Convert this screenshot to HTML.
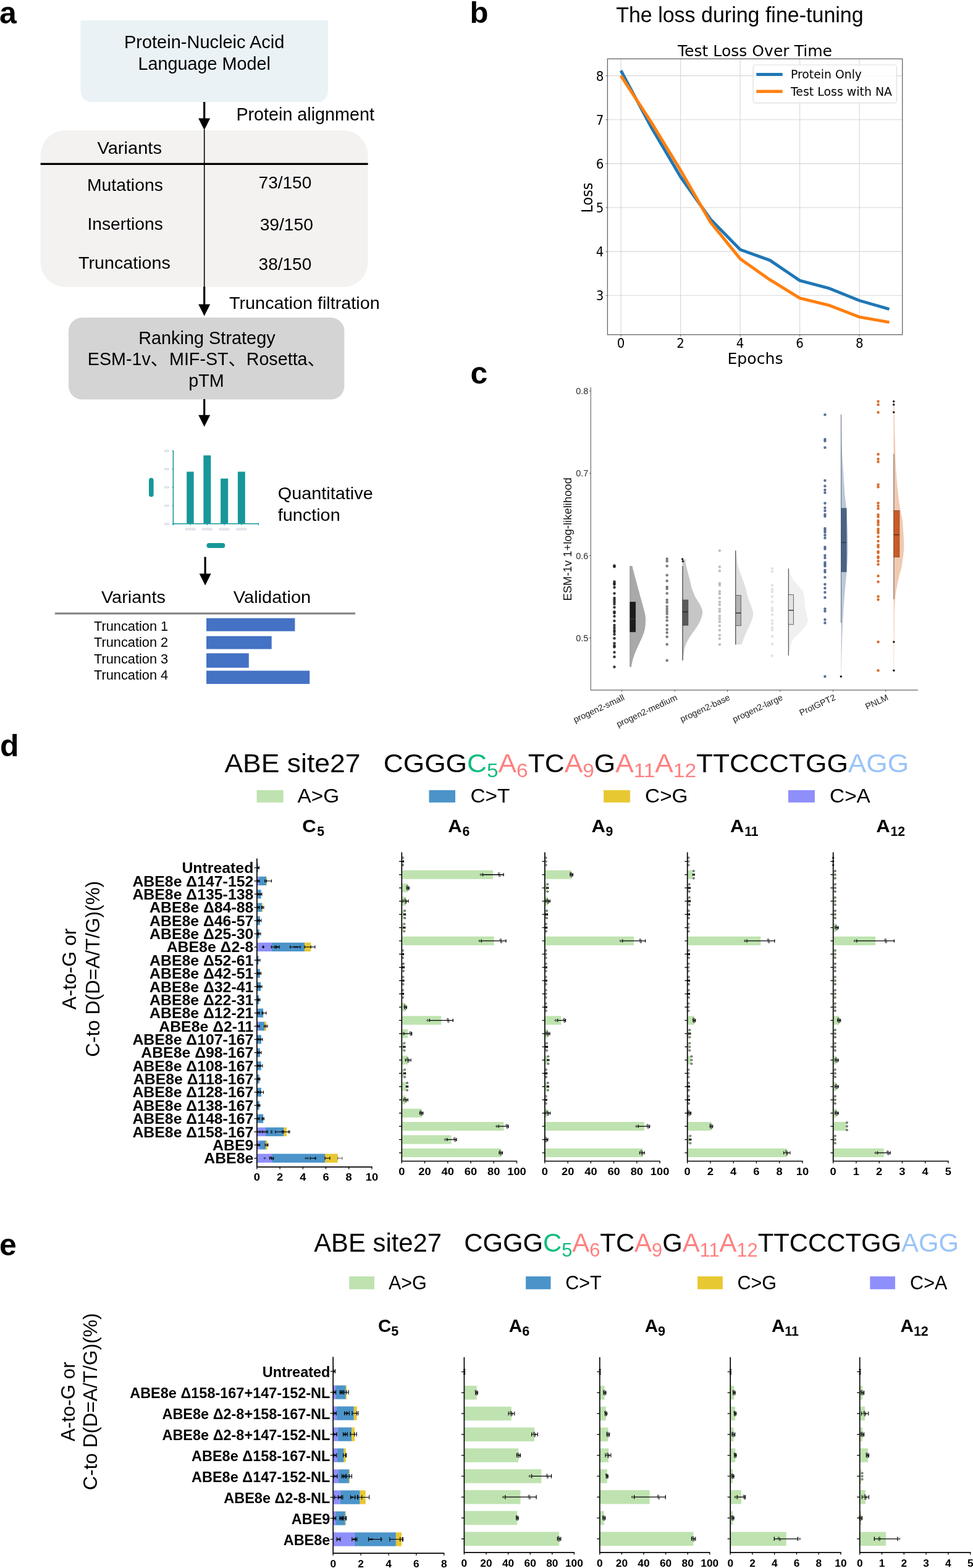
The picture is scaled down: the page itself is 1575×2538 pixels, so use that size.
<!DOCTYPE html>
<html lang="en">
<head>
<meta charset="utf-8">
<title>Figure</title>
<style>
html,body{margin:0;padding:0;background:#fff;}
body{width:1575px;height:2538px;overflow:hidden;}
svg{display:block;font-family:"Liberation Sans","Noto Sans CJK SC",sans-serif;fill:#000;}
</style>
</head>
<body>
<svg width="1575" height="2538" viewBox="0 0 1575 2538">
<!-- panel a -->
<text x="-1" y="37.5" font-size="50" font-weight="bold">a</text>
<path d="M130.5 33 H531 V145 Q531 165.3 511 165.3 H150.5 Q130.5 165.3 130.5 145 Z" fill="#eaf2f6"/>
<text x="330.7" y="78" font-size="29" text-anchor="middle" textLength="259.5" lengthAdjust="spacingAndGlyphs">Protein-Nucleic Acid</text>
<text x="330.7" y="113.3" font-size="29" text-anchor="middle" textLength="214.5" lengthAdjust="spacingAndGlyphs">Language Model</text>
<line x1="330.7" y1="165" x2="330.7" y2="192.5" stroke="#000" stroke-width="3.2"/>
<path d="M321.2 191.5 L340.2 191.5 L330.7 210.5Z" fill="#000"/>
<text x="382.4" y="195" font-size="29" textLength="223.5" lengthAdjust="spacingAndGlyphs">Protein alignment</text>
<rect x="65.6" y="211" width="530" height="253.5" fill="#f3f2f1" rx="40"/>
<line x1="330.7" y1="210" x2="330.7" y2="465" stroke="#000" stroke-width="1.6"/>
<line x1="65.6" y1="265.4" x2="595.6" y2="265.4" stroke="#000" stroke-width="3.4"/>
<text x="209.7" y="249.3" font-size="28.5" text-anchor="middle" textLength="104.6" lengthAdjust="spacingAndGlyphs">Variants</text>
<text x="202.4" y="308.5" font-size="28.5" text-anchor="middle" textLength="122.8" lengthAdjust="spacingAndGlyphs">Mutations</text>
<text x="202.6" y="372" font-size="28.5" text-anchor="middle" textLength="122.3" lengthAdjust="spacingAndGlyphs">Insertions</text>
<text x="201.4" y="435.4" font-size="28.5" text-anchor="middle" textLength="148.7" lengthAdjust="spacingAndGlyphs">Truncations</text>
<text x="461.4" y="305" font-size="28.5" text-anchor="middle" textLength="85.7" lengthAdjust="spacingAndGlyphs">73/150</text>
<text x="463.8" y="373.3" font-size="28.5" text-anchor="middle" textLength="86.3" lengthAdjust="spacingAndGlyphs">39/150</text>
<text x="461.4" y="436.8" font-size="28.5" text-anchor="middle" textLength="85.7" lengthAdjust="spacingAndGlyphs">38/150</text>
<line x1="330.7" y1="464" x2="330.7" y2="493.4" stroke="#000" stroke-width="3.2"/>
<path d="M321.2 492.4 L340.2 492.4 L330.7 511.4Z" fill="#000"/>
<text x="371" y="499.7" font-size="28.5" textLength="243.8" lengthAdjust="spacingAndGlyphs">Truncation filtration</text>
<rect x="111" y="514" width="446.4" height="132.6" fill="#d4d4d4" rx="22"/>
<text x="334.9" y="556.5" font-size="28.7" text-anchor="middle" textLength="221.5" lengthAdjust="spacingAndGlyphs">Ranking Strategy</text>
<text x="141.8" y="590.7" font-size="28.7">ESM-1v、</text>
<text x="274" y="590.7" font-size="28.7">MIF-ST、</text>
<text x="398.7" y="590.7" font-size="28.7">Rosetta、</text>
<text x="334" y="626" font-size="28.7" text-anchor="middle" textLength="57.5" lengthAdjust="spacingAndGlyphs">pTM</text>
<line x1="330.7" y1="646" x2="330.7" y2="672.7" stroke="#000" stroke-width="3.2"/>
<path d="M321.2 671.7 L340.2 671.7 L330.7 690.7Z" fill="#000"/>
<rect x="265.5" y="727.8" width="9" height="4" fill="#e2e6ec" rx="2"/>
<line x1="278.5" y1="729.8" x2="281" y2="729.8" stroke="#17979a" stroke-width="1.2"/>
<rect x="265.5" y="757.3" width="9" height="4" fill="#e2e6ec" rx="2"/>
<line x1="278.5" y1="759.3" x2="281" y2="759.3" stroke="#17979a" stroke-width="1.2"/>
<rect x="265.5" y="786.7" width="9" height="4" fill="#e2e6ec" rx="2"/>
<line x1="278.5" y1="788.7" x2="281" y2="788.7" stroke="#17979a" stroke-width="1.2"/>
<rect x="265.5" y="816.5" width="9" height="4" fill="#e2e6ec" rx="2"/>
<line x1="278.5" y1="818.5" x2="281" y2="818.5" stroke="#17979a" stroke-width="1.2"/>
<rect x="265.5" y="846.2" width="9" height="4" fill="#e2e6ec" rx="2"/>
<line x1="278.5" y1="848.2" x2="281" y2="848.2" stroke="#17979a" stroke-width="1.2"/>
<rect x="299.1" y="854.3" width="18" height="4.4" fill="#e2e6ec" rx="2.2"/>
<line x1="308.1" y1="847.8" x2="308.1" y2="850.3" stroke="#17979a" stroke-width="1.2"/>
<rect x="326.3" y="854.3" width="18" height="4.4" fill="#e2e6ec" rx="2.2"/>
<line x1="335.3" y1="847.8" x2="335.3" y2="850.3" stroke="#17979a" stroke-width="1.2"/>
<rect x="354.1" y="854.3" width="18" height="4.4" fill="#e2e6ec" rx="2.2"/>
<line x1="363.1" y1="847.8" x2="363.1" y2="850.3" stroke="#17979a" stroke-width="1.2"/>
<rect x="381.9" y="854.3" width="18" height="4.4" fill="#e2e6ec" rx="2.2"/>
<line x1="390.9" y1="847.8" x2="390.9" y2="850.3" stroke="#17979a" stroke-width="1.2"/>
<line x1="418.3" y1="846.5" x2="418.3" y2="850.3" stroke="#17979a" stroke-width="1.2"/>
<line x1="280.4" y1="850.3" x2="280.4" y2="846.5" stroke="#17979a" stroke-width="1.2"/>
<path d="M280.4 729.4 V847.8 H418.3" fill="none" stroke="#17979a" stroke-width="1.6"/>
<rect x="302.2" y="763.5" width="11.5" height="84.3" fill="#17979a"/>
<rect x="329.4" y="737.1" width="11.9" height="110.7" fill="#17979a"/>
<rect x="357.1" y="774.6" width="12.1" height="73.2" fill="#17979a"/>
<rect x="384.9" y="763.5" width="11.9" height="84.3" fill="#17979a"/>
<rect x="241" y="773.4" width="7.6" height="30.8" fill="#17979a" rx="3.8"/>
<rect x="334.5" y="879" width="29.8" height="7.9" fill="#17979a" rx="3.9"/>
<line x1="332.1" y1="901.4" x2="332.1" y2="929.5" stroke="#000" stroke-width="3.2"/>
<path d="M322.6 928.5 L341.6 928.5 L332.1 947.5Z" fill="#000"/>
<text x="215.9" y="976" font-size="28.5" text-anchor="middle" textLength="104" lengthAdjust="spacingAndGlyphs">Variants</text>
<text x="440.5" y="976" font-size="28.5" text-anchor="middle" textLength="125.4" lengthAdjust="spacingAndGlyphs">Validation</text>
<line x1="88.9" y1="993.1" x2="575" y2="993.1" stroke="#7f7f7f" stroke-width="3"/>
<text x="152" y="1021.1" font-size="22.5" textLength="120.2" lengthAdjust="spacingAndGlyphs">Truncation 1</text>
<rect x="334.1" y="1000.6" width="143.3" height="21.1" fill="#4472c4"/>
<text x="152" y="1046.8" font-size="22.5" textLength="120.2" lengthAdjust="spacingAndGlyphs">Truncation 2</text>
<rect x="334.1" y="1029.6" width="105.6" height="21" fill="#4472c4"/>
<text x="152" y="1074.2" font-size="22.5" textLength="120.2" lengthAdjust="spacingAndGlyphs">Truncation 3</text>
<rect x="334.1" y="1057.4" width="68.7" height="23.4" fill="#4472c4"/>
<text x="152" y="1100.3" font-size="22.5" textLength="120.2" lengthAdjust="spacingAndGlyphs">Truncation 4</text>
<rect x="334.1" y="1085.6" width="167.1" height="21.4" fill="#4472c4"/>
<text x="449.7" y="807.5" font-size="28.5" textLength="154" lengthAdjust="spacingAndGlyphs">Quantitative</text>
<text x="449.7" y="843" font-size="28.5" textLength="101" lengthAdjust="spacingAndGlyphs">function</text>
<!-- panel b -->
<text x="760.5" y="36.6" font-size="49" font-weight="bold">b</text>
<text x="1197.4" y="36.3" font-size="34.5" text-anchor="middle" textLength="400.5" lengthAdjust="spacingAndGlyphs">The loss during fine-tuning</text>
<rect x="983.4" y="95.3" width="477.3" height="446.4" fill="#fff"/>
<g font-family='"DejaVu Sans", "Liberation Sans", sans-serif' font-size="20.5">
<line x1="1005.1" y1="95.3" x2="1005.1" y2="541.7" stroke="#d6d6d6" stroke-width="1.1"/>
<line x1="1005.1" y1="541.7" x2="1005.1" y2="544.7" stroke="#666" stroke-width="1"/>
<text x="1005.1" y="563" text-anchor="middle" textLength="12.6" lengthAdjust="spacingAndGlyphs">0</text>
<line x1="1101.62" y1="95.3" x2="1101.62" y2="541.7" stroke="#d6d6d6" stroke-width="1.1"/>
<line x1="1101.62" y1="541.7" x2="1101.62" y2="544.7" stroke="#666" stroke-width="1"/>
<text x="1101.62" y="563" text-anchor="middle" textLength="12.6" lengthAdjust="spacingAndGlyphs">2</text>
<line x1="1198.14" y1="95.3" x2="1198.14" y2="541.7" stroke="#d6d6d6" stroke-width="1.1"/>
<line x1="1198.14" y1="541.7" x2="1198.14" y2="544.7" stroke="#666" stroke-width="1"/>
<text x="1198.14" y="563" text-anchor="middle" textLength="12.6" lengthAdjust="spacingAndGlyphs">4</text>
<line x1="1294.66" y1="95.3" x2="1294.66" y2="541.7" stroke="#d6d6d6" stroke-width="1.1"/>
<line x1="1294.66" y1="541.7" x2="1294.66" y2="544.7" stroke="#666" stroke-width="1"/>
<text x="1294.66" y="563" text-anchor="middle" textLength="12.6" lengthAdjust="spacingAndGlyphs">6</text>
<line x1="1391.18" y1="95.3" x2="1391.18" y2="541.7" stroke="#d6d6d6" stroke-width="1.1"/>
<line x1="1391.18" y1="541.7" x2="1391.18" y2="544.7" stroke="#666" stroke-width="1"/>
<text x="1391.18" y="563" text-anchor="middle" textLength="12.6" lengthAdjust="spacingAndGlyphs">8</text>
<line x1="983.4" y1="478.3" x2="1460.7" y2="478.3" stroke="#d6d6d6" stroke-width="1.1"/>
<line x1="980.4" y1="478.3" x2="983.4" y2="478.3" stroke="#666" stroke-width="1"/>
<text x="977.4" y="486.3" text-anchor="end" textLength="12.6" lengthAdjust="spacingAndGlyphs">3</text>
<line x1="983.4" y1="407.17" x2="1460.7" y2="407.17" stroke="#d6d6d6" stroke-width="1.1"/>
<line x1="980.4" y1="407.17" x2="983.4" y2="407.17" stroke="#666" stroke-width="1"/>
<text x="977.4" y="415.17" text-anchor="end" textLength="12.6" lengthAdjust="spacingAndGlyphs">4</text>
<line x1="983.4" y1="336.04" x2="1460.7" y2="336.04" stroke="#d6d6d6" stroke-width="1.1"/>
<line x1="980.4" y1="336.04" x2="983.4" y2="336.04" stroke="#666" stroke-width="1"/>
<text x="977.4" y="344.04" text-anchor="end" textLength="12.6" lengthAdjust="spacingAndGlyphs">5</text>
<line x1="983.4" y1="264.91" x2="1460.7" y2="264.91" stroke="#d6d6d6" stroke-width="1.1"/>
<line x1="980.4" y1="264.91" x2="983.4" y2="264.91" stroke="#666" stroke-width="1"/>
<text x="977.4" y="272.91" text-anchor="end" textLength="12.6" lengthAdjust="spacingAndGlyphs">6</text>
<line x1="983.4" y1="193.78" x2="1460.7" y2="193.78" stroke="#d6d6d6" stroke-width="1.1"/>
<line x1="980.4" y1="193.78" x2="983.4" y2="193.78" stroke="#666" stroke-width="1"/>
<text x="977.4" y="201.78" text-anchor="end" textLength="12.6" lengthAdjust="spacingAndGlyphs">7</text>
<line x1="983.4" y1="122.65" x2="1460.7" y2="122.65" stroke="#d6d6d6" stroke-width="1.1"/>
<line x1="980.4" y1="122.65" x2="983.4" y2="122.65" stroke="#666" stroke-width="1"/>
<text x="977.4" y="130.65" text-anchor="end" textLength="12.6" lengthAdjust="spacingAndGlyphs">8</text>
</g>
<polyline points="1005.1,114.26 1053.36,204.45 1101.62,286.25 1149.88,354.75 1198.14,403.97 1246.4,421.4 1294.66,454.12 1342.92,466.92 1391.18,486.48 1439.44,500.35" fill="none" stroke="#1f77b4" stroke-width="4.9" stroke-linejoin="round"/>
<polyline points="1005.1,122.65 1053.36,196.63 1101.62,275.58 1149.88,359.51 1198.14,418.91 1246.4,452.91 1294.66,482.57 1342.92,494.45 1391.18,513.15 1439.44,521.69" fill="none" stroke="#ff7f0e" stroke-width="4.9" stroke-linejoin="round"/>
<rect x="983.4" y="95.3" width="477.3" height="446.4" fill="none" stroke="#666" stroke-width="1.3"/>
<rect x="1219" y="105" width="232.3" height="61.7" rx="4" fill="#fff" fill-opacity="0.8" stroke="#dedede" stroke-width="1.2"/>
<line x1="1224.3" y1="120.4" x2="1266.7" y2="120.4" stroke="#1f77b4" stroke-width="5"/>
<line x1="1224.3" y1="148.1" x2="1266.7" y2="148.1" stroke="#ff7f0e" stroke-width="5"/>
<text x="1280" y="127.3" font-size="19.5" font-family='"DejaVu Sans", "Liberation Sans", sans-serif' textLength="115" lengthAdjust="spacingAndGlyphs">Protein Only</text>
<text x="1280" y="155" font-size="19.5" font-family='"DejaVu Sans", "Liberation Sans", sans-serif' textLength="164" lengthAdjust="spacingAndGlyphs">Test Loss with NA</text>
<text x="1222" y="90.5" font-size="25.5" text-anchor="middle" font-family='"DejaVu Sans", "Liberation Sans", sans-serif' textLength="250" lengthAdjust="spacingAndGlyphs">Test Loss Over Time</text>
<text x="1222.5" y="589.4" font-size="25.5" text-anchor="middle" font-family='"DejaVu Sans", "Liberation Sans", sans-serif' textLength="90" lengthAdjust="spacingAndGlyphs">Epochs</text>
<text x="958.5" y="320" font-size="25.5" text-anchor="middle" font-family='"DejaVu Sans", "Liberation Sans", sans-serif' textLength="49" lengthAdjust="spacingAndGlyphs" transform="rotate(-90 958.5 320)">Loss</text>
<!-- panel c -->
<text x="761.5" y="621" font-size="50" font-weight="bold">c</text>
<path d="M1019.9 916.08 L1023.34 916.08 C1024.35 919.96 1027.22 931.08 1029.42 939.37 C1031.63 947.65 1034.19 957 1036.57 965.82 C1038.95 974.64 1042.3 985.88 1043.71 992.28 C1045.12 998.67 1045.03 999.77 1045.03 1004.18 C1045.03 1008.59 1044.68 1014.1 1043.71 1018.73 C1042.74 1023.36 1040.98 1027.55 1039.21 1031.96 C1037.45 1036.37 1035.11 1040.78 1033.13 1045.19 C1031.14 1049.59 1028.94 1054 1027.31 1058.41 C1025.68 1062.82 1024.22 1068.11 1023.34 1071.64 C1022.46 1075.17 1022.24 1078.25 1022.02 1079.58 L1019.9 1079.58Z" fill="#a9a9a9"/>
<path d="M1104.6 905.5 L1109.36 905.5 C1109.49 906.74 1109.49 909.47 1110.16 912.91 C1110.82 916.35 1112.23 921.73 1113.33 926.14 C1114.43 930.55 1115.67 934.96 1116.77 939.37 C1117.87 943.77 1118.53 948.18 1119.94 952.59 C1121.35 957 1123.03 961.41 1125.23 965.82 C1127.44 970.23 1131.19 974.86 1133.17 979.05 C1135.16 983.24 1137.14 986.54 1137.14 990.95 C1137.14 995.36 1135.16 1000.87 1133.17 1005.5 C1131.19 1010.13 1128.1 1014.32 1125.23 1018.73 C1122.37 1023.14 1118.62 1027.55 1115.98 1031.96 C1113.33 1036.37 1110.91 1040.78 1109.36 1045.19 C1107.82 1049.59 1107.38 1054.44 1106.72 1058.41 C1106.06 1062.38 1105.61 1067.23 1105.39 1068.99 L1104.6 1068.99Z" fill="#c6c6c6"/>
<path d="M1190.5 891.22 L1191.03 891.22 C1191.51 894.83 1192.79 907.09 1193.94 912.91 C1195.09 918.73 1196.45 921.73 1197.91 926.14 C1199.36 930.55 1201.13 934.96 1202.67 939.37 C1204.21 943.77 1205.89 948.18 1207.17 952.59 C1208.45 957 1209.02 961.41 1210.34 965.82 C1211.66 970.23 1213.65 974.64 1215.1 979.05 C1216.56 983.46 1218.85 987.87 1219.07 992.28 C1219.29 996.68 1217.88 1001.09 1216.43 1005.5 C1214.97 1009.91 1212.33 1014.32 1210.34 1018.73 C1208.36 1023.14 1206.15 1027.86 1204.52 1031.96 C1202.89 1036.06 1201.21 1041.44 1200.55 1043.33 L1190.5 1043.33Z" fill="#e0e0e0"/>
<path d="M1276 920.32 L1277.06 920.32 C1277.76 922.61 1279.26 930.02 1281.29 934.07 C1283.32 938.13 1286.36 941.13 1289.23 944.66 C1292.09 948.18 1296.37 951.71 1298.49 955.24 C1300.6 958.77 1301.18 961.85 1301.93 965.82 C1302.68 969.79 1302.46 974.64 1302.98 979.05 C1303.51 983.46 1304.31 988.09 1305.1 992.28 C1305.89 996.46 1307.97 1000.65 1307.75 1004.18 C1307.53 1007.71 1305.98 1010.13 1303.78 1013.44 C1301.57 1016.75 1297.83 1020.49 1294.52 1024.02 C1291.21 1027.55 1286.36 1031.08 1283.94 1034.6 C1281.51 1038.13 1281.2 1040.78 1279.97 1045.19 C1278.73 1049.59 1277.1 1058.41 1276.53 1061.06 L1276 1061.06Z" fill="#f0f0f0"/>
<path d="M1361.5 671 L1361.7 671 C1361.88 679.83 1362.16 708.2 1362.75 724 C1363.34 739.8 1364.46 753.13 1365.25 765.8 C1366.04 778.47 1366.71 790.55 1367.5 800 C1368.29 809.45 1369.33 814.17 1370 822.5 C1370.67 830.83 1371.08 838.82 1371.5 850 C1371.92 861.18 1372.67 877.03 1372.5 889.6 C1372.33 902.17 1371.47 912.55 1370.5 925.4 C1369.53 938.25 1367.75 952.93 1366.7 966.7 C1365.65 980.47 1364.82 995.78 1364.2 1008 C1363.58 1020.22 1363.4 1025.5 1363 1040 C1362.6 1054.5 1362 1085.83 1361.8 1095 L1361.5 1095Z" fill="#bcc7d6"/>
<path d="M1446.5 649 L1447.5 649 C1447.67 658.05 1447.97 683.83 1448.5 703.3 C1449.03 722.77 1449.65 748.43 1450.7 765.8 C1451.75 783.17 1453.58 797.08 1454.8 807.5 C1456.02 817.92 1457.02 822.6 1458 828.3 C1458.98 834 1459.95 835.58 1460.7 841.7 C1461.45 847.82 1462.08 857.37 1462.5 865 C1462.92 872.63 1463.62 879.23 1463.2 887.5 C1462.78 895.77 1461.4 906.62 1460 914.6 C1458.6 922.58 1456.35 928.5 1454.8 935.4 C1453.25 942.3 1451.75 949.07 1450.7 956 C1449.65 962.93 1448.98 969.67 1448.5 977 C1448.02 984.33 1448.05 982 1447.8 1000 C1447.55 1018 1447.13 1070.83 1447 1085 L1446.5 1085Z" fill="#f1c9b1"/>
<line x1="1019.9" y1="916" x2="1019.9" y2="1079.6" stroke="#8a8a8a" stroke-width="1"/>
<rect x="1019.9" y="974.6" width="8.7" height="48.1" fill="#1c1c1c" stroke="#1c1c1c" stroke-width="0.9"/>
<line x1="1019.9" y1="1002" x2="1028.6" y2="1002" stroke="#3a3a3a" stroke-width="1.3"/>
<line x1="1105" y1="916.3" x2="1105" y2="1069" stroke="#555" stroke-width="1.4"/>
<rect x="1105" y="971.1" width="8.8" height="41" fill="#5a5a5a" stroke="#4a4a4a" stroke-width="0.9"/>
<line x1="1105" y1="990.4" x2="1113.8" y2="990.4" stroke="#222" stroke-width="1.3"/>
<line x1="1190.8" y1="891.2" x2="1190.8" y2="1043.3" stroke="#222" stroke-width="1"/>
<rect x="1190.8" y="963.7" width="8.5" height="48.9" fill="#b3b3b3" stroke="#555" stroke-width="0.9"/>
<line x1="1190.8" y1="992.3" x2="1199.3" y2="992.3" stroke="#222" stroke-width="1.3"/>
<line x1="1276.3" y1="920.3" x2="1276.3" y2="1061" stroke="#333" stroke-width="1"/>
<rect x="1276.3" y="962.6" width="8.1" height="48.2" fill="#e3e3e3" stroke="#555" stroke-width="0.9"/>
<line x1="1276.3" y1="987.8" x2="1284.4" y2="987.8" stroke="#222" stroke-width="1.3"/>
<line x1="1361.5" y1="671" x2="1361.5" y2="1008.3" stroke="#5a6b85" stroke-width="1"/>
<rect x="1361.5" y="822.9" width="8.5" height="102.5" fill="#4a6285" stroke="#41597b" stroke-width="0.9"/>
<line x1="1361.5" y1="878.1" x2="1370" y2="878.1" stroke="#2b3a55" stroke-width="1.3"/>
<line x1="1446.9" y1="734.6" x2="1446.9" y2="969.8" stroke="#6a5a55" stroke-width="1"/>
<rect x="1446.9" y="826.5" width="8.9" height="75.2" fill="#cb5b25" stroke="#8a4a2a" stroke-width="0.9"/>
<line x1="1446.9" y1="865.6" x2="1455.8" y2="865.6" stroke="#5a2a12" stroke-width="1.3"/>
<circle cx="1104.6" cy="905" r="1.7" fill="#111"/>
<circle cx="1105.4" cy="908.6" r="1.7" fill="#111"/>
<circle cx="1361.3" cy="1095" r="1.7" fill="#111"/>
<circle cx="1446.7" cy="649.8" r="1.7" fill="#111"/>
<circle cx="1446.7" cy="655" r="1.7" fill="#111"/>
<circle cx="1446.7" cy="667.3" r="1.7" fill="#111"/>
<circle cx="1446.9" cy="1039" r="1.7" fill="#111"/>
<circle cx="1446.9" cy="1085.2" r="1.7" fill="#111"/>
<g fill="#161616" fill-opacity="0.85">
<circle cx="994.5" cy="915.56" r="2.25"/>
<circle cx="994.5" cy="917.14" r="2.25"/>
<circle cx="994.5" cy="941.48" r="2.25"/>
<circle cx="994.5" cy="944.13" r="2.25"/>
<circle cx="994.5" cy="945.98" r="2.25"/>
<circle cx="994.5" cy="950.74" r="2.25"/>
<circle cx="994.5" cy="960.53" r="2.25"/>
<circle cx="994.5" cy="967.94" r="2.25"/>
<circle cx="994.5" cy="971.11" r="2.25"/>
<circle cx="994.5" cy="974.29" r="2.25"/>
<circle cx="994.5" cy="977.72" r="2.25"/>
<circle cx="994.5" cy="983.02" r="2.25"/>
<circle cx="994.5" cy="990.16" r="2.25"/>
<circle cx="994.5" cy="992.28" r="2.25"/>
<circle cx="994.5" cy="997.57" r="2.25"/>
<circle cx="994.5" cy="1004.97" r="2.25"/>
<circle cx="994.5" cy="1012.12" r="2.25"/>
<circle cx="994.5" cy="1016.08" r="2.25"/>
<circle cx="994.5" cy="1020.05" r="2.25"/>
<circle cx="994.5" cy="1022.7" r="2.25"/>
<circle cx="994.5" cy="1026.67" r="2.25"/>
<circle cx="994.5" cy="1033.28" r="2.25"/>
<circle cx="994.5" cy="1041.22" r="2.25"/>
<circle cx="994.5" cy="1045.19" r="2.25"/>
<circle cx="994.5" cy="1047.3" r="2.25"/>
<circle cx="994.5" cy="1055.77" r="2.25"/>
<circle cx="994.5" cy="1063.17" r="2.25"/>
<circle cx="994.5" cy="1079.58" r="2.25"/>
</g>
<g fill="#5c5c5c" fill-opacity="0.8">
<circle cx="1079.7" cy="904.44" r="2.25"/>
<circle cx="1079.7" cy="908.15" r="2.25"/>
<circle cx="1079.7" cy="916.35" r="2.25"/>
<circle cx="1079.7" cy="930.9" r="2.25"/>
<circle cx="1079.7" cy="940.16" r="2.25"/>
<circle cx="1079.7" cy="949.95" r="2.25"/>
<circle cx="1079.7" cy="953.12" r="2.25"/>
<circle cx="1079.7" cy="960.53" r="2.25"/>
<circle cx="1079.7" cy="971.11" r="2.25"/>
<circle cx="1079.7" cy="975.08" r="2.25"/>
<circle cx="1079.7" cy="981.69" r="2.25"/>
<circle cx="1079.7" cy="985.66" r="2.25"/>
<circle cx="1079.7" cy="989.63" r="2.25"/>
<circle cx="1079.7" cy="993.6" r="2.25"/>
<circle cx="1079.7" cy="998.89" r="2.25"/>
<circle cx="1079.7" cy="1004.18" r="2.25"/>
<circle cx="1079.7" cy="1012.12" r="2.25"/>
<circle cx="1079.7" cy="1018.73" r="2.25"/>
<circle cx="1079.7" cy="1024.02" r="2.25"/>
<circle cx="1079.7" cy="1030.63" r="2.25"/>
<circle cx="1079.7" cy="1043.07" r="2.25"/>
<circle cx="1079.7" cy="1068.99" r="2.25"/>
</g>
<g fill="#b0b0b0" fill-opacity="0.8">
<circle cx="1164.9" cy="891.22" r="2.25"/>
<circle cx="1164.9" cy="917.41" r="2.25"/>
<circle cx="1164.9" cy="924.02" r="2.25"/>
<circle cx="1164.9" cy="944.13" r="2.25"/>
<circle cx="1164.9" cy="947.3" r="2.25"/>
<circle cx="1164.9" cy="957.35" r="2.25"/>
<circle cx="1164.9" cy="961.32" r="2.25"/>
<circle cx="1164.9" cy="967.94" r="2.25"/>
<circle cx="1164.9" cy="974.55" r="2.25"/>
<circle cx="1164.9" cy="979.05" r="2.25"/>
<circle cx="1164.9" cy="985.66" r="2.25"/>
<circle cx="1164.9" cy="989.63" r="2.25"/>
<circle cx="1164.9" cy="997.04" r="2.25"/>
<circle cx="1164.9" cy="1001.53" r="2.25"/>
<circle cx="1164.9" cy="1006.3" r="2.25"/>
<circle cx="1164.9" cy="1012.91" r="2.25"/>
<circle cx="1164.9" cy="1020.05" r="2.25"/>
<circle cx="1164.9" cy="1027.99" r="2.25"/>
<circle cx="1164.9" cy="1033.81" r="2.25"/>
<circle cx="1164.9" cy="1043.33" r="2.25"/>
</g>
<g fill="#dcdcdc" fill-opacity="0.8">
<circle cx="1250" cy="920.32" r="2.25"/>
<circle cx="1250" cy="925.34" r="2.25"/>
<circle cx="1250" cy="947.3" r="2.25"/>
<circle cx="1250" cy="953.92" r="2.25"/>
<circle cx="1250" cy="957.88" r="2.25"/>
<circle cx="1250" cy="965.82" r="2.25"/>
<circle cx="1250" cy="974.29" r="2.25"/>
<circle cx="1250" cy="984.34" r="2.25"/>
<circle cx="1250" cy="988.31" r="2.25"/>
<circle cx="1250" cy="994.92" r="2.25"/>
<circle cx="1250" cy="1004.18" r="2.25"/>
<circle cx="1250" cy="1009.47" r="2.25"/>
<circle cx="1250" cy="1016.08" r="2.25"/>
<circle cx="1250" cy="1020.05" r="2.25"/>
<circle cx="1250" cy="1030.11" r="2.25"/>
<circle cx="1250" cy="1042.54" r="2.25"/>
<circle cx="1250" cy="1061.59" r="2.25"/>
</g>
<g fill="#3f5b86" fill-opacity="0.85">
<circle cx="1335.4" cy="671.25" r="2.25"/>
<circle cx="1335.4" cy="711.04" r="2.25"/>
<circle cx="1335.4" cy="713.75" r="2.25"/>
<circle cx="1335.4" cy="724.58" r="2.25"/>
<circle cx="1335.4" cy="777.71" r="2.25"/>
<circle cx="1335.4" cy="786.67" r="2.25"/>
<circle cx="1335.4" cy="792.92" r="2.25"/>
<circle cx="1335.4" cy="797.5" r="2.25"/>
<circle cx="1335.4" cy="814.58" r="2.25"/>
<circle cx="1335.4" cy="821.88" r="2.25"/>
<circle cx="1335.4" cy="826.67" r="2.25"/>
<circle cx="1335.4" cy="832.71" r="2.25"/>
<circle cx="1335.4" cy="835.83" r="2.25"/>
<circle cx="1335.4" cy="855.21" r="2.25"/>
<circle cx="1335.4" cy="858.33" r="2.25"/>
<circle cx="1335.4" cy="861.46" r="2.25"/>
<circle cx="1335.4" cy="866.25" r="2.25"/>
<circle cx="1335.4" cy="870.83" r="2.25"/>
<circle cx="1335.4" cy="885.42" r="2.25"/>
<circle cx="1335.4" cy="888.54" r="2.25"/>
<circle cx="1335.4" cy="898.96" r="2.25"/>
<circle cx="1335.4" cy="903.12" r="2.25"/>
<circle cx="1335.4" cy="910.42" r="2.25"/>
<circle cx="1335.4" cy="913.54" r="2.25"/>
<circle cx="1335.4" cy="916.25" r="2.25"/>
<circle cx="1335.4" cy="922.92" r="2.25"/>
<circle cx="1335.4" cy="926.04" r="2.25"/>
<circle cx="1335.4" cy="934.38" r="2.25"/>
<circle cx="1335.4" cy="945.83" r="2.25"/>
<circle cx="1335.4" cy="952.08" r="2.25"/>
<circle cx="1335.4" cy="958.75" r="2.25"/>
<circle cx="1335.4" cy="967.29" r="2.25"/>
<circle cx="1335.4" cy="985.42" r="2.25"/>
<circle cx="1335.4" cy="989.17" r="2.25"/>
<circle cx="1335.4" cy="1003.12" r="2.25"/>
<circle cx="1335.4" cy="1008.33" r="2.25"/>
<circle cx="1335.4" cy="1095" r="2.25"/>
</g>
<g fill="#d35f1a" fill-opacity="0.9">
<circle cx="1421.5" cy="649.79" r="2.25"/>
<circle cx="1421.5" cy="655" r="2.25"/>
<circle cx="1421.5" cy="667.5" r="2.25"/>
<circle cx="1421.5" cy="735.21" r="2.25"/>
<circle cx="1421.5" cy="742.92" r="2.25"/>
<circle cx="1421.5" cy="747.5" r="2.25"/>
<circle cx="1421.5" cy="784.58" r="2.25"/>
<circle cx="1421.5" cy="788.33" r="2.25"/>
<circle cx="1421.5" cy="814.17" r="2.25"/>
<circle cx="1421.5" cy="818.75" r="2.25"/>
<circle cx="1421.5" cy="823.33" r="2.25"/>
<circle cx="1421.5" cy="833.33" r="2.25"/>
<circle cx="1421.5" cy="836.46" r="2.25"/>
<circle cx="1421.5" cy="842.71" r="2.25"/>
<circle cx="1421.5" cy="845.83" r="2.25"/>
<circle cx="1421.5" cy="849.58" r="2.25"/>
<circle cx="1421.5" cy="856.25" r="2.25"/>
<circle cx="1421.5" cy="859.38" r="2.25"/>
<circle cx="1421.5" cy="862.5" r="2.25"/>
<circle cx="1421.5" cy="868.75" r="2.25"/>
<circle cx="1421.5" cy="876.04" r="2.25"/>
<circle cx="1421.5" cy="882.29" r="2.25"/>
<circle cx="1421.5" cy="885.42" r="2.25"/>
<circle cx="1421.5" cy="892.71" r="2.25"/>
<circle cx="1421.5" cy="894.79" r="2.25"/>
<circle cx="1421.5" cy="901.04" r="2.25"/>
<circle cx="1421.5" cy="903.12" r="2.25"/>
<circle cx="1421.5" cy="908.33" r="2.25"/>
<circle cx="1421.5" cy="913.54" r="2.25"/>
<circle cx="1421.5" cy="932.29" r="2.25"/>
<circle cx="1421.5" cy="941.67" r="2.25"/>
<circle cx="1421.5" cy="965.62" r="2.25"/>
<circle cx="1421.5" cy="970.42" r="2.25"/>
<circle cx="1421.5" cy="1039" r="2.25"/>
<circle cx="1421.5" cy="1085.2" r="2.25"/>
</g>
<path d="M956.3 627 V1117 H1485.8" fill="none" stroke="#7f7f7f" stroke-width="1.4"/>
<line x1="953.8" y1="1032.5" x2="956.3" y2="1032.5" stroke="#555" stroke-width="1"/>
<text x="952.3" y="1037.8" font-size="14.4" text-anchor="end" fill="#2a2a2a">0.5</text>
<line x1="953.8" y1="899.3" x2="956.3" y2="899.3" stroke="#555" stroke-width="1"/>
<text x="952.3" y="904.6" font-size="14.4" text-anchor="end" fill="#2a2a2a">0.6</text>
<line x1="953.8" y1="766.1" x2="956.3" y2="766.1" stroke="#555" stroke-width="1"/>
<text x="952.3" y="771.4" font-size="14.4" text-anchor="end" fill="#2a2a2a">0.7</text>
<line x1="953.8" y1="632.9" x2="956.3" y2="632.9" stroke="#555" stroke-width="1"/>
<text x="952.3" y="638.2" font-size="14.4" text-anchor="end" fill="#2a2a2a">0.8</text>
<line x1="1006.7" y1="1117" x2="1006.7" y2="1119.7" stroke="#555" stroke-width="1"/>
<text x="1011.9" y="1132.3" font-size="14.1" text-anchor="end" fill="#1a1a1a" transform="rotate(-25 1011.9 1132.3)">progen2-small</text>
<line x1="1092.1" y1="1117" x2="1092.1" y2="1119.7" stroke="#555" stroke-width="1"/>
<text x="1097.3" y="1132.3" font-size="14.1" text-anchor="end" fill="#1a1a1a" transform="rotate(-25 1097.3 1132.3)">progen2-medium</text>
<line x1="1177.5" y1="1117" x2="1177.5" y2="1119.7" stroke="#555" stroke-width="1"/>
<text x="1182.7" y="1132.3" font-size="14.1" text-anchor="end" fill="#1a1a1a" transform="rotate(-25 1182.7 1132.3)">progen2-base</text>
<line x1="1262.9" y1="1117" x2="1262.9" y2="1119.7" stroke="#555" stroke-width="1"/>
<text x="1268.1" y="1132.3" font-size="14.1" text-anchor="end" fill="#1a1a1a" transform="rotate(-25 1268.1 1132.3)">progen2-large</text>
<line x1="1348.3" y1="1117" x2="1348.3" y2="1119.7" stroke="#555" stroke-width="1"/>
<text x="1353.5" y="1132.3" font-size="14.1" text-anchor="end" fill="#1a1a1a" transform="rotate(-25 1353.5 1132.3)">ProtGPT2</text>
<line x1="1433.7" y1="1117" x2="1433.7" y2="1119.7" stroke="#555" stroke-width="1"/>
<text x="1438.9" y="1132.3" font-size="14.1" text-anchor="end" fill="#1a1a1a" transform="rotate(-25 1438.9 1132.3)">PNLM</text>
<text x="925.4" y="872.8" font-size="18.4" text-anchor="middle" fill="#111" textLength="199.5" lengthAdjust="spacingAndGlyphs" transform="rotate(-90 925.4 872.8)">ESM-1v 1+log-likelihood</text>
<!-- panel d -->
<text x="0" y="1224.4" font-size="50" font-weight="bold">d</text>
<text font-size="42.5" transform="translate(363.4 1250) scale(1.0470 1)">ABE site27</text>
<text font-size="42.5" transform="translate(620.8 1250) scale(1.0413 1)"><tspan fill="#000" dy="0">CGGG</tspan><tspan fill="#10bc7c" dy="0">C</tspan><tspan fill="#10bc7c" font-size="32.1" dy="8">5</tspan><tspan fill="#ff8080" dy="-8">A</tspan><tspan fill="#ff8080" font-size="32.1" dy="8">6</tspan><tspan fill="#000" dy="-8">TC</tspan><tspan fill="#ff8080" dy="0">A</tspan><tspan fill="#ff8080" font-size="32.1" dy="8">9</tspan><tspan fill="#000" dy="-8">G</tspan><tspan fill="#ff8080" dy="0">A</tspan><tspan fill="#ff8080" font-size="32.1" dy="8">11</tspan><tspan fill="#ff8080" dy="-8">A</tspan><tspan fill="#ff8080" font-size="32.1" dy="8">12</tspan><tspan fill="#000" dy="-8">TTCCCTGG</tspan><tspan fill="#99c4f8" dy="0">AGG</tspan></text>
<rect x="415.6" y="1279" width="43.1" height="19.9" fill="#bfe3b0"/>
<text font-size="32" transform="translate(481.6 1298.6) scale(1.0420 1)">A&gt;G</text>
<rect x="694.5" y="1279" width="42.5" height="19.9" fill="#4b94c9"/>
<text font-size="32" transform="translate(761.4 1298.6) scale(1.0420 1)">C&gt;T</text>
<rect x="977.1" y="1279" width="42.9" height="19.9" fill="#e8c832"/>
<text font-size="32" transform="translate(1044.1 1298.6) scale(1.0420 1)">C&gt;G</text>
<rect x="1276" y="1279" width="42.9" height="19.9" fill="#8f8ffc"/>
<text font-size="32" transform="translate(1343.1 1298.6) scale(1.0420 1)">C&gt;A</text>
<text font-size="29.3" transform="translate(511.7 1347.2) scale(1.0600 1)" text-anchor="end" font-weight="bold">C</text>
<text font-size="21.2" transform="translate(513.3 1352.9) scale(1.0000 1)" font-weight="bold">5</text>
<text font-size="29.3" transform="translate(747.8 1347.2) scale(1.0600 1)" text-anchor="end" font-weight="bold">A</text>
<text font-size="21.2" transform="translate(748.5 1352.9) scale(1.0000 1)" font-weight="bold">6</text>
<text font-size="29.3" transform="translate(979.9 1347.2) scale(1.0600 1)" text-anchor="end" font-weight="bold">A</text>
<text font-size="21.2" transform="translate(980.6 1352.9) scale(1.0000 1)" font-weight="bold">9</text>
<text font-size="29.3" transform="translate(1204.5 1347.2) scale(1.0600 1)" text-anchor="end" font-weight="bold">A</text>
<text font-size="21.2" transform="translate(1205.2 1352.9) scale(1.0000 1)" font-weight="bold">11</text>
<text font-size="29.3" transform="translate(1440.7 1347.2) scale(1.0600 1)" text-anchor="end" font-weight="bold">A</text>
<text font-size="21.2" transform="translate(1441.4 1352.9) scale(1.0000 1)" font-weight="bold">12</text>
<text x="123.3" y="1568.4" font-size="31.5" text-anchor="middle" textLength="131.6" lengthAdjust="spacingAndGlyphs" transform="rotate(-90 123.3 1568.4)">A-to-G or</text>
<text x="161" y="1568.3" font-size="31.5" text-anchor="middle" textLength="284.8" lengthAdjust="spacingAndGlyphs" transform="rotate(-90 161 1568.3)">C-to D(D=A/T/G)(%)</text>
<rect x="415.7" y="1397.45" width="1.9" height="14.3" fill="#4b94c9"/>
<rect x="430.7" y="1418.82" width="1.2" height="14.3" fill="#e8c832"/>
<rect x="419.7" y="1418.82" width="11.2" height="14.3" fill="#4b94c9"/>
<rect x="415.9" y="1418.82" width="4" height="14.3" fill="#8f8ffc"/>
<rect x="416.2" y="1440.19" width="6.4" height="14.3" fill="#4b94c9"/>
<rect x="415.9" y="1440.19" width="0.5" height="14.3" fill="#8f8ffc"/>
<rect x="423.5" y="1461.56" width="1.8" height="14.3" fill="#e8c832"/>
<rect x="416.2" y="1461.56" width="7.5" height="14.3" fill="#4b94c9"/>
<rect x="415.9" y="1461.56" width="0.5" height="14.3" fill="#8f8ffc"/>
<rect x="415.7" y="1482.93" width="5.2" height="14.3" fill="#4b94c9"/>
<rect x="415.7" y="1504.3" width="4" height="14.3" fill="#4b94c9"/>
<rect x="492.7" y="1525.67" width="10.5" height="14.3" fill="#e8c832"/>
<rect x="439.7" y="1525.67" width="53.2" height="14.3" fill="#4b94c9"/>
<rect x="415.9" y="1525.67" width="24" height="14.3" fill="#8f8ffc"/>
<rect x="415.7" y="1547.04" width="2.9" height="14.3" fill="#4b94c9"/>
<rect x="415.7" y="1568.41" width="5.1" height="14.3" fill="#4b94c9"/>
<rect x="416.2" y="1589.78" width="5.9" height="14.3" fill="#4b94c9"/>
<rect x="415.9" y="1589.78" width="0.5" height="14.3" fill="#8f8ffc"/>
<rect x="415.7" y="1611.15" width="3.7" height="14.3" fill="#4b94c9"/>
<rect x="416.7" y="1632.52" width="9.4" height="14.3" fill="#4b94c9"/>
<rect x="415.9" y="1632.52" width="1" height="14.3" fill="#8f8ffc"/>
<rect x="427.9" y="1653.89" width="3" height="14.3" fill="#e8c832"/>
<rect x="418.7" y="1653.89" width="9.4" height="14.3" fill="#4b94c9"/>
<rect x="415.9" y="1653.89" width="3" height="14.3" fill="#8f8ffc"/>
<rect x="415.7" y="1675.26" width="7.2" height="14.3" fill="#4b94c9"/>
<rect x="415.7" y="1696.63" width="5.2" height="14.3" fill="#4b94c9"/>
<rect x="415.7" y="1718" width="6.9" height="14.3" fill="#4b94c9"/>
<rect x="415.7" y="1739.37" width="4" height="14.3" fill="#4b94c9"/>
<rect x="415.7" y="1760.74" width="7.2" height="14.3" fill="#4b94c9"/>
<rect x="415.7" y="1782.11" width="4" height="14.3" fill="#4b94c9"/>
<rect x="416.7" y="1803.48" width="9.4" height="14.3" fill="#4b94c9"/>
<rect x="415.9" y="1803.48" width="1" height="14.3" fill="#8f8ffc"/>
<rect x="458.9" y="1824.85" width="5.3" height="14.3" fill="#e8c832"/>
<rect x="429.8" y="1824.85" width="29.3" height="14.3" fill="#4b94c9"/>
<rect x="415.9" y="1824.85" width="14.1" height="14.3" fill="#8f8ffc"/>
<rect x="429.8" y="1846.22" width="2.9" height="14.3" fill="#e8c832"/>
<rect x="420.7" y="1846.22" width="9.3" height="14.3" fill="#4b94c9"/>
<rect x="415.9" y="1846.22" width="5" height="14.3" fill="#8f8ffc"/>
<rect x="525.9" y="1867.59" width="20.8" height="14.3" fill="#e8c832"/>
<rect x="439.8" y="1867.59" width="86.3" height="14.3" fill="#4b94c9"/>
<rect x="415.9" y="1867.59" width="24.1" height="14.3" fill="#8f8ffc"/>
<line x1="411.6" y1="1404.6" x2="415.9" y2="1404.6" stroke="#000" stroke-width="1.3"/>
<line x1="411.6" y1="1425.97" x2="415.9" y2="1425.97" stroke="#000" stroke-width="1.3"/>
<line x1="411.6" y1="1447.34" x2="415.9" y2="1447.34" stroke="#000" stroke-width="1.3"/>
<line x1="411.6" y1="1468.71" x2="415.9" y2="1468.71" stroke="#000" stroke-width="1.3"/>
<line x1="411.6" y1="1490.08" x2="415.9" y2="1490.08" stroke="#000" stroke-width="1.3"/>
<line x1="411.6" y1="1511.45" x2="415.9" y2="1511.45" stroke="#000" stroke-width="1.3"/>
<line x1="411.6" y1="1532.82" x2="415.9" y2="1532.82" stroke="#000" stroke-width="1.3"/>
<line x1="411.6" y1="1554.19" x2="415.9" y2="1554.19" stroke="#000" stroke-width="1.3"/>
<line x1="411.6" y1="1575.56" x2="415.9" y2="1575.56" stroke="#000" stroke-width="1.3"/>
<line x1="411.6" y1="1596.93" x2="415.9" y2="1596.93" stroke="#000" stroke-width="1.3"/>
<line x1="411.6" y1="1618.3" x2="415.9" y2="1618.3" stroke="#000" stroke-width="1.3"/>
<line x1="411.6" y1="1639.67" x2="415.9" y2="1639.67" stroke="#000" stroke-width="1.3"/>
<line x1="411.6" y1="1661.04" x2="415.9" y2="1661.04" stroke="#000" stroke-width="1.3"/>
<line x1="411.6" y1="1682.41" x2="415.9" y2="1682.41" stroke="#000" stroke-width="1.3"/>
<line x1="411.6" y1="1703.78" x2="415.9" y2="1703.78" stroke="#000" stroke-width="1.3"/>
<line x1="411.6" y1="1725.15" x2="415.9" y2="1725.15" stroke="#000" stroke-width="1.3"/>
<line x1="411.6" y1="1746.52" x2="415.9" y2="1746.52" stroke="#000" stroke-width="1.3"/>
<line x1="411.6" y1="1767.89" x2="415.9" y2="1767.89" stroke="#000" stroke-width="1.3"/>
<line x1="411.6" y1="1789.26" x2="415.9" y2="1789.26" stroke="#000" stroke-width="1.3"/>
<line x1="411.6" y1="1810.63" x2="415.9" y2="1810.63" stroke="#000" stroke-width="1.3"/>
<line x1="411.6" y1="1832" x2="415.9" y2="1832" stroke="#000" stroke-width="1.3"/>
<line x1="411.6" y1="1853.37" x2="415.9" y2="1853.37" stroke="#000" stroke-width="1.3"/>
<line x1="411.6" y1="1874.74" x2="415.9" y2="1874.74" stroke="#000" stroke-width="1.3"/>
<line x1="415.9" y1="1888.8" x2="415.9" y2="1892.4" stroke="#000" stroke-width="1.3"/>
<line x1="453.1" y1="1888.8" x2="453.1" y2="1892.4" stroke="#000" stroke-width="1.3"/>
<line x1="490.3" y1="1888.8" x2="490.3" y2="1892.4" stroke="#000" stroke-width="1.3"/>
<line x1="527.5" y1="1888.8" x2="527.5" y2="1892.4" stroke="#000" stroke-width="1.3"/>
<line x1="564.7" y1="1888.8" x2="564.7" y2="1892.4" stroke="#000" stroke-width="1.3"/>
<line x1="601.9" y1="1888.8" x2="601.9" y2="1892.4" stroke="#000" stroke-width="1.3"/>
<path d="M415.9 1389.5 V1888.8 H602.5" fill="none" stroke="#000" stroke-width="1.7"/>
<text font-size="16.5" transform="translate(415.9 1911) scale(1.1100 1)" text-anchor="middle" font-weight="bold">0</text>
<text font-size="16.5" transform="translate(453.1 1911) scale(1.1100 1)" text-anchor="middle" font-weight="bold">2</text>
<text font-size="16.5" transform="translate(490.3 1911) scale(1.1100 1)" text-anchor="middle" font-weight="bold">4</text>
<text font-size="16.5" transform="translate(527.5 1911) scale(1.1100 1)" text-anchor="middle" font-weight="bold">6</text>
<text font-size="16.5" transform="translate(564.7 1911) scale(1.1100 1)" text-anchor="middle" font-weight="bold">8</text>
<text font-size="16.5" transform="translate(601.9 1911) scale(1.1100 1)" text-anchor="middle" font-weight="bold">10</text>
<line x1="416.5" y1="1404.6" x2="419.4" y2="1404.6" stroke="#000" stroke-width="1.1"/>
<line x1="416.5" y1="1402.1" x2="416.5" y2="1407.1" stroke="#000" stroke-width="1.1"/>
<line x1="419.4" y1="1402.1" x2="419.4" y2="1407.1" stroke="#000" stroke-width="1.1"/>
<circle cx="417.4" cy="1404.6" r="1.4" fill="#000" stroke="#111" stroke-width="0.8"/>
<line x1="416.7" y1="1425.97" x2="419.9" y2="1425.97" stroke="#000" stroke-width="1.1"/>
<line x1="416.7" y1="1423.47" x2="416.7" y2="1428.47" stroke="#000" stroke-width="1.1"/>
<line x1="419.9" y1="1423.47" x2="419.9" y2="1428.47" stroke="#000" stroke-width="1.1"/>
<circle cx="417.15" cy="1425.97" r="1.1" fill="#000" stroke="#111" stroke-width="0.8"/>
<circle cx="418.4" cy="1425.97" r="1.1" fill="none" stroke="#111" stroke-width="0.95"/>
<line x1="428.7" y1="1425.97" x2="439.5" y2="1425.97" stroke="#000" stroke-width="1.1"/>
<line x1="428.7" y1="1423.47" x2="428.7" y2="1428.47" stroke="#000" stroke-width="1.1"/>
<line x1="439.5" y1="1423.47" x2="439.5" y2="1428.47" stroke="#000" stroke-width="1.1"/>
<line x1="431.4" y1="1423.47" x2="431.4" y2="1428.47" stroke="#000" stroke-width="1.1"/>
<line x1="416.5" y1="1447.34" x2="423.9" y2="1447.34" stroke="#000" stroke-width="1.1"/>
<line x1="416.5" y1="1444.84" x2="416.5" y2="1449.84" stroke="#000" stroke-width="1.1"/>
<line x1="423.9" y1="1444.84" x2="423.9" y2="1449.84" stroke="#000" stroke-width="1.1"/>
<circle cx="418.25" cy="1447.34" r="1.4" fill="#000" stroke="#111" stroke-width="0.8"/>
<line x1="420.92" y1="1444.84" x2="420.92" y2="1449.84" stroke="#000" stroke-width="1"/>
<circle cx="421.93" cy="1447.34" r="1.1" fill="none" stroke="#111" stroke-width="0.95"/>
<line x1="416.7" y1="1468.71" x2="419.9" y2="1468.71" stroke="#000" stroke-width="1.1"/>
<line x1="416.7" y1="1466.21" x2="416.7" y2="1471.21" stroke="#000" stroke-width="1.1"/>
<line x1="419.9" y1="1466.21" x2="419.9" y2="1471.21" stroke="#000" stroke-width="1.1"/>
<circle cx="417.15" cy="1468.71" r="1.1" fill="#000" stroke="#111" stroke-width="0.8"/>
<circle cx="418.4" cy="1468.71" r="1.1" fill="none" stroke="#111" stroke-width="0.95"/>
<line x1="423.42" y1="1468.71" x2="426.9" y2="1468.71" stroke="#000" stroke-width="1.1"/>
<line x1="423.42" y1="1466.21" x2="423.42" y2="1471.21" stroke="#000" stroke-width="1.1"/>
<line x1="426.9" y1="1466.21" x2="426.9" y2="1471.21" stroke="#000" stroke-width="1.1"/>
<line x1="424.8" y1="1466.21" x2="424.8" y2="1471.21" stroke="#000" stroke-width="1.1"/>
<line x1="416.5" y1="1490.08" x2="422.9" y2="1490.08" stroke="#000" stroke-width="1.1"/>
<line x1="416.5" y1="1487.58" x2="416.5" y2="1492.58" stroke="#000" stroke-width="1.1"/>
<line x1="422.9" y1="1487.58" x2="422.9" y2="1492.58" stroke="#000" stroke-width="1.1"/>
<circle cx="417.65" cy="1490.08" r="1.4" fill="#000" stroke="#111" stroke-width="0.8"/>
<line x1="419.65" y1="1487.58" x2="419.65" y2="1492.58" stroke="#000" stroke-width="1"/>
<circle cx="420.4" cy="1490.08" r="1.1" fill="none" stroke="#111" stroke-width="0.95"/>
<line x1="416.5" y1="1511.45" x2="421.9" y2="1511.45" stroke="#000" stroke-width="1.1"/>
<line x1="416.5" y1="1508.95" x2="416.5" y2="1513.95" stroke="#000" stroke-width="1.1"/>
<line x1="421.9" y1="1508.95" x2="421.9" y2="1513.95" stroke="#000" stroke-width="1.1"/>
<circle cx="417.4" cy="1511.45" r="1.4" fill="#000" stroke="#111" stroke-width="0.8"/>
<line x1="418.75" y1="1508.95" x2="418.75" y2="1513.95" stroke="#000" stroke-width="1"/>
<circle cx="419.32" cy="1511.45" r="1.1" fill="none" stroke="#111" stroke-width="0.95"/>
<circle cx="425.5" cy="1532.82" r="1.1" fill="none" stroke="#111" stroke-width="0.95"/>
<circle cx="426.7" cy="1532.82" r="1.1" fill="none" stroke="#111" stroke-width="0.95"/>
<line x1="426.1" y1="1530.32" x2="426.1" y2="1535.32" stroke="#000" stroke-width="1.1"/>
<line x1="439.2" y1="1532.82" x2="452.2" y2="1532.82" stroke="#000" stroke-width="1.1"/>
<line x1="439.2" y1="1530.32" x2="439.2" y2="1535.32" stroke="#000" stroke-width="1.1"/>
<line x1="452.2" y1="1530.32" x2="452.2" y2="1535.32" stroke="#000" stroke-width="1.1"/>
<circle cx="445.4" cy="1531.52" r="1.1" fill="none" stroke="#111" stroke-width="0.95"/>
<circle cx="445.4" cy="1534.12" r="1.1" fill="none" stroke="#111" stroke-width="0.95"/>
<circle cx="449.4" cy="1532.82" r="1.1" fill="none" stroke="#111" stroke-width="0.95"/>
<line x1="447.4" y1="1530.32" x2="447.4" y2="1535.32" stroke="#000" stroke-width="1.1"/>
<line x1="469.7" y1="1532.82" x2="486.1" y2="1532.82" stroke="#000" stroke-width="1.1"/>
<line x1="469.7" y1="1530.32" x2="469.7" y2="1535.32" stroke="#000" stroke-width="1.1"/>
<line x1="486.1" y1="1530.32" x2="486.1" y2="1535.32" stroke="#000" stroke-width="1.1"/>
<circle cx="476.4" cy="1532.82" r="1.1" fill="none" stroke="#111" stroke-width="0.95"/>
<circle cx="478.9" cy="1532.82" r="1.1" fill="none" stroke="#111" stroke-width="0.95"/>
<circle cx="481.4" cy="1532.82" r="1.1" fill="none" stroke="#111" stroke-width="0.95"/>
<line x1="493" y1="1532.82" x2="509.9" y2="1532.82" stroke="#000" stroke-width="1.1"/>
<line x1="493" y1="1530.32" x2="493" y2="1535.32" stroke="#000" stroke-width="1.1"/>
<line x1="509.9" y1="1530.32" x2="509.9" y2="1535.32" stroke="#000" stroke-width="1.1"/>
<line x1="503.2" y1="1530.32" x2="503.2" y2="1535.32" stroke="#000" stroke-width="1.1"/>
<line x1="416.5" y1="1554.19" x2="420.9" y2="1554.19" stroke="#000" stroke-width="1.1"/>
<line x1="416.5" y1="1551.69" x2="416.5" y2="1556.69" stroke="#000" stroke-width="1.1"/>
<line x1="420.9" y1="1551.69" x2="420.9" y2="1556.69" stroke="#000" stroke-width="1.1"/>
<circle cx="417.4" cy="1554.19" r="1.4" fill="#000" stroke="#111" stroke-width="0.8"/>
<line x1="416.5" y1="1575.56" x2="422.4" y2="1575.56" stroke="#000" stroke-width="1.1"/>
<line x1="416.5" y1="1573.06" x2="416.5" y2="1578.06" stroke="#000" stroke-width="1.1"/>
<line x1="422.4" y1="1573.06" x2="422.4" y2="1578.06" stroke="#000" stroke-width="1.1"/>
<circle cx="417.61" cy="1575.56" r="1.4" fill="#000" stroke="#111" stroke-width="0.8"/>
<line x1="419.57" y1="1573.06" x2="419.57" y2="1578.06" stroke="#000" stroke-width="1"/>
<circle cx="420.31" cy="1575.56" r="1.1" fill="none" stroke="#111" stroke-width="0.95"/>
<line x1="416.5" y1="1596.93" x2="423.9" y2="1596.93" stroke="#000" stroke-width="1.1"/>
<line x1="416.5" y1="1594.43" x2="416.5" y2="1599.43" stroke="#000" stroke-width="1.1"/>
<line x1="423.9" y1="1594.43" x2="423.9" y2="1599.43" stroke="#000" stroke-width="1.1"/>
<circle cx="418.07" cy="1596.93" r="1.4" fill="#000" stroke="#111" stroke-width="0.8"/>
<line x1="420.55" y1="1594.43" x2="420.55" y2="1599.43" stroke="#000" stroke-width="1"/>
<circle cx="421.48" cy="1596.93" r="1.1" fill="none" stroke="#111" stroke-width="0.95"/>
<line x1="416.5" y1="1618.3" x2="420.9" y2="1618.3" stroke="#000" stroke-width="1.1"/>
<line x1="416.5" y1="1615.8" x2="416.5" y2="1620.8" stroke="#000" stroke-width="1.1"/>
<line x1="420.9" y1="1615.8" x2="420.9" y2="1620.8" stroke="#000" stroke-width="1.1"/>
<circle cx="417.4" cy="1618.3" r="1.4" fill="#000" stroke="#111" stroke-width="0.8"/>
<line x1="418.52" y1="1615.8" x2="418.52" y2="1620.8" stroke="#000" stroke-width="1"/>
<circle cx="419.05" cy="1618.3" r="1.1" fill="none" stroke="#111" stroke-width="0.95"/>
<line x1="416.7" y1="1639.67" x2="419.9" y2="1639.67" stroke="#000" stroke-width="1.1"/>
<line x1="416.7" y1="1637.17" x2="416.7" y2="1642.17" stroke="#000" stroke-width="1.1"/>
<line x1="419.9" y1="1637.17" x2="419.9" y2="1642.17" stroke="#000" stroke-width="1.1"/>
<circle cx="417.15" cy="1639.67" r="1.1" fill="#000" stroke="#111" stroke-width="0.8"/>
<circle cx="418.4" cy="1639.67" r="1.1" fill="none" stroke="#111" stroke-width="0.95"/>
<line x1="424.06" y1="1639.67" x2="430.9" y2="1639.67" stroke="#000" stroke-width="1.1"/>
<line x1="424.06" y1="1637.17" x2="424.06" y2="1642.17" stroke="#000" stroke-width="1.1"/>
<line x1="430.9" y1="1637.17" x2="430.9" y2="1642.17" stroke="#000" stroke-width="1.1"/>
<line x1="425.6" y1="1637.17" x2="425.6" y2="1642.17" stroke="#000" stroke-width="1.1"/>
<line x1="416.7" y1="1661.04" x2="419.9" y2="1661.04" stroke="#000" stroke-width="1.1"/>
<line x1="416.7" y1="1658.54" x2="416.7" y2="1663.54" stroke="#000" stroke-width="1.1"/>
<line x1="419.9" y1="1658.54" x2="419.9" y2="1663.54" stroke="#000" stroke-width="1.1"/>
<circle cx="417.15" cy="1661.04" r="1.1" fill="#000" stroke="#111" stroke-width="0.8"/>
<circle cx="418.4" cy="1661.04" r="1.1" fill="none" stroke="#111" stroke-width="0.95"/>
<line x1="427.9" y1="1661.04" x2="432.9" y2="1661.04" stroke="#000" stroke-width="1.1"/>
<line x1="427.9" y1="1658.54" x2="427.9" y2="1663.54" stroke="#000" stroke-width="1.1"/>
<line x1="432.9" y1="1658.54" x2="432.9" y2="1663.54" stroke="#000" stroke-width="1.1"/>
<line x1="430.4" y1="1658.54" x2="430.4" y2="1663.54" stroke="#000" stroke-width="1.1"/>
<line x1="416.5" y1="1682.41" x2="424.9" y2="1682.41" stroke="#000" stroke-width="1.1"/>
<line x1="416.5" y1="1679.91" x2="416.5" y2="1684.91" stroke="#000" stroke-width="1.1"/>
<line x1="424.9" y1="1679.91" x2="424.9" y2="1684.91" stroke="#000" stroke-width="1.1"/>
<circle cx="418.35" cy="1682.41" r="1.4" fill="#000" stroke="#111" stroke-width="0.8"/>
<line x1="421.15" y1="1679.91" x2="421.15" y2="1684.91" stroke="#000" stroke-width="1"/>
<circle cx="422.2" cy="1682.41" r="1.1" fill="none" stroke="#111" stroke-width="0.95"/>
<line x1="416.5" y1="1703.78" x2="422.9" y2="1703.78" stroke="#000" stroke-width="1.1"/>
<line x1="416.5" y1="1701.28" x2="416.5" y2="1706.28" stroke="#000" stroke-width="1.1"/>
<line x1="422.9" y1="1701.28" x2="422.9" y2="1706.28" stroke="#000" stroke-width="1.1"/>
<circle cx="417.65" cy="1703.78" r="1.4" fill="#000" stroke="#111" stroke-width="0.8"/>
<line x1="419.65" y1="1701.28" x2="419.65" y2="1706.28" stroke="#000" stroke-width="1"/>
<circle cx="420.4" cy="1703.78" r="1.1" fill="none" stroke="#111" stroke-width="0.95"/>
<line x1="416.5" y1="1725.15" x2="424.9" y2="1725.15" stroke="#000" stroke-width="1.1"/>
<line x1="416.5" y1="1722.65" x2="416.5" y2="1727.65" stroke="#000" stroke-width="1.1"/>
<line x1="424.9" y1="1722.65" x2="424.9" y2="1727.65" stroke="#000" stroke-width="1.1"/>
<circle cx="418.25" cy="1725.15" r="1.4" fill="#000" stroke="#111" stroke-width="0.8"/>
<line x1="420.92" y1="1722.65" x2="420.92" y2="1727.65" stroke="#000" stroke-width="1"/>
<circle cx="421.93" cy="1725.15" r="1.1" fill="none" stroke="#111" stroke-width="0.95"/>
<line x1="416.5" y1="1746.52" x2="420.9" y2="1746.52" stroke="#000" stroke-width="1.1"/>
<line x1="416.5" y1="1744.02" x2="416.5" y2="1749.02" stroke="#000" stroke-width="1.1"/>
<line x1="420.9" y1="1744.02" x2="420.9" y2="1749.02" stroke="#000" stroke-width="1.1"/>
<circle cx="417.4" cy="1746.52" r="1.4" fill="#000" stroke="#111" stroke-width="0.8"/>
<line x1="418.75" y1="1744.02" x2="418.75" y2="1749.02" stroke="#000" stroke-width="1"/>
<circle cx="419.32" cy="1746.52" r="1.1" fill="none" stroke="#111" stroke-width="0.95"/>
<line x1="416.5" y1="1767.89" x2="426.4" y2="1767.89" stroke="#000" stroke-width="1.1"/>
<line x1="416.5" y1="1765.39" x2="416.5" y2="1770.39" stroke="#000" stroke-width="1.1"/>
<line x1="426.4" y1="1765.39" x2="426.4" y2="1770.39" stroke="#000" stroke-width="1.1"/>
<circle cx="418.35" cy="1767.89" r="1.4" fill="#000" stroke="#111" stroke-width="0.8"/>
<line x1="421.15" y1="1765.39" x2="421.15" y2="1770.39" stroke="#000" stroke-width="1"/>
<circle cx="422.2" cy="1767.89" r="1.1" fill="none" stroke="#111" stroke-width="0.95"/>
<line x1="416.5" y1="1789.26" x2="420.9" y2="1789.26" stroke="#000" stroke-width="1.1"/>
<line x1="416.5" y1="1786.76" x2="416.5" y2="1791.76" stroke="#000" stroke-width="1.1"/>
<line x1="420.9" y1="1786.76" x2="420.9" y2="1791.76" stroke="#000" stroke-width="1.1"/>
<circle cx="417.4" cy="1789.26" r="1.4" fill="#000" stroke="#111" stroke-width="0.8"/>
<line x1="418.75" y1="1786.76" x2="418.75" y2="1791.76" stroke="#000" stroke-width="1"/>
<circle cx="419.32" cy="1789.26" r="1.1" fill="none" stroke="#111" stroke-width="0.95"/>
<line x1="416.7" y1="1810.63" x2="419.9" y2="1810.63" stroke="#000" stroke-width="1.1"/>
<line x1="416.7" y1="1808.13" x2="416.7" y2="1813.13" stroke="#000" stroke-width="1.1"/>
<line x1="419.9" y1="1808.13" x2="419.9" y2="1813.13" stroke="#000" stroke-width="1.1"/>
<circle cx="417.15" cy="1810.63" r="1.1" fill="#000" stroke="#111" stroke-width="0.8"/>
<circle cx="418.4" cy="1810.63" r="1.1" fill="none" stroke="#111" stroke-width="0.95"/>
<line x1="424.06" y1="1810.63" x2="427.4" y2="1810.63" stroke="#000" stroke-width="1.1"/>
<line x1="424.06" y1="1808.13" x2="424.06" y2="1813.13" stroke="#000" stroke-width="1.1"/>
<line x1="427.4" y1="1808.13" x2="427.4" y2="1813.13" stroke="#000" stroke-width="1.1"/>
<line x1="425.6" y1="1808.13" x2="425.6" y2="1813.13" stroke="#000" stroke-width="1.1"/>
<circle cx="417.3" cy="1832" r="1.1" fill="none" stroke="#111" stroke-width="0.95"/>
<circle cx="418.9" cy="1832" r="1.1" fill="none" stroke="#111" stroke-width="0.95"/>
<line x1="420.9" y1="1832" x2="424.5" y2="1832" stroke="#000" stroke-width="1.1"/>
<line x1="420.9" y1="1829.5" x2="420.9" y2="1834.5" stroke="#000" stroke-width="1.1"/>
<line x1="424.5" y1="1829.5" x2="424.5" y2="1834.5" stroke="#000" stroke-width="1.1"/>
<circle cx="426.2" cy="1832" r="1.1" fill="none" stroke="#111" stroke-width="0.95"/>
<circle cx="428.2" cy="1832" r="1.1" fill="none" stroke="#111" stroke-width="0.95"/>
<line x1="430.9" y1="1832" x2="433.2" y2="1832" stroke="#000" stroke-width="1.1"/>
<line x1="430.9" y1="1829.5" x2="430.9" y2="1834.5" stroke="#000" stroke-width="1.1"/>
<line x1="433.2" y1="1829.5" x2="433.2" y2="1834.5" stroke="#000" stroke-width="1.1"/>
<circle cx="439.5" cy="1830.7" r="1.1" fill="none" stroke="#111" stroke-width="0.95"/>
<circle cx="439.5" cy="1833.3" r="1.1" fill="none" stroke="#111" stroke-width="0.95"/>
<line x1="445.9" y1="1832" x2="457.8" y2="1832" stroke="#000" stroke-width="1.1"/>
<line x1="445.9" y1="1829.5" x2="445.9" y2="1834.5" stroke="#000" stroke-width="1.1"/>
<line x1="457.8" y1="1829.5" x2="457.8" y2="1834.5" stroke="#000" stroke-width="1.1"/>
<circle cx="456.2" cy="1832" r="1.1" fill="none" stroke="#111" stroke-width="0.95"/>
<line x1="459.1" y1="1832" x2="468.9" y2="1832" stroke="#000" stroke-width="1.1"/>
<line x1="459.1" y1="1829.5" x2="459.1" y2="1834.5" stroke="#000" stroke-width="1.1"/>
<line x1="468.9" y1="1829.5" x2="468.9" y2="1834.5" stroke="#000" stroke-width="1.1"/>
<line x1="466.9" y1="1829.5" x2="466.9" y2="1834.5" stroke="#000" stroke-width="1.1"/>
<line x1="416.7" y1="1853.37" x2="420.4" y2="1853.37" stroke="#000" stroke-width="1.1"/>
<line x1="416.7" y1="1850.87" x2="416.7" y2="1855.87" stroke="#000" stroke-width="1.1"/>
<line x1="420.4" y1="1850.87" x2="420.4" y2="1855.87" stroke="#000" stroke-width="1.1"/>
<circle cx="417.4" cy="1853.37" r="1.1" fill="#000" stroke="#111" stroke-width="0.8"/>
<circle cx="418.9" cy="1853.37" r="1.1" fill="none" stroke="#111" stroke-width="0.95"/>
<line x1="429.34" y1="1853.37" x2="433.9" y2="1853.37" stroke="#000" stroke-width="1.1"/>
<line x1="429.34" y1="1850.87" x2="429.34" y2="1855.87" stroke="#000" stroke-width="1.1"/>
<line x1="433.9" y1="1850.87" x2="433.9" y2="1855.87" stroke="#000" stroke-width="1.1"/>
<line x1="432.2" y1="1850.87" x2="432.2" y2="1855.87" stroke="#000" stroke-width="1.1"/>
<circle cx="428.4" cy="1874.74" r="1.1" fill="none" stroke="#111" stroke-width="0.95"/>
<line x1="436.4" y1="1874.74" x2="442.7" y2="1874.74" stroke="#000" stroke-width="1.1"/>
<line x1="436.4" y1="1872.24" x2="436.4" y2="1877.24" stroke="#000" stroke-width="1.1"/>
<line x1="442.7" y1="1872.24" x2="442.7" y2="1877.24" stroke="#000" stroke-width="1.1"/>
<circle cx="438.4" cy="1873.54" r="1.1" fill="none" stroke="#111" stroke-width="0.95"/>
<circle cx="440.4" cy="1875.94" r="1.1" fill="none" stroke="#111" stroke-width="0.95"/>
<line x1="439.4" y1="1872.24" x2="439.4" y2="1877.24" stroke="#000" stroke-width="1.1"/>
<circle cx="495.1" cy="1874.74" r="1.1" fill="none" stroke="#111" stroke-width="0.95"/>
<circle cx="498.3" cy="1874.74" r="1.1" fill="none" stroke="#111" stroke-width="0.95"/>
<line x1="502.2" y1="1874.74" x2="511" y2="1874.74" stroke="#000" stroke-width="1.1"/>
<line x1="502.2" y1="1872.24" x2="502.2" y2="1877.24" stroke="#000" stroke-width="1.1"/>
<line x1="511" y1="1872.24" x2="511" y2="1877.24" stroke="#000" stroke-width="1.1"/>
<circle cx="509.9" cy="1874.74" r="1.1" fill="none" stroke="#111" stroke-width="0.95"/>
<line x1="526.1" y1="1874.74" x2="534" y2="1874.74" stroke="#000" stroke-width="1.1"/>
<line x1="526.1" y1="1872.24" x2="526.1" y2="1877.24" stroke="#000" stroke-width="1.1"/>
<line x1="534" y1="1872.24" x2="534" y2="1877.24" stroke="#000" stroke-width="1.1"/>
<line x1="546.7" y1="1874.74" x2="553.9" y2="1874.74" stroke="#666" stroke-width="1.1"/>
<line x1="546.7" y1="1872.24" x2="546.7" y2="1877.24" stroke="#666" stroke-width="1.1"/>
<line x1="553.9" y1="1872.24" x2="553.9" y2="1877.24" stroke="#666" stroke-width="1.1"/>
<text font-size="23" transform="translate(410.3 1413.2) scale(1.0800 1)" text-anchor="end" font-weight="bold">Untreated</text>
<text font-size="23" transform="translate(410.3 1434.57) scale(1.0800 1)" text-anchor="end" font-weight="bold">ABE8e Δ147-152</text>
<text font-size="23" transform="translate(410.3 1455.94) scale(1.0800 1)" text-anchor="end" font-weight="bold">ABE8e Δ135-138</text>
<text font-size="23" transform="translate(410.3 1477.31) scale(1.0800 1)" text-anchor="end" font-weight="bold">ABE8e Δ84-88</text>
<text font-size="23" transform="translate(410.3 1498.68) scale(1.0800 1)" text-anchor="end" font-weight="bold">ABE8e Δ46-57</text>
<text font-size="23" transform="translate(410.3 1520.05) scale(1.0800 1)" text-anchor="end" font-weight="bold">ABE8e Δ25-30</text>
<text font-size="23" transform="translate(410.3 1541.42) scale(1.0800 1)" text-anchor="end" font-weight="bold">ABE8e Δ2-8</text>
<text font-size="23" transform="translate(410.3 1562.79) scale(1.0800 1)" text-anchor="end" font-weight="bold">ABE8e Δ52-61</text>
<text font-size="23" transform="translate(410.3 1584.16) scale(1.0800 1)" text-anchor="end" font-weight="bold">ABE8e Δ42-51</text>
<text font-size="23" transform="translate(410.3 1605.53) scale(1.0800 1)" text-anchor="end" font-weight="bold">ABE8e Δ32-41</text>
<text font-size="23" transform="translate(410.3 1626.9) scale(1.0800 1)" text-anchor="end" font-weight="bold">ABE8e Δ22-31</text>
<text font-size="23" transform="translate(410.3 1648.27) scale(1.0800 1)" text-anchor="end" font-weight="bold">ABE8e Δ12-21</text>
<text font-size="23" transform="translate(410.3 1669.64) scale(1.0800 1)" text-anchor="end" font-weight="bold">ABE8e Δ2-11</text>
<text font-size="23" transform="translate(410.3 1691.01) scale(1.0800 1)" text-anchor="end" font-weight="bold">ABE8e Δ107-167</text>
<text font-size="23" transform="translate(410.3 1712.38) scale(1.0800 1)" text-anchor="end" font-weight="bold">ABE8e Δ98-167</text>
<text font-size="23" transform="translate(410.3 1733.75) scale(1.0800 1)" text-anchor="end" font-weight="bold">ABE8e Δ108-167</text>
<text font-size="23" transform="translate(410.3 1755.12) scale(1.0800 1)" text-anchor="end" font-weight="bold">ABE8e Δ118-167</text>
<text font-size="23" transform="translate(410.3 1776.49) scale(1.0800 1)" text-anchor="end" font-weight="bold">ABE8e Δ128-167</text>
<text font-size="23" transform="translate(410.3 1797.86) scale(1.0800 1)" text-anchor="end" font-weight="bold">ABE8e Δ138-167</text>
<text font-size="23" transform="translate(410.3 1819.23) scale(1.0800 1)" text-anchor="end" font-weight="bold">ABE8e Δ148-167</text>
<text font-size="23" transform="translate(410.3 1840.6) scale(1.0800 1)" text-anchor="end" font-weight="bold">ABE8e Δ158-167</text>
<text font-size="23" transform="translate(410.3 1861.97) scale(1.0800 1)" text-anchor="end" font-weight="bold">ABE9</text>
<text font-size="23" transform="translate(410.3 1883.34) scale(1.0800 1)" text-anchor="end" font-weight="bold">ABE8e</text>
<rect x="650.3" y="1387.2" width="0.5" height="14.2" fill="#bfe3b0"/>
<rect x="650.3" y="1408.64" width="147.8" height="14.2" fill="#bfe3b0"/>
<rect x="650.3" y="1430.08" width="10" height="14.2" fill="#bfe3b0"/>
<rect x="650.3" y="1451.52" width="6.8" height="14.2" fill="#bfe3b0"/>
<rect x="650.3" y="1472.96" width="3.7" height="14.2" fill="#bfe3b0"/>
<rect x="650.3" y="1494.4" width="2.9" height="14.2" fill="#bfe3b0"/>
<rect x="650.3" y="1515.84" width="149.4" height="14.2" fill="#bfe3b0"/>
<rect x="650.3" y="1537.28" width="0.5" height="14.2" fill="#bfe3b0"/>
<rect x="650.3" y="1558.72" width="1.5" height="14.2" fill="#bfe3b0"/>
<rect x="650.3" y="1580.16" width="1" height="14.2" fill="#bfe3b0"/>
<rect x="650.3" y="1601.6" width="0.5" height="14.2" fill="#bfe3b0"/>
<rect x="650.3" y="1623.04" width="5.5" height="14.2" fill="#bfe3b0"/>
<rect x="650.3" y="1644.48" width="64" height="14.2" fill="#bfe3b0"/>
<rect x="650.3" y="1665.92" width="9.7" height="14.2" fill="#bfe3b0"/>
<rect x="650.3" y="1687.36" width="3" height="14.2" fill="#bfe3b0"/>
<rect x="650.3" y="1708.8" width="9.7" height="14.2" fill="#bfe3b0"/>
<rect x="650.3" y="1730.24" width="3.7" height="14.2" fill="#bfe3b0"/>
<rect x="650.3" y="1751.68" width="7.6" height="14.2" fill="#bfe3b0"/>
<rect x="650.3" y="1773.12" width="5.5" height="14.2" fill="#bfe3b0"/>
<rect x="650.3" y="1794.56" width="32.2" height="14.2" fill="#bfe3b0"/>
<rect x="650.3" y="1816" width="165.2" height="14.2" fill="#bfe3b0"/>
<rect x="650.3" y="1837.44" width="80.3" height="14.2" fill="#bfe3b0"/>
<rect x="650.3" y="1858.88" width="160.8" height="14.2" fill="#bfe3b0"/>
<line x1="646" y1="1394.3" x2="650.3" y2="1394.3" stroke="#000" stroke-width="1.3"/>
<line x1="646" y1="1415.74" x2="650.3" y2="1415.74" stroke="#000" stroke-width="1.3"/>
<line x1="646" y1="1437.18" x2="650.3" y2="1437.18" stroke="#000" stroke-width="1.3"/>
<line x1="646" y1="1458.62" x2="650.3" y2="1458.62" stroke="#000" stroke-width="1.3"/>
<line x1="646" y1="1480.06" x2="650.3" y2="1480.06" stroke="#000" stroke-width="1.3"/>
<line x1="646" y1="1501.5" x2="650.3" y2="1501.5" stroke="#000" stroke-width="1.3"/>
<line x1="646" y1="1522.94" x2="650.3" y2="1522.94" stroke="#000" stroke-width="1.3"/>
<line x1="646" y1="1544.38" x2="650.3" y2="1544.38" stroke="#000" stroke-width="1.3"/>
<line x1="646" y1="1565.82" x2="650.3" y2="1565.82" stroke="#000" stroke-width="1.3"/>
<line x1="646" y1="1587.26" x2="650.3" y2="1587.26" stroke="#000" stroke-width="1.3"/>
<line x1="646" y1="1608.7" x2="650.3" y2="1608.7" stroke="#000" stroke-width="1.3"/>
<line x1="646" y1="1630.14" x2="650.3" y2="1630.14" stroke="#000" stroke-width="1.3"/>
<line x1="646" y1="1651.58" x2="650.3" y2="1651.58" stroke="#000" stroke-width="1.3"/>
<line x1="646" y1="1673.02" x2="650.3" y2="1673.02" stroke="#000" stroke-width="1.3"/>
<line x1="646" y1="1694.46" x2="650.3" y2="1694.46" stroke="#000" stroke-width="1.3"/>
<line x1="646" y1="1715.9" x2="650.3" y2="1715.9" stroke="#000" stroke-width="1.3"/>
<line x1="646" y1="1737.34" x2="650.3" y2="1737.34" stroke="#000" stroke-width="1.3"/>
<line x1="646" y1="1758.78" x2="650.3" y2="1758.78" stroke="#000" stroke-width="1.3"/>
<line x1="646" y1="1780.22" x2="650.3" y2="1780.22" stroke="#000" stroke-width="1.3"/>
<line x1="646" y1="1801.66" x2="650.3" y2="1801.66" stroke="#000" stroke-width="1.3"/>
<line x1="646" y1="1823.1" x2="650.3" y2="1823.1" stroke="#000" stroke-width="1.3"/>
<line x1="646" y1="1844.54" x2="650.3" y2="1844.54" stroke="#000" stroke-width="1.3"/>
<line x1="646" y1="1865.98" x2="650.3" y2="1865.98" stroke="#000" stroke-width="1.3"/>
<line x1="650.3" y1="1879.5" x2="650.3" y2="1883.1" stroke="#000" stroke-width="1.3"/>
<line x1="687.54" y1="1879.5" x2="687.54" y2="1883.1" stroke="#000" stroke-width="1.3"/>
<line x1="724.78" y1="1879.5" x2="724.78" y2="1883.1" stroke="#000" stroke-width="1.3"/>
<line x1="762.02" y1="1879.5" x2="762.02" y2="1883.1" stroke="#000" stroke-width="1.3"/>
<line x1="799.26" y1="1879.5" x2="799.26" y2="1883.1" stroke="#000" stroke-width="1.3"/>
<line x1="836.5" y1="1879.5" x2="836.5" y2="1883.1" stroke="#000" stroke-width="1.3"/>
<path d="M650.3 1379.5 V1879.5 H837.1" fill="none" stroke="#000" stroke-width="1.7"/>
<text font-size="16.5" transform="translate(650.3 1901.8) scale(1.1100 1)" text-anchor="middle" font-weight="bold">0</text>
<text font-size="16.5" transform="translate(687.54 1901.8) scale(1.1100 1)" text-anchor="middle" font-weight="bold">20</text>
<text font-size="16.5" transform="translate(724.78 1901.8) scale(1.1100 1)" text-anchor="middle" font-weight="bold">40</text>
<text font-size="16.5" transform="translate(762.02 1901.8) scale(1.1100 1)" text-anchor="middle" font-weight="bold">60</text>
<text font-size="16.5" transform="translate(799.26 1901.8) scale(1.1100 1)" text-anchor="middle" font-weight="bold">80</text>
<text font-size="16.5" transform="translate(836.5 1901.8) scale(1.1100 1)" text-anchor="middle" font-weight="bold">100</text>
<circle cx="652.1" cy="1388.4" r="1.3" fill="none" stroke="#111" stroke-width="0.95"/>
<circle cx="652.1" cy="1394.3" r="1.3" fill="none" stroke="#111" stroke-width="0.95"/>
<circle cx="652.1" cy="1400.2" r="1.3" fill="none" stroke="#111" stroke-width="0.95"/>
<line x1="650.5" y1="1394.3" x2="653.5" y2="1394.3" stroke="#000" stroke-width="1.1"/>
<line x1="650.5" y1="1392.5" x2="650.5" y2="1396.1" stroke="#000" stroke-width="1.1"/>
<line x1="653.5" y1="1392.5" x2="653.5" y2="1396.1" stroke="#000" stroke-width="1.1"/>
<line x1="781.4" y1="1415.74" x2="815.1" y2="1415.74" stroke="#000" stroke-width="1.3"/>
<line x1="781.4" y1="1413.24" x2="781.4" y2="1418.24" stroke="#000" stroke-width="1.3"/>
<line x1="815.1" y1="1413.24" x2="815.1" y2="1418.24" stroke="#000" stroke-width="1.3"/>
<circle cx="778.4" cy="1415.74" r="1.3" fill="none" stroke="#111" stroke-width="0.95"/>
<circle cx="807.6" cy="1413.74" r="1.3" fill="none" stroke="#111" stroke-width="0.95"/>
<circle cx="808.6" cy="1417.74" r="1.3" fill="none" stroke="#111" stroke-width="0.95"/>
<line x1="658.3" y1="1437.18" x2="662.3" y2="1437.18" stroke="#000" stroke-width="1.1"/>
<line x1="658.3" y1="1434.68" x2="658.3" y2="1439.68" stroke="#000" stroke-width="1.1"/>
<line x1="662.3" y1="1434.68" x2="662.3" y2="1439.68" stroke="#000" stroke-width="1.1"/>
<circle cx="659.3" cy="1434.58" r="1.3" fill="none" stroke="#111" stroke-width="0.95"/>
<circle cx="661.3" cy="1437.18" r="1.3" fill="none" stroke="#111" stroke-width="0.95"/>
<circle cx="660.3" cy="1439.78" r="1.3" fill="none" stroke="#111" stroke-width="0.95"/>
<line x1="652.3" y1="1458.62" x2="661.1" y2="1458.62" stroke="#000" stroke-width="1.1"/>
<line x1="652.3" y1="1456.12" x2="652.3" y2="1461.12" stroke="#000" stroke-width="1.1"/>
<line x1="661.1" y1="1456.12" x2="661.1" y2="1461.12" stroke="#000" stroke-width="1.1"/>
<circle cx="655.7" cy="1456.02" r="1.3" fill="none" stroke="#111" stroke-width="0.95"/>
<circle cx="657.7" cy="1458.62" r="1.3" fill="none" stroke="#111" stroke-width="0.95"/>
<circle cx="656.7" cy="1461.22" r="1.3" fill="none" stroke="#111" stroke-width="0.95"/>
<circle cx="655.2" cy="1474.16" r="1.3" fill="none" stroke="#111" stroke-width="0.95"/>
<circle cx="655.2" cy="1480.06" r="1.3" fill="none" stroke="#111" stroke-width="0.95"/>
<circle cx="655.2" cy="1485.96" r="1.3" fill="none" stroke="#111" stroke-width="0.95"/>
<line x1="653.6" y1="1480.06" x2="656.6" y2="1480.06" stroke="#000" stroke-width="1.1"/>
<line x1="653.6" y1="1478.26" x2="653.6" y2="1481.86" stroke="#000" stroke-width="1.1"/>
<line x1="656.6" y1="1478.26" x2="656.6" y2="1481.86" stroke="#000" stroke-width="1.1"/>
<circle cx="654.4" cy="1495.6" r="1.3" fill="none" stroke="#111" stroke-width="0.95"/>
<circle cx="654.4" cy="1501.5" r="1.3" fill="none" stroke="#111" stroke-width="0.95"/>
<circle cx="654.4" cy="1507.4" r="1.3" fill="none" stroke="#111" stroke-width="0.95"/>
<line x1="652.8" y1="1501.5" x2="655.8" y2="1501.5" stroke="#000" stroke-width="1.1"/>
<line x1="652.8" y1="1499.7" x2="652.8" y2="1503.3" stroke="#000" stroke-width="1.1"/>
<line x1="655.8" y1="1499.7" x2="655.8" y2="1503.3" stroke="#000" stroke-width="1.1"/>
<line x1="779.3" y1="1522.94" x2="819" y2="1522.94" stroke="#000" stroke-width="1.3"/>
<line x1="779.3" y1="1520.44" x2="779.3" y2="1525.44" stroke="#000" stroke-width="1.3"/>
<line x1="819" y1="1520.44" x2="819" y2="1525.44" stroke="#000" stroke-width="1.3"/>
<circle cx="776.3" cy="1522.94" r="1.3" fill="none" stroke="#111" stroke-width="0.95"/>
<circle cx="810.35" cy="1520.94" r="1.3" fill="none" stroke="#111" stroke-width="0.95"/>
<circle cx="811.35" cy="1524.94" r="1.3" fill="none" stroke="#111" stroke-width="0.95"/>
<circle cx="652.1" cy="1538.48" r="1.3" fill="none" stroke="#111" stroke-width="0.95"/>
<circle cx="652.1" cy="1544.38" r="1.3" fill="none" stroke="#111" stroke-width="0.95"/>
<circle cx="652.1" cy="1550.28" r="1.3" fill="none" stroke="#111" stroke-width="0.95"/>
<line x1="650.5" y1="1544.38" x2="653.5" y2="1544.38" stroke="#000" stroke-width="1.1"/>
<line x1="650.5" y1="1542.58" x2="650.5" y2="1546.18" stroke="#000" stroke-width="1.1"/>
<line x1="653.5" y1="1542.58" x2="653.5" y2="1546.18" stroke="#000" stroke-width="1.1"/>
<circle cx="653" cy="1559.92" r="1.3" fill="none" stroke="#111" stroke-width="0.95"/>
<circle cx="653" cy="1565.82" r="1.3" fill="none" stroke="#111" stroke-width="0.95"/>
<circle cx="653" cy="1571.72" r="1.3" fill="none" stroke="#111" stroke-width="0.95"/>
<line x1="651.4" y1="1565.82" x2="654.4" y2="1565.82" stroke="#000" stroke-width="1.1"/>
<line x1="651.4" y1="1564.02" x2="651.4" y2="1567.62" stroke="#000" stroke-width="1.1"/>
<line x1="654.4" y1="1564.02" x2="654.4" y2="1567.62" stroke="#000" stroke-width="1.1"/>
<circle cx="652.5" cy="1581.36" r="1.3" fill="none" stroke="#111" stroke-width="0.95"/>
<circle cx="652.5" cy="1587.26" r="1.3" fill="none" stroke="#111" stroke-width="0.95"/>
<circle cx="652.5" cy="1593.16" r="1.3" fill="none" stroke="#111" stroke-width="0.95"/>
<line x1="650.9" y1="1587.26" x2="653.9" y2="1587.26" stroke="#000" stroke-width="1.1"/>
<line x1="650.9" y1="1585.46" x2="650.9" y2="1589.06" stroke="#000" stroke-width="1.1"/>
<line x1="653.9" y1="1585.46" x2="653.9" y2="1589.06" stroke="#000" stroke-width="1.1"/>
<circle cx="652.1" cy="1602.8" r="1.3" fill="none" stroke="#111" stroke-width="0.95"/>
<circle cx="652.1" cy="1608.7" r="1.3" fill="none" stroke="#111" stroke-width="0.95"/>
<circle cx="652.1" cy="1614.6" r="1.3" fill="none" stroke="#111" stroke-width="0.95"/>
<line x1="650.5" y1="1608.7" x2="653.5" y2="1608.7" stroke="#000" stroke-width="1.1"/>
<line x1="650.5" y1="1606.9" x2="650.5" y2="1610.5" stroke="#000" stroke-width="1.1"/>
<line x1="653.5" y1="1606.9" x2="653.5" y2="1610.5" stroke="#000" stroke-width="1.1"/>
<line x1="654.3" y1="1630.14" x2="658.3" y2="1630.14" stroke="#000" stroke-width="1.1"/>
<line x1="654.3" y1="1627.64" x2="654.3" y2="1632.64" stroke="#000" stroke-width="1.1"/>
<line x1="658.3" y1="1627.64" x2="658.3" y2="1632.64" stroke="#000" stroke-width="1.1"/>
<circle cx="655.3" cy="1627.54" r="1.3" fill="none" stroke="#111" stroke-width="0.95"/>
<circle cx="657.3" cy="1630.14" r="1.3" fill="none" stroke="#111" stroke-width="0.95"/>
<circle cx="656.3" cy="1632.74" r="1.3" fill="none" stroke="#111" stroke-width="0.95"/>
<line x1="695.3" y1="1651.58" x2="733.3" y2="1651.58" stroke="#000" stroke-width="1.3"/>
<line x1="695.3" y1="1649.08" x2="695.3" y2="1654.08" stroke="#000" stroke-width="1.3"/>
<line x1="733.3" y1="1649.08" x2="733.3" y2="1654.08" stroke="#000" stroke-width="1.3"/>
<circle cx="692.3" cy="1651.58" r="1.3" fill="none" stroke="#111" stroke-width="0.95"/>
<circle cx="724.8" cy="1649.58" r="1.3" fill="none" stroke="#111" stroke-width="0.95"/>
<circle cx="725.8" cy="1653.58" r="1.3" fill="none" stroke="#111" stroke-width="0.95"/>
<line x1="653.6" y1="1673.02" x2="666.6" y2="1673.02" stroke="#000" stroke-width="1.3"/>
<line x1="653.6" y1="1670.52" x2="653.6" y2="1675.52" stroke="#000" stroke-width="1.3"/>
<line x1="666.6" y1="1670.52" x2="666.6" y2="1675.52" stroke="#000" stroke-width="1.3"/>
<circle cx="650.6" cy="1673.02" r="1.3" fill="none" stroke="#111" stroke-width="0.95"/>
<circle cx="664.3" cy="1671.02" r="1.3" fill="none" stroke="#111" stroke-width="0.95"/>
<circle cx="665.3" cy="1675.02" r="1.3" fill="none" stroke="#111" stroke-width="0.95"/>
<circle cx="654.5" cy="1688.56" r="1.3" fill="none" stroke="#111" stroke-width="0.95"/>
<circle cx="654.5" cy="1694.46" r="1.3" fill="none" stroke="#111" stroke-width="0.95"/>
<circle cx="654.5" cy="1700.36" r="1.3" fill="none" stroke="#111" stroke-width="0.95"/>
<line x1="652.9" y1="1694.46" x2="655.9" y2="1694.46" stroke="#000" stroke-width="1.1"/>
<line x1="652.9" y1="1692.66" x2="652.9" y2="1696.26" stroke="#000" stroke-width="1.1"/>
<line x1="655.9" y1="1692.66" x2="655.9" y2="1696.26" stroke="#000" stroke-width="1.1"/>
<line x1="656.3" y1="1715.9" x2="665.1" y2="1715.9" stroke="#000" stroke-width="1.1"/>
<line x1="656.3" y1="1713.4" x2="656.3" y2="1718.4" stroke="#000" stroke-width="1.1"/>
<line x1="665.1" y1="1713.4" x2="665.1" y2="1718.4" stroke="#000" stroke-width="1.1"/>
<circle cx="659.7" cy="1713.3" r="1.3" fill="none" stroke="#111" stroke-width="0.95"/>
<circle cx="661.7" cy="1715.9" r="1.3" fill="none" stroke="#111" stroke-width="0.95"/>
<circle cx="660.7" cy="1718.5" r="1.3" fill="none" stroke="#111" stroke-width="0.95"/>
<circle cx="655.2" cy="1731.44" r="1.3" fill="none" stroke="#111" stroke-width="0.95"/>
<circle cx="655.2" cy="1737.34" r="1.3" fill="none" stroke="#111" stroke-width="0.95"/>
<circle cx="655.2" cy="1743.24" r="1.3" fill="none" stroke="#111" stroke-width="0.95"/>
<line x1="653.6" y1="1737.34" x2="656.6" y2="1737.34" stroke="#000" stroke-width="1.1"/>
<line x1="653.6" y1="1735.54" x2="653.6" y2="1739.14" stroke="#000" stroke-width="1.1"/>
<line x1="656.6" y1="1735.54" x2="656.6" y2="1739.14" stroke="#000" stroke-width="1.1"/>
<circle cx="659.1" cy="1752.88" r="1.3" fill="none" stroke="#111" stroke-width="0.95"/>
<circle cx="659.1" cy="1758.78" r="1.3" fill="none" stroke="#111" stroke-width="0.95"/>
<circle cx="659.1" cy="1764.68" r="1.3" fill="none" stroke="#111" stroke-width="0.95"/>
<line x1="657.5" y1="1758.78" x2="660.5" y2="1758.78" stroke="#000" stroke-width="1.1"/>
<line x1="657.5" y1="1756.98" x2="657.5" y2="1760.58" stroke="#000" stroke-width="1.1"/>
<line x1="660.5" y1="1756.98" x2="660.5" y2="1760.58" stroke="#000" stroke-width="1.1"/>
<line x1="653.3" y1="1780.22" x2="660.3" y2="1780.22" stroke="#000" stroke-width="1.1"/>
<line x1="653.3" y1="1777.72" x2="653.3" y2="1782.72" stroke="#000" stroke-width="1.1"/>
<line x1="660.3" y1="1777.72" x2="660.3" y2="1782.72" stroke="#000" stroke-width="1.1"/>
<circle cx="655.8" cy="1777.62" r="1.3" fill="none" stroke="#111" stroke-width="0.95"/>
<circle cx="657.8" cy="1780.22" r="1.3" fill="none" stroke="#111" stroke-width="0.95"/>
<circle cx="656.8" cy="1782.82" r="1.3" fill="none" stroke="#111" stroke-width="0.95"/>
<line x1="679.3" y1="1801.66" x2="684.9" y2="1801.66" stroke="#000" stroke-width="1.1"/>
<line x1="679.3" y1="1799.16" x2="679.3" y2="1804.16" stroke="#000" stroke-width="1.1"/>
<line x1="684.9" y1="1799.16" x2="684.9" y2="1804.16" stroke="#000" stroke-width="1.1"/>
<circle cx="681.1" cy="1799.06" r="1.3" fill="none" stroke="#111" stroke-width="0.95"/>
<circle cx="683.1" cy="1801.66" r="1.3" fill="none" stroke="#111" stroke-width="0.95"/>
<circle cx="682.1" cy="1804.26" r="1.3" fill="none" stroke="#111" stroke-width="0.95"/>
<line x1="807.1" y1="1823.1" x2="823" y2="1823.1" stroke="#000" stroke-width="1.3"/>
<line x1="807.1" y1="1820.6" x2="807.1" y2="1825.6" stroke="#000" stroke-width="1.3"/>
<line x1="823" y1="1820.6" x2="823" y2="1825.6" stroke="#000" stroke-width="1.3"/>
<circle cx="804.1" cy="1823.1" r="1.3" fill="none" stroke="#111" stroke-width="0.95"/>
<circle cx="820.25" cy="1821.1" r="1.3" fill="none" stroke="#111" stroke-width="0.95"/>
<circle cx="821.25" cy="1825.1" r="1.3" fill="none" stroke="#111" stroke-width="0.95"/>
<line x1="723.8" y1="1844.54" x2="738.9" y2="1844.54" stroke="#000" stroke-width="1.3"/>
<line x1="723.8" y1="1842.04" x2="723.8" y2="1847.04" stroke="#000" stroke-width="1.3"/>
<line x1="738.9" y1="1842.04" x2="738.9" y2="1847.04" stroke="#000" stroke-width="1.3"/>
<circle cx="720.8" cy="1844.54" r="1.3" fill="none" stroke="#111" stroke-width="0.95"/>
<circle cx="735.75" cy="1842.54" r="1.3" fill="none" stroke="#111" stroke-width="0.95"/>
<circle cx="736.75" cy="1846.54" r="1.3" fill="none" stroke="#111" stroke-width="0.95"/>
<line x1="807.9" y1="1865.98" x2="813.5" y2="1865.98" stroke="#000" stroke-width="1.1"/>
<line x1="807.9" y1="1863.48" x2="807.9" y2="1868.48" stroke="#000" stroke-width="1.1"/>
<line x1="813.5" y1="1863.48" x2="813.5" y2="1868.48" stroke="#000" stroke-width="1.1"/>
<circle cx="809.7" cy="1863.38" r="1.3" fill="none" stroke="#111" stroke-width="0.95"/>
<circle cx="811.7" cy="1865.98" r="1.3" fill="none" stroke="#111" stroke-width="0.95"/>
<circle cx="810.7" cy="1868.58" r="1.3" fill="none" stroke="#111" stroke-width="0.95"/>
<rect x="881.9" y="1408.64" width="42.9" height="14.2" fill="#bfe3b0"/>
<rect x="881.9" y="1430.08" width="3.2" height="14.2" fill="#bfe3b0"/>
<rect x="881.9" y="1451.52" width="5" height="14.2" fill="#bfe3b0"/>
<rect x="881.9" y="1472.96" width="2" height="14.2" fill="#bfe3b0"/>
<rect x="881.9" y="1494.4" width="1" height="14.2" fill="#bfe3b0"/>
<rect x="881.9" y="1515.84" width="144.1" height="14.2" fill="#bfe3b0"/>
<rect x="881.9" y="1558.72" width="0.5" height="14.2" fill="#bfe3b0"/>
<rect x="881.9" y="1580.16" width="0.5" height="14.2" fill="#bfe3b0"/>
<rect x="881.9" y="1623.04" width="0.5" height="14.2" fill="#bfe3b0"/>
<rect x="881.9" y="1644.48" width="26.5" height="14.2" fill="#bfe3b0"/>
<rect x="881.9" y="1665.92" width="4.8" height="14.2" fill="#bfe3b0"/>
<rect x="881.9" y="1687.36" width="2" height="14.2" fill="#bfe3b0"/>
<rect x="881.9" y="1708.8" width="4.3" height="14.2" fill="#bfe3b0"/>
<rect x="881.9" y="1730.24" width="1" height="14.2" fill="#bfe3b0"/>
<rect x="881.9" y="1751.68" width="3.8" height="14.2" fill="#bfe3b0"/>
<rect x="881.9" y="1773.12" width="0.5" height="14.2" fill="#bfe3b0"/>
<rect x="881.9" y="1794.56" width="3.8" height="14.2" fill="#bfe3b0"/>
<rect x="881.9" y="1816" width="161" height="14.2" fill="#bfe3b0"/>
<rect x="881.9" y="1837.44" width="1" height="14.2" fill="#bfe3b0"/>
<rect x="881.9" y="1858.88" width="158.6" height="14.2" fill="#bfe3b0"/>
<line x1="877.6" y1="1394.3" x2="881.9" y2="1394.3" stroke="#000" stroke-width="1.3"/>
<line x1="877.6" y1="1415.74" x2="881.9" y2="1415.74" stroke="#000" stroke-width="1.3"/>
<line x1="877.6" y1="1437.18" x2="881.9" y2="1437.18" stroke="#000" stroke-width="1.3"/>
<line x1="877.6" y1="1458.62" x2="881.9" y2="1458.62" stroke="#000" stroke-width="1.3"/>
<line x1="877.6" y1="1480.06" x2="881.9" y2="1480.06" stroke="#000" stroke-width="1.3"/>
<line x1="877.6" y1="1501.5" x2="881.9" y2="1501.5" stroke="#000" stroke-width="1.3"/>
<line x1="877.6" y1="1522.94" x2="881.9" y2="1522.94" stroke="#000" stroke-width="1.3"/>
<line x1="877.6" y1="1544.38" x2="881.9" y2="1544.38" stroke="#000" stroke-width="1.3"/>
<line x1="877.6" y1="1565.82" x2="881.9" y2="1565.82" stroke="#000" stroke-width="1.3"/>
<line x1="877.6" y1="1587.26" x2="881.9" y2="1587.26" stroke="#000" stroke-width="1.3"/>
<line x1="877.6" y1="1608.7" x2="881.9" y2="1608.7" stroke="#000" stroke-width="1.3"/>
<line x1="877.6" y1="1630.14" x2="881.9" y2="1630.14" stroke="#000" stroke-width="1.3"/>
<line x1="877.6" y1="1651.58" x2="881.9" y2="1651.58" stroke="#000" stroke-width="1.3"/>
<line x1="877.6" y1="1673.02" x2="881.9" y2="1673.02" stroke="#000" stroke-width="1.3"/>
<line x1="877.6" y1="1694.46" x2="881.9" y2="1694.46" stroke="#000" stroke-width="1.3"/>
<line x1="877.6" y1="1715.9" x2="881.9" y2="1715.9" stroke="#000" stroke-width="1.3"/>
<line x1="877.6" y1="1737.34" x2="881.9" y2="1737.34" stroke="#000" stroke-width="1.3"/>
<line x1="877.6" y1="1758.78" x2="881.9" y2="1758.78" stroke="#000" stroke-width="1.3"/>
<line x1="877.6" y1="1780.22" x2="881.9" y2="1780.22" stroke="#000" stroke-width="1.3"/>
<line x1="877.6" y1="1801.66" x2="881.9" y2="1801.66" stroke="#000" stroke-width="1.3"/>
<line x1="877.6" y1="1823.1" x2="881.9" y2="1823.1" stroke="#000" stroke-width="1.3"/>
<line x1="877.6" y1="1844.54" x2="881.9" y2="1844.54" stroke="#000" stroke-width="1.3"/>
<line x1="877.6" y1="1865.98" x2="881.9" y2="1865.98" stroke="#000" stroke-width="1.3"/>
<line x1="881.9" y1="1879.5" x2="881.9" y2="1883.1" stroke="#000" stroke-width="1.3"/>
<line x1="919.14" y1="1879.5" x2="919.14" y2="1883.1" stroke="#000" stroke-width="1.3"/>
<line x1="956.38" y1="1879.5" x2="956.38" y2="1883.1" stroke="#000" stroke-width="1.3"/>
<line x1="993.62" y1="1879.5" x2="993.62" y2="1883.1" stroke="#000" stroke-width="1.3"/>
<line x1="1030.86" y1="1879.5" x2="1030.86" y2="1883.1" stroke="#000" stroke-width="1.3"/>
<line x1="1068.1" y1="1879.5" x2="1068.1" y2="1883.1" stroke="#000" stroke-width="1.3"/>
<path d="M881.9 1379.5 V1879.5 H1068.7" fill="none" stroke="#000" stroke-width="1.7"/>
<text font-size="16.5" transform="translate(881.9 1901.8) scale(1.1100 1)" text-anchor="middle" font-weight="bold">0</text>
<text font-size="16.5" transform="translate(919.14 1901.8) scale(1.1100 1)" text-anchor="middle" font-weight="bold">20</text>
<text font-size="16.5" transform="translate(956.38 1901.8) scale(1.1100 1)" text-anchor="middle" font-weight="bold">40</text>
<text font-size="16.5" transform="translate(993.62 1901.8) scale(1.1100 1)" text-anchor="middle" font-weight="bold">60</text>
<text font-size="16.5" transform="translate(1030.86 1901.8) scale(1.1100 1)" text-anchor="middle" font-weight="bold">80</text>
<text font-size="16.5" transform="translate(1068.1 1901.8) scale(1.1100 1)" text-anchor="middle" font-weight="bold">100</text>
<circle cx="883.7" cy="1388.4" r="1.3" fill="none" stroke="#111" stroke-width="0.95"/>
<circle cx="883.7" cy="1394.3" r="1.3" fill="none" stroke="#111" stroke-width="0.95"/>
<circle cx="883.7" cy="1400.2" r="1.3" fill="none" stroke="#111" stroke-width="0.95"/>
<line x1="922.7" y1="1415.74" x2="927.4" y2="1415.74" stroke="#000" stroke-width="1.1"/>
<line x1="922.7" y1="1413.24" x2="922.7" y2="1418.24" stroke="#000" stroke-width="1.1"/>
<line x1="927.4" y1="1413.24" x2="927.4" y2="1418.24" stroke="#000" stroke-width="1.1"/>
<circle cx="924.05" cy="1413.14" r="1.3" fill="none" stroke="#111" stroke-width="0.95"/>
<circle cx="926.05" cy="1415.74" r="1.3" fill="none" stroke="#111" stroke-width="0.95"/>
<circle cx="925.05" cy="1418.34" r="1.3" fill="none" stroke="#111" stroke-width="0.95"/>
<circle cx="886.3" cy="1431.28" r="1.3" fill="none" stroke="#111" stroke-width="0.95"/>
<circle cx="886.3" cy="1437.18" r="1.3" fill="none" stroke="#111" stroke-width="0.95"/>
<circle cx="886.3" cy="1443.08" r="1.3" fill="none" stroke="#111" stroke-width="0.95"/>
<line x1="884.7" y1="1437.18" x2="887.7" y2="1437.18" stroke="#000" stroke-width="1.1"/>
<line x1="884.7" y1="1435.38" x2="884.7" y2="1438.98" stroke="#000" stroke-width="1.1"/>
<line x1="887.7" y1="1435.38" x2="887.7" y2="1438.98" stroke="#000" stroke-width="1.1"/>
<line x1="883.9" y1="1458.62" x2="890.4" y2="1458.62" stroke="#000" stroke-width="1.1"/>
<line x1="883.9" y1="1456.12" x2="883.9" y2="1461.12" stroke="#000" stroke-width="1.1"/>
<line x1="890.4" y1="1456.12" x2="890.4" y2="1461.12" stroke="#000" stroke-width="1.1"/>
<circle cx="886.15" cy="1456.02" r="1.3" fill="none" stroke="#111" stroke-width="0.95"/>
<circle cx="888.15" cy="1458.62" r="1.3" fill="none" stroke="#111" stroke-width="0.95"/>
<circle cx="887.15" cy="1461.22" r="1.3" fill="none" stroke="#111" stroke-width="0.95"/>
<circle cx="885.1" cy="1474.16" r="1.3" fill="none" stroke="#111" stroke-width="0.95"/>
<circle cx="885.1" cy="1480.06" r="1.3" fill="none" stroke="#111" stroke-width="0.95"/>
<circle cx="885.1" cy="1485.96" r="1.3" fill="none" stroke="#111" stroke-width="0.95"/>
<line x1="883.5" y1="1480.06" x2="886.5" y2="1480.06" stroke="#000" stroke-width="1.1"/>
<line x1="883.5" y1="1478.26" x2="883.5" y2="1481.86" stroke="#000" stroke-width="1.1"/>
<line x1="886.5" y1="1478.26" x2="886.5" y2="1481.86" stroke="#000" stroke-width="1.1"/>
<circle cx="884.1" cy="1495.6" r="1.3" fill="none" stroke="#111" stroke-width="0.95"/>
<circle cx="884.1" cy="1501.5" r="1.3" fill="none" stroke="#111" stroke-width="0.95"/>
<circle cx="884.1" cy="1507.4" r="1.3" fill="none" stroke="#111" stroke-width="0.95"/>
<line x1="882.5" y1="1501.5" x2="885.5" y2="1501.5" stroke="#000" stroke-width="1.1"/>
<line x1="882.5" y1="1499.7" x2="882.5" y2="1503.3" stroke="#000" stroke-width="1.1"/>
<line x1="885.5" y1="1499.7" x2="885.5" y2="1503.3" stroke="#000" stroke-width="1.1"/>
<line x1="1007.6" y1="1522.94" x2="1044.6" y2="1522.94" stroke="#000" stroke-width="1.3"/>
<line x1="1007.6" y1="1520.44" x2="1007.6" y2="1525.44" stroke="#000" stroke-width="1.3"/>
<line x1="1044.6" y1="1520.44" x2="1044.6" y2="1525.44" stroke="#000" stroke-width="1.3"/>
<circle cx="1004.6" cy="1522.94" r="1.3" fill="none" stroke="#111" stroke-width="0.95"/>
<circle cx="1036.3" cy="1520.94" r="1.3" fill="none" stroke="#111" stroke-width="0.95"/>
<circle cx="1037.3" cy="1524.94" r="1.3" fill="none" stroke="#111" stroke-width="0.95"/>
<circle cx="883.7" cy="1538.48" r="1.3" fill="none" stroke="#111" stroke-width="0.95"/>
<circle cx="883.7" cy="1544.38" r="1.3" fill="none" stroke="#111" stroke-width="0.95"/>
<circle cx="883.7" cy="1550.28" r="1.3" fill="none" stroke="#111" stroke-width="0.95"/>
<circle cx="883.7" cy="1559.92" r="1.3" fill="none" stroke="#111" stroke-width="0.95"/>
<circle cx="883.7" cy="1565.82" r="1.3" fill="none" stroke="#111" stroke-width="0.95"/>
<circle cx="883.7" cy="1571.72" r="1.3" fill="none" stroke="#111" stroke-width="0.95"/>
<line x1="882.1" y1="1565.82" x2="885.1" y2="1565.82" stroke="#000" stroke-width="1.1"/>
<line x1="882.1" y1="1564.02" x2="882.1" y2="1567.62" stroke="#000" stroke-width="1.1"/>
<line x1="885.1" y1="1564.02" x2="885.1" y2="1567.62" stroke="#000" stroke-width="1.1"/>
<circle cx="883.7" cy="1581.36" r="1.3" fill="none" stroke="#111" stroke-width="0.95"/>
<circle cx="883.7" cy="1587.26" r="1.3" fill="none" stroke="#111" stroke-width="0.95"/>
<circle cx="883.7" cy="1593.16" r="1.3" fill="none" stroke="#111" stroke-width="0.95"/>
<line x1="882.1" y1="1587.26" x2="885.1" y2="1587.26" stroke="#000" stroke-width="1.1"/>
<line x1="882.1" y1="1585.46" x2="882.1" y2="1589.06" stroke="#000" stroke-width="1.1"/>
<line x1="885.1" y1="1585.46" x2="885.1" y2="1589.06" stroke="#000" stroke-width="1.1"/>
<circle cx="883.7" cy="1602.8" r="1.3" fill="none" stroke="#111" stroke-width="0.95"/>
<circle cx="883.7" cy="1608.7" r="1.3" fill="none" stroke="#111" stroke-width="0.95"/>
<circle cx="883.7" cy="1614.6" r="1.3" fill="none" stroke="#111" stroke-width="0.95"/>
<circle cx="883.7" cy="1624.24" r="1.3" fill="none" stroke="#111" stroke-width="0.95"/>
<circle cx="883.7" cy="1630.14" r="1.3" fill="none" stroke="#111" stroke-width="0.95"/>
<circle cx="883.7" cy="1636.04" r="1.3" fill="none" stroke="#111" stroke-width="0.95"/>
<line x1="882.1" y1="1630.14" x2="885.1" y2="1630.14" stroke="#000" stroke-width="1.1"/>
<line x1="882.1" y1="1628.34" x2="882.1" y2="1631.94" stroke="#000" stroke-width="1.1"/>
<line x1="885.1" y1="1628.34" x2="885.1" y2="1631.94" stroke="#000" stroke-width="1.1"/>
<line x1="902.5" y1="1651.58" x2="915.5" y2="1651.58" stroke="#000" stroke-width="1.3"/>
<line x1="902.5" y1="1649.08" x2="902.5" y2="1654.08" stroke="#000" stroke-width="1.3"/>
<line x1="915.5" y1="1649.08" x2="915.5" y2="1654.08" stroke="#000" stroke-width="1.3"/>
<circle cx="899.5" cy="1651.58" r="1.3" fill="none" stroke="#111" stroke-width="0.95"/>
<circle cx="912.95" cy="1649.58" r="1.3" fill="none" stroke="#111" stroke-width="0.95"/>
<circle cx="913.95" cy="1653.58" r="1.3" fill="none" stroke="#111" stroke-width="0.95"/>
<line x1="883.9" y1="1673.02" x2="890.1" y2="1673.02" stroke="#000" stroke-width="1.1"/>
<line x1="883.9" y1="1670.52" x2="883.9" y2="1675.52" stroke="#000" stroke-width="1.1"/>
<line x1="890.1" y1="1670.52" x2="890.1" y2="1675.52" stroke="#000" stroke-width="1.1"/>
<circle cx="886" cy="1670.42" r="1.3" fill="none" stroke="#111" stroke-width="0.95"/>
<circle cx="888" cy="1673.02" r="1.3" fill="none" stroke="#111" stroke-width="0.95"/>
<circle cx="887" cy="1675.62" r="1.3" fill="none" stroke="#111" stroke-width="0.95"/>
<circle cx="885.1" cy="1688.56" r="1.3" fill="none" stroke="#111" stroke-width="0.95"/>
<circle cx="885.1" cy="1694.46" r="1.3" fill="none" stroke="#111" stroke-width="0.95"/>
<circle cx="885.1" cy="1700.36" r="1.3" fill="none" stroke="#111" stroke-width="0.95"/>
<line x1="883.5" y1="1694.46" x2="886.5" y2="1694.46" stroke="#000" stroke-width="1.1"/>
<line x1="883.5" y1="1692.66" x2="883.5" y2="1696.26" stroke="#000" stroke-width="1.1"/>
<line x1="886.5" y1="1692.66" x2="886.5" y2="1696.26" stroke="#000" stroke-width="1.1"/>
<circle cx="887.4" cy="1710" r="1.3" fill="none" stroke="#111" stroke-width="0.95"/>
<circle cx="887.4" cy="1715.9" r="1.3" fill="none" stroke="#111" stroke-width="0.95"/>
<circle cx="887.4" cy="1721.8" r="1.3" fill="none" stroke="#111" stroke-width="0.95"/>
<line x1="885.8" y1="1715.9" x2="888.8" y2="1715.9" stroke="#000" stroke-width="1.1"/>
<line x1="885.8" y1="1714.1" x2="885.8" y2="1717.7" stroke="#000" stroke-width="1.1"/>
<line x1="888.8" y1="1714.1" x2="888.8" y2="1717.7" stroke="#000" stroke-width="1.1"/>
<circle cx="884.1" cy="1731.44" r="1.3" fill="none" stroke="#111" stroke-width="0.95"/>
<circle cx="884.1" cy="1737.34" r="1.3" fill="none" stroke="#111" stroke-width="0.95"/>
<circle cx="884.1" cy="1743.24" r="1.3" fill="none" stroke="#111" stroke-width="0.95"/>
<line x1="882.5" y1="1737.34" x2="885.5" y2="1737.34" stroke="#000" stroke-width="1.1"/>
<line x1="882.5" y1="1735.54" x2="882.5" y2="1739.14" stroke="#000" stroke-width="1.1"/>
<line x1="885.5" y1="1735.54" x2="885.5" y2="1739.14" stroke="#000" stroke-width="1.1"/>
<circle cx="886.9" cy="1752.88" r="1.3" fill="none" stroke="#111" stroke-width="0.95"/>
<circle cx="886.9" cy="1758.78" r="1.3" fill="none" stroke="#111" stroke-width="0.95"/>
<circle cx="886.9" cy="1764.68" r="1.3" fill="none" stroke="#111" stroke-width="0.95"/>
<line x1="885.3" y1="1758.78" x2="888.3" y2="1758.78" stroke="#000" stroke-width="1.1"/>
<line x1="885.3" y1="1756.98" x2="885.3" y2="1760.58" stroke="#000" stroke-width="1.1"/>
<line x1="888.3" y1="1756.98" x2="888.3" y2="1760.58" stroke="#000" stroke-width="1.1"/>
<circle cx="883.7" cy="1774.32" r="1.3" fill="none" stroke="#111" stroke-width="0.95"/>
<circle cx="883.7" cy="1780.22" r="1.3" fill="none" stroke="#111" stroke-width="0.95"/>
<circle cx="883.7" cy="1786.12" r="1.3" fill="none" stroke="#111" stroke-width="0.95"/>
<line x1="882.1" y1="1780.22" x2="885.1" y2="1780.22" stroke="#000" stroke-width="1.1"/>
<line x1="882.1" y1="1778.42" x2="882.1" y2="1782.02" stroke="#000" stroke-width="1.1"/>
<line x1="885.1" y1="1778.42" x2="885.1" y2="1782.02" stroke="#000" stroke-width="1.1"/>
<line x1="882.9" y1="1801.66" x2="890.9" y2="1801.66" stroke="#000" stroke-width="1.1"/>
<line x1="882.9" y1="1799.16" x2="882.9" y2="1804.16" stroke="#000" stroke-width="1.1"/>
<line x1="890.9" y1="1799.16" x2="890.9" y2="1804.16" stroke="#000" stroke-width="1.1"/>
<circle cx="885.9" cy="1799.06" r="1.3" fill="none" stroke="#111" stroke-width="0.95"/>
<circle cx="887.9" cy="1801.66" r="1.3" fill="none" stroke="#111" stroke-width="0.95"/>
<circle cx="886.9" cy="1804.26" r="1.3" fill="none" stroke="#111" stroke-width="0.95"/>
<line x1="1033.3" y1="1823.1" x2="1051.6" y2="1823.1" stroke="#000" stroke-width="1.3"/>
<line x1="1033.3" y1="1820.6" x2="1033.3" y2="1825.6" stroke="#000" stroke-width="1.3"/>
<line x1="1051.6" y1="1820.6" x2="1051.6" y2="1825.6" stroke="#000" stroke-width="1.3"/>
<circle cx="1030.3" cy="1823.1" r="1.3" fill="none" stroke="#111" stroke-width="0.95"/>
<circle cx="1048.25" cy="1821.1" r="1.3" fill="none" stroke="#111" stroke-width="0.95"/>
<circle cx="1049.25" cy="1825.1" r="1.3" fill="none" stroke="#111" stroke-width="0.95"/>
<line x1="881.9" y1="1844.54" x2="886.9" y2="1844.54" stroke="#000" stroke-width="1.1"/>
<line x1="881.9" y1="1842.04" x2="881.9" y2="1847.04" stroke="#000" stroke-width="1.1"/>
<line x1="886.9" y1="1842.04" x2="886.9" y2="1847.04" stroke="#000" stroke-width="1.1"/>
<circle cx="883.4" cy="1841.94" r="1.3" fill="none" stroke="#111" stroke-width="0.95"/>
<circle cx="885.4" cy="1844.54" r="1.3" fill="none" stroke="#111" stroke-width="0.95"/>
<circle cx="884.4" cy="1847.14" r="1.3" fill="none" stroke="#111" stroke-width="0.95"/>
<line x1="1035.4" y1="1865.98" x2="1043.3" y2="1865.98" stroke="#000" stroke-width="1.1"/>
<line x1="1035.4" y1="1863.48" x2="1035.4" y2="1868.48" stroke="#000" stroke-width="1.1"/>
<line x1="1043.3" y1="1863.48" x2="1043.3" y2="1868.48" stroke="#000" stroke-width="1.1"/>
<circle cx="1038.35" cy="1863.38" r="1.3" fill="none" stroke="#111" stroke-width="0.95"/>
<circle cx="1040.35" cy="1865.98" r="1.3" fill="none" stroke="#111" stroke-width="0.95"/>
<circle cx="1039.35" cy="1868.58" r="1.3" fill="none" stroke="#111" stroke-width="0.95"/>
<rect x="1112.7" y="1408.64" width="9" height="14.2" fill="#bfe3b0"/>
<rect x="1112.7" y="1430.08" width="2" height="14.2" fill="#bfe3b0"/>
<rect x="1112.7" y="1451.52" width="2" height="14.2" fill="#bfe3b0"/>
<rect x="1112.7" y="1472.96" width="1" height="14.2" fill="#bfe3b0"/>
<rect x="1112.7" y="1515.84" width="118.6" height="14.2" fill="#bfe3b0"/>
<rect x="1112.7" y="1537.28" width="1" height="14.2" fill="#bfe3b0"/>
<rect x="1112.7" y="1580.16" width="1" height="14.2" fill="#bfe3b0"/>
<rect x="1112.7" y="1601.6" width="1" height="14.2" fill="#bfe3b0"/>
<rect x="1112.7" y="1644.48" width="11" height="14.2" fill="#bfe3b0"/>
<rect x="1112.7" y="1665.92" width="2.5" height="14.2" fill="#bfe3b0"/>
<rect x="1112.7" y="1687.36" width="2.5" height="14.2" fill="#bfe3b0"/>
<rect x="1112.7" y="1708.8" width="5.5" height="14.2" fill="#bfe3b0"/>
<rect x="1112.7" y="1751.68" width="1" height="14.2" fill="#bfe3b0"/>
<rect x="1112.7" y="1773.12" width="1" height="14.2" fill="#bfe3b0"/>
<rect x="1112.7" y="1794.56" width="2.7" height="14.2" fill="#bfe3b0"/>
<rect x="1112.7" y="1816" width="38.9" height="14.2" fill="#bfe3b0"/>
<rect x="1112.7" y="1837.44" width="3.5" height="14.2" fill="#bfe3b0"/>
<rect x="1112.7" y="1858.88" width="161.1" height="14.2" fill="#bfe3b0"/>
<line x1="1108.4" y1="1394.3" x2="1112.7" y2="1394.3" stroke="#000" stroke-width="1.3"/>
<line x1="1108.4" y1="1415.74" x2="1112.7" y2="1415.74" stroke="#000" stroke-width="1.3"/>
<line x1="1108.4" y1="1437.18" x2="1112.7" y2="1437.18" stroke="#000" stroke-width="1.3"/>
<line x1="1108.4" y1="1458.62" x2="1112.7" y2="1458.62" stroke="#000" stroke-width="1.3"/>
<line x1="1108.4" y1="1480.06" x2="1112.7" y2="1480.06" stroke="#000" stroke-width="1.3"/>
<line x1="1108.4" y1="1501.5" x2="1112.7" y2="1501.5" stroke="#000" stroke-width="1.3"/>
<line x1="1108.4" y1="1522.94" x2="1112.7" y2="1522.94" stroke="#000" stroke-width="1.3"/>
<line x1="1108.4" y1="1544.38" x2="1112.7" y2="1544.38" stroke="#000" stroke-width="1.3"/>
<line x1="1108.4" y1="1565.82" x2="1112.7" y2="1565.82" stroke="#000" stroke-width="1.3"/>
<line x1="1108.4" y1="1587.26" x2="1112.7" y2="1587.26" stroke="#000" stroke-width="1.3"/>
<line x1="1108.4" y1="1608.7" x2="1112.7" y2="1608.7" stroke="#000" stroke-width="1.3"/>
<line x1="1108.4" y1="1630.14" x2="1112.7" y2="1630.14" stroke="#000" stroke-width="1.3"/>
<line x1="1108.4" y1="1651.58" x2="1112.7" y2="1651.58" stroke="#000" stroke-width="1.3"/>
<line x1="1108.4" y1="1673.02" x2="1112.7" y2="1673.02" stroke="#000" stroke-width="1.3"/>
<line x1="1108.4" y1="1694.46" x2="1112.7" y2="1694.46" stroke="#000" stroke-width="1.3"/>
<line x1="1108.4" y1="1715.9" x2="1112.7" y2="1715.9" stroke="#000" stroke-width="1.3"/>
<line x1="1108.4" y1="1737.34" x2="1112.7" y2="1737.34" stroke="#000" stroke-width="1.3"/>
<line x1="1108.4" y1="1758.78" x2="1112.7" y2="1758.78" stroke="#000" stroke-width="1.3"/>
<line x1="1108.4" y1="1780.22" x2="1112.7" y2="1780.22" stroke="#000" stroke-width="1.3"/>
<line x1="1108.4" y1="1801.66" x2="1112.7" y2="1801.66" stroke="#000" stroke-width="1.3"/>
<line x1="1108.4" y1="1823.1" x2="1112.7" y2="1823.1" stroke="#000" stroke-width="1.3"/>
<line x1="1108.4" y1="1844.54" x2="1112.7" y2="1844.54" stroke="#000" stroke-width="1.3"/>
<line x1="1108.4" y1="1865.98" x2="1112.7" y2="1865.98" stroke="#000" stroke-width="1.3"/>
<line x1="1112.7" y1="1879.5" x2="1112.7" y2="1883.1" stroke="#000" stroke-width="1.3"/>
<line x1="1149.94" y1="1879.5" x2="1149.94" y2="1883.1" stroke="#000" stroke-width="1.3"/>
<line x1="1187.18" y1="1879.5" x2="1187.18" y2="1883.1" stroke="#000" stroke-width="1.3"/>
<line x1="1224.42" y1="1879.5" x2="1224.42" y2="1883.1" stroke="#000" stroke-width="1.3"/>
<line x1="1261.66" y1="1879.5" x2="1261.66" y2="1883.1" stroke="#000" stroke-width="1.3"/>
<line x1="1298.9" y1="1879.5" x2="1298.9" y2="1883.1" stroke="#000" stroke-width="1.3"/>
<path d="M1112.7 1379.5 V1879.5 H1299.5" fill="none" stroke="#000" stroke-width="1.7"/>
<text font-size="16.5" transform="translate(1112.7 1901.8) scale(1.1100 1)" text-anchor="middle" font-weight="bold">0</text>
<text font-size="16.5" transform="translate(1149.94 1901.8) scale(1.1100 1)" text-anchor="middle" font-weight="bold">2</text>
<text font-size="16.5" transform="translate(1187.18 1901.8) scale(1.1100 1)" text-anchor="middle" font-weight="bold">4</text>
<text font-size="16.5" transform="translate(1224.42 1901.8) scale(1.1100 1)" text-anchor="middle" font-weight="bold">6</text>
<text font-size="16.5" transform="translate(1261.66 1901.8) scale(1.1100 1)" text-anchor="middle" font-weight="bold">8</text>
<text font-size="16.5" transform="translate(1298.9 1901.8) scale(1.1100 1)" text-anchor="middle" font-weight="bold">10</text>
<circle cx="1114.5" cy="1388.4" r="1.3" fill="none" stroke="#111" stroke-width="0.95"/>
<circle cx="1114.5" cy="1394.3" r="1.3" fill="none" stroke="#111" stroke-width="0.95"/>
<circle cx="1114.5" cy="1400.2" r="1.3" fill="none" stroke="#111" stroke-width="0.95"/>
<circle cx="1122.9" cy="1409.84" r="1.3" fill="none" stroke="#111" stroke-width="0.95"/>
<circle cx="1122.9" cy="1415.74" r="1.3" fill="none" stroke="#111" stroke-width="0.95"/>
<circle cx="1122.9" cy="1421.64" r="1.3" fill="none" stroke="#111" stroke-width="0.95"/>
<line x1="1121.3" y1="1415.74" x2="1124.3" y2="1415.74" stroke="#000" stroke-width="1.1"/>
<line x1="1121.3" y1="1413.94" x2="1121.3" y2="1417.54" stroke="#000" stroke-width="1.1"/>
<line x1="1124.3" y1="1413.94" x2="1124.3" y2="1417.54" stroke="#000" stroke-width="1.1"/>
<circle cx="1115.9" cy="1431.28" r="1.3" fill="none" stroke="#111" stroke-width="0.95"/>
<circle cx="1115.9" cy="1437.18" r="1.3" fill="none" stroke="#111" stroke-width="0.95"/>
<circle cx="1115.9" cy="1443.08" r="1.3" fill="none" stroke="#111" stroke-width="0.95"/>
<line x1="1114.3" y1="1437.18" x2="1117.3" y2="1437.18" stroke="#000" stroke-width="1.1"/>
<line x1="1114.3" y1="1435.38" x2="1114.3" y2="1438.98" stroke="#000" stroke-width="1.1"/>
<line x1="1117.3" y1="1435.38" x2="1117.3" y2="1438.98" stroke="#000" stroke-width="1.1"/>
<circle cx="1115.9" cy="1452.72" r="1.3" fill="none" stroke="#111" stroke-width="0.95"/>
<circle cx="1115.9" cy="1458.62" r="1.3" fill="none" stroke="#111" stroke-width="0.95"/>
<circle cx="1115.9" cy="1464.52" r="1.3" fill="none" stroke="#111" stroke-width="0.95"/>
<line x1="1114.3" y1="1458.62" x2="1117.3" y2="1458.62" stroke="#000" stroke-width="1.1"/>
<line x1="1114.3" y1="1456.82" x2="1114.3" y2="1460.42" stroke="#000" stroke-width="1.1"/>
<line x1="1117.3" y1="1456.82" x2="1117.3" y2="1460.42" stroke="#000" stroke-width="1.1"/>
<circle cx="1114.9" cy="1474.16" r="1.3" fill="none" stroke="#111" stroke-width="0.95"/>
<circle cx="1114.9" cy="1480.06" r="1.3" fill="none" stroke="#111" stroke-width="0.95"/>
<circle cx="1114.9" cy="1485.96" r="1.3" fill="none" stroke="#111" stroke-width="0.95"/>
<line x1="1113.3" y1="1480.06" x2="1116.3" y2="1480.06" stroke="#000" stroke-width="1.1"/>
<line x1="1113.3" y1="1478.26" x2="1113.3" y2="1481.86" stroke="#000" stroke-width="1.1"/>
<line x1="1116.3" y1="1478.26" x2="1116.3" y2="1481.86" stroke="#000" stroke-width="1.1"/>
<circle cx="1114.5" cy="1495.6" r="1.3" fill="none" stroke="#111" stroke-width="0.95"/>
<circle cx="1114.5" cy="1501.5" r="1.3" fill="none" stroke="#111" stroke-width="0.95"/>
<circle cx="1114.5" cy="1507.4" r="1.3" fill="none" stroke="#111" stroke-width="0.95"/>
<line x1="1209" y1="1522.94" x2="1253.8" y2="1522.94" stroke="#000" stroke-width="1.3"/>
<line x1="1209" y1="1520.44" x2="1209" y2="1525.44" stroke="#000" stroke-width="1.3"/>
<line x1="1253.8" y1="1520.44" x2="1253.8" y2="1525.44" stroke="#000" stroke-width="1.3"/>
<circle cx="1206" cy="1522.94" r="1.3" fill="none" stroke="#111" stroke-width="0.95"/>
<circle cx="1243.55" cy="1520.94" r="1.3" fill="none" stroke="#111" stroke-width="0.95"/>
<circle cx="1244.55" cy="1524.94" r="1.3" fill="none" stroke="#111" stroke-width="0.95"/>
<circle cx="1114.9" cy="1538.48" r="1.3" fill="none" stroke="#111" stroke-width="0.95"/>
<circle cx="1114.9" cy="1544.38" r="1.3" fill="none" stroke="#111" stroke-width="0.95"/>
<circle cx="1114.9" cy="1550.28" r="1.3" fill="none" stroke="#111" stroke-width="0.95"/>
<line x1="1113.3" y1="1544.38" x2="1116.3" y2="1544.38" stroke="#000" stroke-width="1.1"/>
<line x1="1113.3" y1="1542.58" x2="1113.3" y2="1546.18" stroke="#000" stroke-width="1.1"/>
<line x1="1116.3" y1="1542.58" x2="1116.3" y2="1546.18" stroke="#000" stroke-width="1.1"/>
<circle cx="1114.5" cy="1559.92" r="1.3" fill="none" stroke="#111" stroke-width="0.95"/>
<circle cx="1114.5" cy="1565.82" r="1.3" fill="none" stroke="#111" stroke-width="0.95"/>
<circle cx="1114.5" cy="1571.72" r="1.3" fill="none" stroke="#111" stroke-width="0.95"/>
<circle cx="1114.9" cy="1581.36" r="1.3" fill="none" stroke="#111" stroke-width="0.95"/>
<circle cx="1114.9" cy="1587.26" r="1.3" fill="none" stroke="#111" stroke-width="0.95"/>
<circle cx="1114.9" cy="1593.16" r="1.3" fill="none" stroke="#111" stroke-width="0.95"/>
<line x1="1113.3" y1="1587.26" x2="1116.3" y2="1587.26" stroke="#000" stroke-width="1.1"/>
<line x1="1113.3" y1="1585.46" x2="1113.3" y2="1589.06" stroke="#000" stroke-width="1.1"/>
<line x1="1116.3" y1="1585.46" x2="1116.3" y2="1589.06" stroke="#000" stroke-width="1.1"/>
<circle cx="1114.9" cy="1602.8" r="1.3" fill="none" stroke="#111" stroke-width="0.95"/>
<circle cx="1114.9" cy="1608.7" r="1.3" fill="none" stroke="#111" stroke-width="0.95"/>
<circle cx="1114.9" cy="1614.6" r="1.3" fill="none" stroke="#111" stroke-width="0.95"/>
<line x1="1113.3" y1="1608.7" x2="1116.3" y2="1608.7" stroke="#000" stroke-width="1.1"/>
<line x1="1113.3" y1="1606.9" x2="1113.3" y2="1610.5" stroke="#000" stroke-width="1.1"/>
<line x1="1116.3" y1="1606.9" x2="1116.3" y2="1610.5" stroke="#000" stroke-width="1.1"/>
<circle cx="1114.5" cy="1624.24" r="1.3" fill="none" stroke="#111" stroke-width="0.95"/>
<circle cx="1114.5" cy="1630.14" r="1.3" fill="none" stroke="#111" stroke-width="0.95"/>
<circle cx="1114.5" cy="1636.04" r="1.3" fill="none" stroke="#111" stroke-width="0.95"/>
<line x1="1121.7" y1="1651.58" x2="1125.7" y2="1651.58" stroke="#000" stroke-width="1.1"/>
<line x1="1121.7" y1="1649.08" x2="1121.7" y2="1654.08" stroke="#000" stroke-width="1.1"/>
<line x1="1125.7" y1="1649.08" x2="1125.7" y2="1654.08" stroke="#000" stroke-width="1.1"/>
<circle cx="1122.7" cy="1648.98" r="1.3" fill="none" stroke="#111" stroke-width="0.95"/>
<circle cx="1124.7" cy="1651.58" r="1.3" fill="none" stroke="#111" stroke-width="0.95"/>
<circle cx="1123.7" cy="1654.18" r="1.3" fill="none" stroke="#111" stroke-width="0.95"/>
<circle cx="1116.4" cy="1667.12" r="1.3" fill="none" stroke="#111" stroke-width="0.95"/>
<circle cx="1116.4" cy="1673.02" r="1.3" fill="none" stroke="#111" stroke-width="0.95"/>
<circle cx="1116.4" cy="1678.92" r="1.3" fill="none" stroke="#111" stroke-width="0.95"/>
<line x1="1114.8" y1="1673.02" x2="1117.8" y2="1673.02" stroke="#000" stroke-width="1.1"/>
<line x1="1114.8" y1="1671.22" x2="1114.8" y2="1674.82" stroke="#000" stroke-width="1.1"/>
<line x1="1117.8" y1="1671.22" x2="1117.8" y2="1674.82" stroke="#000" stroke-width="1.1"/>
<circle cx="1116.4" cy="1688.56" r="1.3" fill="none" stroke="#111" stroke-width="0.95"/>
<circle cx="1116.4" cy="1694.46" r="1.3" fill="none" stroke="#111" stroke-width="0.95"/>
<circle cx="1116.4" cy="1700.36" r="1.3" fill="none" stroke="#111" stroke-width="0.95"/>
<circle cx="1119.4" cy="1710" r="1.3" fill="none" stroke="#111" stroke-width="0.95"/>
<circle cx="1119.4" cy="1715.9" r="1.3" fill="none" stroke="#111" stroke-width="0.95"/>
<circle cx="1119.4" cy="1721.8" r="1.3" fill="none" stroke="#111" stroke-width="0.95"/>
<circle cx="1114.5" cy="1731.44" r="1.3" fill="none" stroke="#111" stroke-width="0.95"/>
<circle cx="1114.5" cy="1737.34" r="1.3" fill="none" stroke="#111" stroke-width="0.95"/>
<circle cx="1114.5" cy="1743.24" r="1.3" fill="none" stroke="#111" stroke-width="0.95"/>
<circle cx="1114.9" cy="1752.88" r="1.3" fill="none" stroke="#111" stroke-width="0.95"/>
<circle cx="1114.9" cy="1758.78" r="1.3" fill="none" stroke="#111" stroke-width="0.95"/>
<circle cx="1114.9" cy="1764.68" r="1.3" fill="none" stroke="#111" stroke-width="0.95"/>
<line x1="1113.3" y1="1758.78" x2="1116.3" y2="1758.78" stroke="#000" stroke-width="1.1"/>
<line x1="1113.3" y1="1756.98" x2="1113.3" y2="1760.58" stroke="#000" stroke-width="1.1"/>
<line x1="1116.3" y1="1756.98" x2="1116.3" y2="1760.58" stroke="#000" stroke-width="1.1"/>
<circle cx="1114.9" cy="1774.32" r="1.3" fill="none" stroke="#111" stroke-width="0.95"/>
<circle cx="1114.9" cy="1780.22" r="1.3" fill="none" stroke="#111" stroke-width="0.95"/>
<circle cx="1114.9" cy="1786.12" r="1.3" fill="none" stroke="#111" stroke-width="0.95"/>
<line x1="1113.3" y1="1780.22" x2="1116.3" y2="1780.22" stroke="#000" stroke-width="1.1"/>
<line x1="1113.3" y1="1778.42" x2="1113.3" y2="1782.02" stroke="#000" stroke-width="1.1"/>
<line x1="1116.3" y1="1778.42" x2="1116.3" y2="1782.02" stroke="#000" stroke-width="1.1"/>
<line x1="1113.7" y1="1801.66" x2="1118.6" y2="1801.66" stroke="#000" stroke-width="1.1"/>
<line x1="1113.7" y1="1799.16" x2="1113.7" y2="1804.16" stroke="#000" stroke-width="1.1"/>
<line x1="1118.6" y1="1799.16" x2="1118.6" y2="1804.16" stroke="#000" stroke-width="1.1"/>
<circle cx="1115.15" cy="1799.06" r="1.3" fill="none" stroke="#111" stroke-width="0.95"/>
<circle cx="1117.15" cy="1801.66" r="1.3" fill="none" stroke="#111" stroke-width="0.95"/>
<circle cx="1116.15" cy="1804.26" r="1.3" fill="none" stroke="#111" stroke-width="0.95"/>
<line x1="1149.2" y1="1823.1" x2="1153.7" y2="1823.1" stroke="#000" stroke-width="1.1"/>
<line x1="1149.2" y1="1820.6" x2="1149.2" y2="1825.6" stroke="#000" stroke-width="1.1"/>
<line x1="1153.7" y1="1820.6" x2="1153.7" y2="1825.6" stroke="#000" stroke-width="1.1"/>
<circle cx="1150.45" cy="1820.5" r="1.3" fill="none" stroke="#111" stroke-width="0.95"/>
<circle cx="1152.45" cy="1823.1" r="1.3" fill="none" stroke="#111" stroke-width="0.95"/>
<circle cx="1151.45" cy="1825.7" r="1.3" fill="none" stroke="#111" stroke-width="0.95"/>
<circle cx="1117.4" cy="1838.64" r="1.3" fill="none" stroke="#111" stroke-width="0.95"/>
<circle cx="1117.4" cy="1844.54" r="1.3" fill="none" stroke="#111" stroke-width="0.95"/>
<circle cx="1117.4" cy="1850.44" r="1.3" fill="none" stroke="#111" stroke-width="0.95"/>
<line x1="1115.8" y1="1844.54" x2="1118.8" y2="1844.54" stroke="#000" stroke-width="1.1"/>
<line x1="1115.8" y1="1842.74" x2="1115.8" y2="1846.34" stroke="#000" stroke-width="1.1"/>
<line x1="1118.8" y1="1842.74" x2="1118.8" y2="1846.34" stroke="#000" stroke-width="1.1"/>
<line x1="1268.6" y1="1865.98" x2="1278.9" y2="1865.98" stroke="#000" stroke-width="1.1"/>
<line x1="1268.6" y1="1863.48" x2="1268.6" y2="1868.48" stroke="#000" stroke-width="1.1"/>
<line x1="1278.9" y1="1863.48" x2="1278.9" y2="1868.48" stroke="#000" stroke-width="1.1"/>
<circle cx="1272.75" cy="1863.38" r="1.3" fill="none" stroke="#111" stroke-width="0.95"/>
<circle cx="1274.75" cy="1865.98" r="1.3" fill="none" stroke="#111" stroke-width="0.95"/>
<circle cx="1273.75" cy="1868.58" r="1.3" fill="none" stroke="#111" stroke-width="0.95"/>
<rect x="1348.7" y="1408.64" width="2" height="14.2" fill="#bfe3b0"/>
<rect x="1348.7" y="1430.08" width="2" height="14.2" fill="#bfe3b0"/>
<rect x="1348.7" y="1451.52" width="2" height="14.2" fill="#bfe3b0"/>
<rect x="1348.7" y="1472.96" width="2" height="14.2" fill="#bfe3b0"/>
<rect x="1348.7" y="1494.4" width="5" height="14.2" fill="#bfe3b0"/>
<rect x="1348.7" y="1515.84" width="68.3" height="14.2" fill="#bfe3b0"/>
<rect x="1348.7" y="1537.28" width="2" height="14.2" fill="#bfe3b0"/>
<rect x="1348.7" y="1558.72" width="2" height="14.2" fill="#bfe3b0"/>
<rect x="1348.7" y="1580.16" width="2" height="14.2" fill="#bfe3b0"/>
<rect x="1348.7" y="1601.6" width="2" height="14.2" fill="#bfe3b0"/>
<rect x="1348.7" y="1623.04" width="2" height="14.2" fill="#bfe3b0"/>
<rect x="1348.7" y="1644.48" width="9.8" height="14.2" fill="#bfe3b0"/>
<rect x="1348.7" y="1665.92" width="2" height="14.2" fill="#bfe3b0"/>
<rect x="1348.7" y="1687.36" width="2" height="14.2" fill="#bfe3b0"/>
<rect x="1348.7" y="1708.8" width="5" height="14.2" fill="#bfe3b0"/>
<rect x="1348.7" y="1730.24" width="2" height="14.2" fill="#bfe3b0"/>
<rect x="1348.7" y="1751.68" width="5" height="14.2" fill="#bfe3b0"/>
<rect x="1348.7" y="1773.12" width="2" height="14.2" fill="#bfe3b0"/>
<rect x="1348.7" y="1794.56" width="5" height="14.2" fill="#bfe3b0"/>
<rect x="1348.7" y="1816" width="21" height="14.2" fill="#bfe3b0"/>
<rect x="1348.7" y="1837.44" width="2" height="14.2" fill="#bfe3b0"/>
<rect x="1348.7" y="1858.88" width="82" height="14.2" fill="#bfe3b0"/>
<line x1="1344.4" y1="1394.3" x2="1348.7" y2="1394.3" stroke="#000" stroke-width="1.3"/>
<line x1="1344.4" y1="1415.74" x2="1348.7" y2="1415.74" stroke="#000" stroke-width="1.3"/>
<line x1="1344.4" y1="1437.18" x2="1348.7" y2="1437.18" stroke="#000" stroke-width="1.3"/>
<line x1="1344.4" y1="1458.62" x2="1348.7" y2="1458.62" stroke="#000" stroke-width="1.3"/>
<line x1="1344.4" y1="1480.06" x2="1348.7" y2="1480.06" stroke="#000" stroke-width="1.3"/>
<line x1="1344.4" y1="1501.5" x2="1348.7" y2="1501.5" stroke="#000" stroke-width="1.3"/>
<line x1="1344.4" y1="1522.94" x2="1348.7" y2="1522.94" stroke="#000" stroke-width="1.3"/>
<line x1="1344.4" y1="1544.38" x2="1348.7" y2="1544.38" stroke="#000" stroke-width="1.3"/>
<line x1="1344.4" y1="1565.82" x2="1348.7" y2="1565.82" stroke="#000" stroke-width="1.3"/>
<line x1="1344.4" y1="1587.26" x2="1348.7" y2="1587.26" stroke="#000" stroke-width="1.3"/>
<line x1="1344.4" y1="1608.7" x2="1348.7" y2="1608.7" stroke="#000" stroke-width="1.3"/>
<line x1="1344.4" y1="1630.14" x2="1348.7" y2="1630.14" stroke="#000" stroke-width="1.3"/>
<line x1="1344.4" y1="1651.58" x2="1348.7" y2="1651.58" stroke="#000" stroke-width="1.3"/>
<line x1="1344.4" y1="1673.02" x2="1348.7" y2="1673.02" stroke="#000" stroke-width="1.3"/>
<line x1="1344.4" y1="1694.46" x2="1348.7" y2="1694.46" stroke="#000" stroke-width="1.3"/>
<line x1="1344.4" y1="1715.9" x2="1348.7" y2="1715.9" stroke="#000" stroke-width="1.3"/>
<line x1="1344.4" y1="1737.34" x2="1348.7" y2="1737.34" stroke="#000" stroke-width="1.3"/>
<line x1="1344.4" y1="1758.78" x2="1348.7" y2="1758.78" stroke="#000" stroke-width="1.3"/>
<line x1="1344.4" y1="1780.22" x2="1348.7" y2="1780.22" stroke="#000" stroke-width="1.3"/>
<line x1="1344.4" y1="1801.66" x2="1348.7" y2="1801.66" stroke="#000" stroke-width="1.3"/>
<line x1="1344.4" y1="1823.1" x2="1348.7" y2="1823.1" stroke="#000" stroke-width="1.3"/>
<line x1="1344.4" y1="1844.54" x2="1348.7" y2="1844.54" stroke="#000" stroke-width="1.3"/>
<line x1="1344.4" y1="1865.98" x2="1348.7" y2="1865.98" stroke="#000" stroke-width="1.3"/>
<line x1="1348.7" y1="1879.5" x2="1348.7" y2="1883.1" stroke="#000" stroke-width="1.3"/>
<line x1="1385.94" y1="1879.5" x2="1385.94" y2="1883.1" stroke="#000" stroke-width="1.3"/>
<line x1="1423.18" y1="1879.5" x2="1423.18" y2="1883.1" stroke="#000" stroke-width="1.3"/>
<line x1="1460.42" y1="1879.5" x2="1460.42" y2="1883.1" stroke="#000" stroke-width="1.3"/>
<line x1="1497.66" y1="1879.5" x2="1497.66" y2="1883.1" stroke="#000" stroke-width="1.3"/>
<line x1="1534.9" y1="1879.5" x2="1534.9" y2="1883.1" stroke="#000" stroke-width="1.3"/>
<path d="M1348.7 1379.5 V1879.5 H1535.5" fill="none" stroke="#000" stroke-width="1.7"/>
<text font-size="16.5" transform="translate(1348.7 1901.8) scale(1.1100 1)" text-anchor="middle" font-weight="bold">0</text>
<text font-size="16.5" transform="translate(1385.94 1901.8) scale(1.1100 1)" text-anchor="middle" font-weight="bold">1</text>
<text font-size="16.5" transform="translate(1423.18 1901.8) scale(1.1100 1)" text-anchor="middle" font-weight="bold">2</text>
<text font-size="16.5" transform="translate(1460.42 1901.8) scale(1.1100 1)" text-anchor="middle" font-weight="bold">3</text>
<text font-size="16.5" transform="translate(1497.66 1901.8) scale(1.1100 1)" text-anchor="middle" font-weight="bold">4</text>
<text font-size="16.5" transform="translate(1534.9 1901.8) scale(1.1100 1)" text-anchor="middle" font-weight="bold">5</text>
<circle cx="1348.7" cy="1388.4" r="1.3" fill="#000" stroke="#111" stroke-width="0.8"/>
<circle cx="1348.7" cy="1394.3" r="1.3" fill="#000" stroke="#111" stroke-width="0.8"/>
<circle cx="1348.7" cy="1400.2" r="1.3" fill="#000" stroke="#111" stroke-width="0.8"/>
<circle cx="1351.9" cy="1409.84" r="1.3" fill="none" stroke="#111" stroke-width="0.95"/>
<circle cx="1351.9" cy="1415.74" r="1.3" fill="none" stroke="#111" stroke-width="0.95"/>
<circle cx="1351.9" cy="1421.64" r="1.3" fill="none" stroke="#111" stroke-width="0.95"/>
<circle cx="1351.9" cy="1431.28" r="1.3" fill="none" stroke="#111" stroke-width="0.95"/>
<circle cx="1351.9" cy="1437.18" r="1.3" fill="none" stroke="#111" stroke-width="0.95"/>
<circle cx="1351.9" cy="1443.08" r="1.3" fill="none" stroke="#111" stroke-width="0.95"/>
<circle cx="1351.9" cy="1452.72" r="1.3" fill="none" stroke="#111" stroke-width="0.95"/>
<circle cx="1351.9" cy="1458.62" r="1.3" fill="none" stroke="#111" stroke-width="0.95"/>
<circle cx="1351.9" cy="1464.52" r="1.3" fill="none" stroke="#111" stroke-width="0.95"/>
<circle cx="1351.9" cy="1474.16" r="1.3" fill="none" stroke="#111" stroke-width="0.95"/>
<circle cx="1351.9" cy="1480.06" r="1.3" fill="none" stroke="#111" stroke-width="0.95"/>
<circle cx="1351.9" cy="1485.96" r="1.3" fill="none" stroke="#111" stroke-width="0.95"/>
<line x1="1351.7" y1="1501.5" x2="1357.2" y2="1501.5" stroke="#000" stroke-width="1.1"/>
<line x1="1351.7" y1="1499" x2="1351.7" y2="1504" stroke="#000" stroke-width="1.1"/>
<line x1="1357.2" y1="1499" x2="1357.2" y2="1504" stroke="#000" stroke-width="1.1"/>
<circle cx="1353.45" cy="1498.9" r="1.3" fill="none" stroke="#111" stroke-width="0.95"/>
<circle cx="1355.45" cy="1501.5" r="1.3" fill="none" stroke="#111" stroke-width="0.95"/>
<circle cx="1354.45" cy="1504.1" r="1.3" fill="none" stroke="#111" stroke-width="0.95"/>
<line x1="1386.7" y1="1522.94" x2="1447.4" y2="1522.94" stroke="#000" stroke-width="1.3"/>
<line x1="1386.7" y1="1520.44" x2="1386.7" y2="1525.44" stroke="#000" stroke-width="1.3"/>
<line x1="1447.4" y1="1520.44" x2="1447.4" y2="1525.44" stroke="#000" stroke-width="1.3"/>
<circle cx="1383.7" cy="1522.94" r="1.3" fill="none" stroke="#111" stroke-width="0.95"/>
<circle cx="1433.2" cy="1520.94" r="1.3" fill="none" stroke="#111" stroke-width="0.95"/>
<circle cx="1434.2" cy="1524.94" r="1.3" fill="none" stroke="#111" stroke-width="0.95"/>
<circle cx="1351.9" cy="1538.48" r="1.3" fill="none" stroke="#111" stroke-width="0.95"/>
<circle cx="1351.9" cy="1544.38" r="1.3" fill="none" stroke="#111" stroke-width="0.95"/>
<circle cx="1351.9" cy="1550.28" r="1.3" fill="none" stroke="#111" stroke-width="0.95"/>
<circle cx="1351.9" cy="1559.92" r="1.3" fill="none" stroke="#111" stroke-width="0.95"/>
<circle cx="1351.9" cy="1565.82" r="1.3" fill="none" stroke="#111" stroke-width="0.95"/>
<circle cx="1351.9" cy="1571.72" r="1.3" fill="none" stroke="#111" stroke-width="0.95"/>
<circle cx="1351.9" cy="1581.36" r="1.3" fill="none" stroke="#111" stroke-width="0.95"/>
<circle cx="1351.9" cy="1587.26" r="1.3" fill="none" stroke="#111" stroke-width="0.95"/>
<circle cx="1351.9" cy="1593.16" r="1.3" fill="none" stroke="#111" stroke-width="0.95"/>
<circle cx="1351.9" cy="1602.8" r="1.3" fill="none" stroke="#111" stroke-width="0.95"/>
<circle cx="1351.9" cy="1608.7" r="1.3" fill="none" stroke="#111" stroke-width="0.95"/>
<circle cx="1351.9" cy="1614.6" r="1.3" fill="none" stroke="#111" stroke-width="0.95"/>
<circle cx="1351.9" cy="1624.24" r="1.3" fill="none" stroke="#111" stroke-width="0.95"/>
<circle cx="1351.9" cy="1630.14" r="1.3" fill="none" stroke="#111" stroke-width="0.95"/>
<circle cx="1351.9" cy="1636.04" r="1.3" fill="none" stroke="#111" stroke-width="0.95"/>
<line x1="1355.7" y1="1651.58" x2="1360.7" y2="1651.58" stroke="#000" stroke-width="1.1"/>
<line x1="1355.7" y1="1649.08" x2="1355.7" y2="1654.08" stroke="#000" stroke-width="1.1"/>
<line x1="1360.7" y1="1649.08" x2="1360.7" y2="1654.08" stroke="#000" stroke-width="1.1"/>
<circle cx="1357.2" cy="1648.98" r="1.3" fill="none" stroke="#111" stroke-width="0.95"/>
<circle cx="1359.2" cy="1651.58" r="1.3" fill="none" stroke="#111" stroke-width="0.95"/>
<circle cx="1358.2" cy="1654.18" r="1.3" fill="none" stroke="#111" stroke-width="0.95"/>
<circle cx="1351.9" cy="1667.12" r="1.3" fill="none" stroke="#111" stroke-width="0.95"/>
<circle cx="1351.9" cy="1673.02" r="1.3" fill="none" stroke="#111" stroke-width="0.95"/>
<circle cx="1351.9" cy="1678.92" r="1.3" fill="none" stroke="#111" stroke-width="0.95"/>
<circle cx="1351.9" cy="1688.56" r="1.3" fill="none" stroke="#111" stroke-width="0.95"/>
<circle cx="1351.9" cy="1694.46" r="1.3" fill="none" stroke="#111" stroke-width="0.95"/>
<circle cx="1351.9" cy="1700.36" r="1.3" fill="none" stroke="#111" stroke-width="0.95"/>
<line x1="1351.7" y1="1715.9" x2="1357.2" y2="1715.9" stroke="#000" stroke-width="1.1"/>
<line x1="1351.7" y1="1713.4" x2="1351.7" y2="1718.4" stroke="#000" stroke-width="1.1"/>
<line x1="1357.2" y1="1713.4" x2="1357.2" y2="1718.4" stroke="#000" stroke-width="1.1"/>
<circle cx="1353.45" cy="1713.3" r="1.3" fill="none" stroke="#111" stroke-width="0.95"/>
<circle cx="1355.45" cy="1715.9" r="1.3" fill="none" stroke="#111" stroke-width="0.95"/>
<circle cx="1354.45" cy="1718.5" r="1.3" fill="none" stroke="#111" stroke-width="0.95"/>
<circle cx="1351.9" cy="1731.44" r="1.3" fill="none" stroke="#111" stroke-width="0.95"/>
<circle cx="1351.9" cy="1737.34" r="1.3" fill="none" stroke="#111" stroke-width="0.95"/>
<circle cx="1351.9" cy="1743.24" r="1.3" fill="none" stroke="#111" stroke-width="0.95"/>
<line x1="1351.7" y1="1758.78" x2="1357.2" y2="1758.78" stroke="#000" stroke-width="1.1"/>
<line x1="1351.7" y1="1756.28" x2="1351.7" y2="1761.28" stroke="#000" stroke-width="1.1"/>
<line x1="1357.2" y1="1756.28" x2="1357.2" y2="1761.28" stroke="#000" stroke-width="1.1"/>
<circle cx="1353.45" cy="1756.18" r="1.3" fill="none" stroke="#111" stroke-width="0.95"/>
<circle cx="1355.45" cy="1758.78" r="1.3" fill="none" stroke="#111" stroke-width="0.95"/>
<circle cx="1354.45" cy="1761.38" r="1.3" fill="none" stroke="#111" stroke-width="0.95"/>
<circle cx="1351.9" cy="1774.32" r="1.3" fill="none" stroke="#111" stroke-width="0.95"/>
<circle cx="1351.9" cy="1780.22" r="1.3" fill="none" stroke="#111" stroke-width="0.95"/>
<circle cx="1351.9" cy="1786.12" r="1.3" fill="none" stroke="#111" stroke-width="0.95"/>
<line x1="1351.7" y1="1801.66" x2="1357.2" y2="1801.66" stroke="#000" stroke-width="1.1"/>
<line x1="1351.7" y1="1799.16" x2="1351.7" y2="1804.16" stroke="#000" stroke-width="1.1"/>
<line x1="1357.2" y1="1799.16" x2="1357.2" y2="1804.16" stroke="#000" stroke-width="1.1"/>
<circle cx="1353.45" cy="1799.06" r="1.3" fill="none" stroke="#111" stroke-width="0.95"/>
<circle cx="1355.45" cy="1801.66" r="1.3" fill="none" stroke="#111" stroke-width="0.95"/>
<circle cx="1354.45" cy="1804.26" r="1.3" fill="none" stroke="#111" stroke-width="0.95"/>
<circle cx="1370.9" cy="1817.2" r="1.3" fill="none" stroke="#111" stroke-width="0.95"/>
<circle cx="1370.9" cy="1823.1" r="1.3" fill="none" stroke="#111" stroke-width="0.95"/>
<circle cx="1370.9" cy="1829" r="1.3" fill="none" stroke="#111" stroke-width="0.95"/>
<circle cx="1351.9" cy="1838.64" r="1.3" fill="none" stroke="#111" stroke-width="0.95"/>
<circle cx="1351.9" cy="1844.54" r="1.3" fill="none" stroke="#111" stroke-width="0.95"/>
<circle cx="1351.9" cy="1850.44" r="1.3" fill="none" stroke="#111" stroke-width="0.95"/>
<line x1="1420.4" y1="1865.98" x2="1441.1" y2="1865.98" stroke="#000" stroke-width="1.3"/>
<line x1="1420.4" y1="1863.48" x2="1420.4" y2="1868.48" stroke="#000" stroke-width="1.3"/>
<line x1="1441.1" y1="1863.48" x2="1441.1" y2="1868.48" stroke="#000" stroke-width="1.3"/>
<circle cx="1417.4" cy="1865.98" r="1.3" fill="none" stroke="#111" stroke-width="0.95"/>
<circle cx="1436.9" cy="1863.98" r="1.3" fill="none" stroke="#111" stroke-width="0.95"/>
<circle cx="1437.9" cy="1867.98" r="1.3" fill="none" stroke="#111" stroke-width="0.95"/>
<!-- panel e -->
<text x="-1" y="2032.2" font-size="50" font-weight="bold">e</text>
<text font-size="42.5" transform="translate(508.2 2026.2) scale(0.9840 1)">ABE site27</text>
<text font-size="42.5" transform="translate(751.2 2026.2) scale(0.9840 1)"><tspan fill="#000" dy="0">CGGG</tspan><tspan fill="#10bc7c" dy="0">C</tspan><tspan fill="#10bc7c" font-size="31.3" dy="8">5</tspan><tspan fill="#ff8080" dy="-8">A</tspan><tspan fill="#ff8080" font-size="31.3" dy="8">6</tspan><tspan fill="#000" dy="-8">TC</tspan><tspan fill="#ff8080" dy="0">A</tspan><tspan fill="#ff8080" font-size="31.3" dy="8">9</tspan><tspan fill="#000" dy="-8">G</tspan><tspan fill="#ff8080" dy="0">A</tspan><tspan fill="#ff8080" font-size="31.3" dy="8">11</tspan><tspan fill="#ff8080" dy="-8">A</tspan><tspan fill="#ff8080" font-size="31.3" dy="8">12</tspan><tspan fill="#000" dy="-8">TTCCCTGG</tspan><tspan fill="#99c4f8" dy="0">AGG</tspan></text>
<rect x="565.2" y="2066" width="40.8" height="20.8" fill="#bfe3b0"/>
<text font-size="30.5" transform="translate(628.9 2086.7) scale(1.0000 1)">A&gt;G</text>
<rect x="851.1" y="2066" width="40.4" height="20.8" fill="#4b94c9"/>
<text font-size="30.5" transform="translate(915.2 2086.7) scale(1.0000 1)">C&gt;T</text>
<rect x="1129.1" y="2066" width="40.7" height="20.8" fill="#e8c832"/>
<text font-size="30.5" transform="translate(1193.5 2086.7) scale(1.0000 1)">C&gt;G</text>
<rect x="1408.3" y="2066" width="40.7" height="20.8" fill="#8f8ffc"/>
<text font-size="30.5" transform="translate(1473.1 2086.7) scale(1.0000 1)">C&gt;A</text>
<text font-size="29.5" transform="translate(628.7 2155.8) scale(1.0000 1)" text-anchor="middle" font-weight="bold"><tspan>C</tspan><tspan font-size="21.5" dy="5.8">5</tspan></text>
<text font-size="29.5" transform="translate(840.5 2155.8) scale(1.0000 1)" text-anchor="middle" font-weight="bold"><tspan>A</tspan><tspan font-size="21.5" dy="5.8">6</tspan></text>
<text font-size="29.5" transform="translate(1060.3 2155.8) scale(1.0000 1)" text-anchor="middle" font-weight="bold"><tspan>A</tspan><tspan font-size="21.5" dy="5.8">9</tspan></text>
<text font-size="29.5" transform="translate(1270.9 2155.8) scale(1.0000 1)" text-anchor="middle" font-weight="bold"><tspan>A</tspan><tspan font-size="21.5" dy="5.8">11</tspan></text>
<text font-size="29.5" transform="translate(1480.2 2155.8) scale(1.0000 1)" text-anchor="middle" font-weight="bold"><tspan>A</tspan><tspan font-size="21.5" dy="5.8">12</tspan></text>
<text x="121.3" y="2268.7" font-size="31.5" text-anchor="middle" textLength="128.6" lengthAdjust="spacingAndGlyphs" transform="rotate(-90 121.3 2268.7)">A-to-G or</text>
<text x="157.2" y="2268.7" font-size="31.5" text-anchor="middle" textLength="286.6" lengthAdjust="spacingAndGlyphs" transform="rotate(-90 157.2 2268.7)">C-to D(D=A/T/G)(%)</text>
<rect x="539" y="2208.45" width="1.2" height="22.3" fill="#4b94c9"/>
<rect x="559.3" y="2242.44" width="1.8" height="22.3" fill="#e8c832"/>
<rect x="543.8" y="2242.44" width="15.7" height="22.3" fill="#4b94c9"/>
<rect x="539.2" y="2242.44" width="4.8" height="22.3" fill="#8f8ffc"/>
<rect x="572.5" y="2276.43" width="5.3" height="22.3" fill="#e8c832"/>
<rect x="545" y="2276.43" width="27.7" height="22.3" fill="#4b94c9"/>
<rect x="539.2" y="2276.43" width="6" height="22.3" fill="#8f8ffc"/>
<rect x="568.8" y="2310.42" width="5.3" height="22.3" fill="#e8c832"/>
<rect x="546.6" y="2310.42" width="22.4" height="22.3" fill="#4b94c9"/>
<rect x="539.2" y="2310.42" width="7.6" height="22.3" fill="#8f8ffc"/>
<rect x="556.1" y="2344.41" width="3.7" height="22.3" fill="#e8c832"/>
<rect x="545.8" y="2344.41" width="10.5" height="22.3" fill="#4b94c9"/>
<rect x="539.2" y="2344.41" width="6.8" height="22.3" fill="#8f8ffc"/>
<rect x="564.6" y="2378.4" width="1.4" height="22.3" fill="#e8c832"/>
<rect x="547.9" y="2378.4" width="16.9" height="22.3" fill="#4b94c9"/>
<rect x="539.2" y="2378.4" width="8.9" height="22.3" fill="#8f8ffc"/>
<rect x="582.3" y="2412.39" width="9.4" height="22.3" fill="#e8c832"/>
<rect x="550.6" y="2412.39" width="31.9" height="22.3" fill="#4b94c9"/>
<rect x="539.2" y="2412.39" width="11.6" height="22.3" fill="#8f8ffc"/>
<rect x="558.5" y="2446.38" width="1.2" height="22.3" fill="#e8c832"/>
<rect x="543.8" y="2446.38" width="14.9" height="22.3" fill="#4b94c9"/>
<rect x="539.2" y="2446.38" width="4.8" height="22.3" fill="#8f8ffc"/>
<rect x="640.6" y="2480.37" width="9.4" height="22.3" fill="#e8c832"/>
<rect x="573.6" y="2480.37" width="67.2" height="22.3" fill="#4b94c9"/>
<rect x="539.2" y="2480.37" width="34.6" height="22.3" fill="#8f8ffc"/>
<line x1="534.7" y1="2219.6" x2="539.2" y2="2219.6" stroke="#000" stroke-width="1.3"/>
<line x1="534.7" y1="2253.59" x2="539.2" y2="2253.59" stroke="#000" stroke-width="1.3"/>
<line x1="534.7" y1="2287.58" x2="539.2" y2="2287.58" stroke="#000" stroke-width="1.3"/>
<line x1="534.7" y1="2321.57" x2="539.2" y2="2321.57" stroke="#000" stroke-width="1.3"/>
<line x1="534.7" y1="2355.56" x2="539.2" y2="2355.56" stroke="#000" stroke-width="1.3"/>
<line x1="534.7" y1="2389.55" x2="539.2" y2="2389.55" stroke="#000" stroke-width="1.3"/>
<line x1="534.7" y1="2423.54" x2="539.2" y2="2423.54" stroke="#000" stroke-width="1.3"/>
<line x1="534.7" y1="2457.53" x2="539.2" y2="2457.53" stroke="#000" stroke-width="1.3"/>
<line x1="534.7" y1="2491.52" x2="539.2" y2="2491.52" stroke="#000" stroke-width="1.3"/>
<line x1="539.2" y1="2514.2" x2="539.2" y2="2517.8" stroke="#000" stroke-width="1.3"/>
<line x1="584.08" y1="2514.2" x2="584.08" y2="2517.8" stroke="#000" stroke-width="1.3"/>
<line x1="628.96" y1="2514.2" x2="628.96" y2="2517.8" stroke="#000" stroke-width="1.3"/>
<line x1="673.84" y1="2514.2" x2="673.84" y2="2517.8" stroke="#000" stroke-width="1.3"/>
<line x1="718.72" y1="2514.2" x2="718.72" y2="2517.8" stroke="#000" stroke-width="1.3"/>
<path d="M539.2 2196.3 V2514.2 H719.3" fill="none" stroke="#000" stroke-width="1.7"/>
<text font-size="16.5" transform="translate(539.2 2536.5) scale(1.0500 1)" text-anchor="middle" font-weight="bold">0</text>
<text font-size="16.5" transform="translate(584.08 2536.5) scale(1.0500 1)" text-anchor="middle" font-weight="bold">2</text>
<text font-size="16.5" transform="translate(628.96 2536.5) scale(1.0500 1)" text-anchor="middle" font-weight="bold">4</text>
<text font-size="16.5" transform="translate(673.84 2536.5) scale(1.0500 1)" text-anchor="middle" font-weight="bold">6</text>
<text font-size="16.5" transform="translate(718.72 2536.5) scale(1.0500 1)" text-anchor="middle" font-weight="bold">8</text>
<line x1="539.8" y1="2219.6" x2="542.7" y2="2219.6" stroke="#000" stroke-width="1.1"/>
<line x1="539.8" y1="2216.1" x2="539.8" y2="2223.1" stroke="#000" stroke-width="1.1"/>
<line x1="542.7" y1="2216.1" x2="542.7" y2="2223.1" stroke="#000" stroke-width="1.1"/>
<circle cx="540.7" cy="2219.6" r="1.4" fill="#000" stroke="#111" stroke-width="0.8"/>
<line x1="540" y1="2253.59" x2="543.58" y2="2253.59" stroke="#000" stroke-width="1.1"/>
<line x1="540" y1="2250.09" x2="540" y2="2257.09" stroke="#000" stroke-width="1.1"/>
<line x1="543.58" y1="2250.09" x2="543.58" y2="2257.09" stroke="#000" stroke-width="1.1"/>
<circle cx="540.64" cy="2253.59" r="1.1" fill="#000" stroke="#111" stroke-width="0.8"/>
<circle cx="542.08" cy="2253.59" r="1.1" fill="none" stroke="#111" stroke-width="0.95"/>
<line x1="550.37" y1="2253.59" x2="555.03" y2="2253.59" stroke="#000" stroke-width="1.1"/>
<line x1="550.37" y1="2250.09" x2="550.37" y2="2257.09" stroke="#000" stroke-width="1.1"/>
<line x1="555.03" y1="2250.09" x2="555.03" y2="2257.09" stroke="#000" stroke-width="1.1"/>
<circle cx="551.38" cy="2253.59" r="1.1" fill="none" stroke="#111" stroke-width="0.95"/>
<circle cx="553.41" cy="2253.59" r="1.1" fill="none" stroke="#111" stroke-width="0.95"/>
<line x1="552.6" y1="2250.09" x2="552.6" y2="2257.09" stroke="#000" stroke-width="1.1"/>
<line x1="556.72" y1="2253.59" x2="564.2" y2="2253.59" stroke="#000" stroke-width="1.1"/>
<line x1="556.72" y1="2250.09" x2="556.72" y2="2257.09" stroke="#000" stroke-width="1.1"/>
<line x1="564.2" y1="2250.09" x2="564.2" y2="2257.09" stroke="#000" stroke-width="1.1"/>
<line x1="560.6" y1="2250.09" x2="560.6" y2="2257.09" stroke="#000" stroke-width="1.1"/>
<line x1="540" y1="2287.58" x2="544.3" y2="2287.58" stroke="#000" stroke-width="1.1"/>
<line x1="540" y1="2284.08" x2="540" y2="2291.08" stroke="#000" stroke-width="1.1"/>
<line x1="544.3" y1="2284.08" x2="544.3" y2="2291.08" stroke="#000" stroke-width="1.1"/>
<circle cx="541" cy="2287.58" r="1.1" fill="#000" stroke="#111" stroke-width="0.8"/>
<circle cx="542.8" cy="2287.58" r="1.1" fill="none" stroke="#111" stroke-width="0.95"/>
<line x1="557.62" y1="2287.58" x2="565.33" y2="2287.58" stroke="#000" stroke-width="1.1"/>
<line x1="557.62" y1="2284.08" x2="557.62" y2="2291.08" stroke="#000" stroke-width="1.1"/>
<line x1="565.33" y1="2284.08" x2="565.33" y2="2291.08" stroke="#000" stroke-width="1.1"/>
<circle cx="559.3" cy="2287.58" r="1.1" fill="none" stroke="#111" stroke-width="0.95"/>
<circle cx="562.65" cy="2287.58" r="1.1" fill="none" stroke="#111" stroke-width="0.95"/>
<line x1="561.31" y1="2284.08" x2="561.31" y2="2291.08" stroke="#000" stroke-width="1.1"/>
<line x1="570.08" y1="2287.58" x2="579.8" y2="2287.58" stroke="#000" stroke-width="1.1"/>
<line x1="570.08" y1="2284.08" x2="570.08" y2="2291.08" stroke="#000" stroke-width="1.1"/>
<line x1="579.8" y1="2284.08" x2="579.8" y2="2291.08" stroke="#000" stroke-width="1.1"/>
<line x1="577.3" y1="2284.08" x2="577.3" y2="2291.08" stroke="#000" stroke-width="1.1"/>
<line x1="540" y1="2321.57" x2="545.26" y2="2321.57" stroke="#000" stroke-width="1.1"/>
<line x1="540" y1="2318.07" x2="540" y2="2325.07" stroke="#000" stroke-width="1.1"/>
<line x1="545.26" y1="2318.07" x2="545.26" y2="2325.07" stroke="#000" stroke-width="1.1"/>
<circle cx="541.48" cy="2321.57" r="1.1" fill="#000" stroke="#111" stroke-width="0.8"/>
<circle cx="543.76" cy="2321.57" r="1.1" fill="none" stroke="#111" stroke-width="0.95"/>
<line x1="555.59" y1="2321.57" x2="562.44" y2="2321.57" stroke="#000" stroke-width="1.1"/>
<line x1="555.59" y1="2318.07" x2="555.59" y2="2325.07" stroke="#000" stroke-width="1.1"/>
<line x1="562.44" y1="2318.07" x2="562.44" y2="2325.07" stroke="#000" stroke-width="1.1"/>
<circle cx="557.08" cy="2321.57" r="1.1" fill="none" stroke="#111" stroke-width="0.95"/>
<circle cx="560.06" cy="2321.57" r="1.1" fill="none" stroke="#111" stroke-width="0.95"/>
<line x1="558.87" y1="2318.07" x2="558.87" y2="2325.07" stroke="#000" stroke-width="1.1"/>
<line x1="567.12" y1="2321.57" x2="577.2" y2="2321.57" stroke="#000" stroke-width="1.1"/>
<line x1="567.12" y1="2318.07" x2="567.12" y2="2325.07" stroke="#000" stroke-width="1.1"/>
<line x1="577.2" y1="2318.07" x2="577.2" y2="2325.07" stroke="#000" stroke-width="1.1"/>
<line x1="573.6" y1="2318.07" x2="573.6" y2="2325.07" stroke="#000" stroke-width="1.1"/>
<line x1="540" y1="2355.56" x2="544.78" y2="2355.56" stroke="#000" stroke-width="1.1"/>
<line x1="540" y1="2352.06" x2="540" y2="2359.06" stroke="#000" stroke-width="1.1"/>
<line x1="544.78" y1="2352.06" x2="544.78" y2="2359.06" stroke="#000" stroke-width="1.1"/>
<circle cx="541.24" cy="2355.56" r="1.1" fill="#000" stroke="#111" stroke-width="0.8"/>
<circle cx="543.28" cy="2355.56" r="1.1" fill="none" stroke="#111" stroke-width="0.95"/>
<line x1="555.68" y1="2355.56" x2="560.7" y2="2355.56" stroke="#000" stroke-width="1.1"/>
<line x1="555.68" y1="2352.06" x2="555.68" y2="2359.06" stroke="#000" stroke-width="1.1"/>
<line x1="560.7" y1="2352.06" x2="560.7" y2="2359.06" stroke="#000" stroke-width="1.1"/>
<line x1="559.3" y1="2352.06" x2="559.3" y2="2359.06" stroke="#000" stroke-width="1.1"/>
<line x1="540" y1="2389.55" x2="546.04" y2="2389.55" stroke="#000" stroke-width="1.1"/>
<line x1="540" y1="2386.05" x2="540" y2="2393.05" stroke="#000" stroke-width="1.1"/>
<line x1="546.04" y1="2386.05" x2="546.04" y2="2393.05" stroke="#000" stroke-width="1.1"/>
<circle cx="541.87" cy="2389.55" r="1.1" fill="#000" stroke="#111" stroke-width="0.8"/>
<circle cx="544.54" cy="2389.55" r="1.1" fill="none" stroke="#111" stroke-width="0.95"/>
<line x1="553.28" y1="2389.55" x2="559.17" y2="2389.55" stroke="#000" stroke-width="1.1"/>
<line x1="553.28" y1="2386.05" x2="553.28" y2="2393.05" stroke="#000" stroke-width="1.1"/>
<line x1="559.17" y1="2386.05" x2="559.17" y2="2393.05" stroke="#000" stroke-width="1.1"/>
<circle cx="554.56" cy="2389.55" r="1.1" fill="none" stroke="#111" stroke-width="0.95"/>
<circle cx="557.12" cy="2389.55" r="1.1" fill="none" stroke="#111" stroke-width="0.95"/>
<line x1="556.1" y1="2386.05" x2="556.1" y2="2393.05" stroke="#000" stroke-width="1.1"/>
<line x1="560.64" y1="2389.55" x2="569.4" y2="2389.55" stroke="#000" stroke-width="1.1"/>
<line x1="560.64" y1="2386.05" x2="560.64" y2="2393.05" stroke="#000" stroke-width="1.1"/>
<line x1="569.4" y1="2386.05" x2="569.4" y2="2393.05" stroke="#000" stroke-width="1.1"/>
<line x1="565.5" y1="2386.05" x2="565.5" y2="2393.05" stroke="#000" stroke-width="1.1"/>
<line x1="541.6" y1="2423.54" x2="547.6" y2="2423.54" stroke="#000" stroke-width="1.1"/>
<line x1="541.6" y1="2420.04" x2="541.6" y2="2427.04" stroke="#000" stroke-width="1.1"/>
<line x1="547.6" y1="2420.04" x2="547.6" y2="2427.04" stroke="#000" stroke-width="1.1"/>
<circle cx="541.6" cy="2423.54" r="1.1" fill="none" stroke="#111" stroke-width="0.95"/>
<line x1="547.6" y1="2423.54" x2="554.8" y2="2423.54" stroke="#000" stroke-width="1.1"/>
<line x1="547.6" y1="2420.04" x2="547.6" y2="2427.04" stroke="#000" stroke-width="1.1"/>
<line x1="554.8" y1="2420.04" x2="554.8" y2="2427.04" stroke="#000" stroke-width="1.1"/>
<circle cx="549.7" cy="2423.54" r="1.1" fill="none" stroke="#111" stroke-width="0.95"/>
<circle cx="551.7" cy="2423.54" r="1.1" fill="none" stroke="#111" stroke-width="0.95"/>
<line x1="552.7" y1="2420.04" x2="552.7" y2="2427.04" stroke="#000" stroke-width="1.1"/>
<line x1="567.5" y1="2423.54" x2="574.6" y2="2423.54" stroke="#000" stroke-width="1.1"/>
<line x1="567.5" y1="2420.04" x2="567.5" y2="2427.04" stroke="#000" stroke-width="1.1"/>
<line x1="574.6" y1="2420.04" x2="574.6" y2="2427.04" stroke="#000" stroke-width="1.1"/>
<circle cx="568.7" cy="2423.54" r="1.1" fill="none" stroke="#111" stroke-width="0.95"/>
<circle cx="570.7" cy="2423.54" r="1.1" fill="none" stroke="#111" stroke-width="0.95"/>
<circle cx="575.4" cy="2423.54" r="1.1" fill="none" stroke="#111" stroke-width="0.95"/>
<line x1="578.6" y1="2420.04" x2="578.6" y2="2427.04" stroke="#000" stroke-width="1.1"/>
<line x1="579.4" y1="2423.54" x2="597.6" y2="2423.54" stroke="#000" stroke-width="1.1"/>
<line x1="579.4" y1="2420.04" x2="579.4" y2="2427.04" stroke="#000" stroke-width="1.1"/>
<line x1="597.6" y1="2420.04" x2="597.6" y2="2427.04" stroke="#000" stroke-width="1.1"/>
<line x1="585.7" y1="2420.04" x2="585.7" y2="2427.04" stroke="#000" stroke-width="1.1"/>
<line x1="540" y1="2457.53" x2="543.58" y2="2457.53" stroke="#000" stroke-width="1.1"/>
<line x1="540" y1="2454.03" x2="540" y2="2461.03" stroke="#000" stroke-width="1.1"/>
<line x1="543.58" y1="2454.03" x2="543.58" y2="2461.03" stroke="#000" stroke-width="1.1"/>
<circle cx="540.64" cy="2457.53" r="1.1" fill="#000" stroke="#111" stroke-width="0.8"/>
<circle cx="542.08" cy="2457.53" r="1.1" fill="none" stroke="#111" stroke-width="0.95"/>
<line x1="549.93" y1="2457.53" x2="554.41" y2="2457.53" stroke="#000" stroke-width="1.1"/>
<line x1="549.93" y1="2454.03" x2="549.93" y2="2461.03" stroke="#000" stroke-width="1.1"/>
<line x1="554.41" y1="2454.03" x2="554.41" y2="2461.03" stroke="#000" stroke-width="1.1"/>
<circle cx="550.9" cy="2457.53" r="1.1" fill="none" stroke="#111" stroke-width="0.95"/>
<circle cx="552.85" cy="2457.53" r="1.1" fill="none" stroke="#111" stroke-width="0.95"/>
<line x1="552.07" y1="2454.03" x2="552.07" y2="2461.03" stroke="#000" stroke-width="1.1"/>
<line x1="555.6" y1="2457.53" x2="560.7" y2="2457.53" stroke="#000" stroke-width="1.1"/>
<line x1="555.6" y1="2454.03" x2="555.6" y2="2461.03" stroke="#000" stroke-width="1.1"/>
<line x1="560.7" y1="2454.03" x2="560.7" y2="2461.03" stroke="#000" stroke-width="1.1"/>
<line x1="559.2" y1="2454.03" x2="559.2" y2="2461.03" stroke="#000" stroke-width="1.1"/>
<line x1="545.2" y1="2491.52" x2="550.8" y2="2491.52" stroke="#000" stroke-width="1.1"/>
<line x1="545.2" y1="2488.02" x2="545.2" y2="2495.02" stroke="#000" stroke-width="1.1"/>
<line x1="550.8" y1="2488.02" x2="550.8" y2="2495.02" stroke="#000" stroke-width="1.1"/>
<circle cx="546.8" cy="2491.52" r="1.1" fill="none" stroke="#111" stroke-width="0.95"/>
<circle cx="549.2" cy="2491.52" r="1.1" fill="none" stroke="#111" stroke-width="0.95"/>
<line x1="569.8" y1="2491.52" x2="577.8" y2="2491.52" stroke="#000" stroke-width="1.1"/>
<line x1="569.8" y1="2488.02" x2="569.8" y2="2495.02" stroke="#000" stroke-width="1.1"/>
<line x1="577.8" y1="2488.02" x2="577.8" y2="2495.02" stroke="#000" stroke-width="1.1"/>
<circle cx="572.2" cy="2491.52" r="1.1" fill="none" stroke="#111" stroke-width="0.95"/>
<circle cx="574.6" cy="2491.52" r="1.1" fill="none" stroke="#111" stroke-width="0.95"/>
<circle cx="576.2" cy="2491.52" r="1.1" fill="none" stroke="#111" stroke-width="0.95"/>
<line x1="575.2" y1="2488.02" x2="575.2" y2="2495.02" stroke="#000" stroke-width="1.1"/>
<line x1="596.5" y1="2491.52" x2="616.7" y2="2491.52" stroke="#000" stroke-width="1.1"/>
<line x1="596.5" y1="2488.02" x2="596.5" y2="2495.02" stroke="#000" stroke-width="1.1"/>
<line x1="616.7" y1="2488.02" x2="616.7" y2="2495.02" stroke="#000" stroke-width="1.1"/>
<circle cx="598.7" cy="2491.52" r="1.1" fill="none" stroke="#111" stroke-width="0.95"/>
<circle cx="600.7" cy="2491.52" r="1.1" fill="none" stroke="#111" stroke-width="0.95"/>
<circle cx="602.7" cy="2491.52" r="1.1" fill="none" stroke="#111" stroke-width="0.95"/>
<circle cx="617.5" cy="2491.52" r="1.1" fill="none" stroke="#111" stroke-width="0.95"/>
<line x1="630.9" y1="2491.52" x2="647.6" y2="2491.52" stroke="#000" stroke-width="1.1"/>
<line x1="630.9" y1="2488.02" x2="630.9" y2="2495.02" stroke="#000" stroke-width="1.1"/>
<line x1="647.6" y1="2488.02" x2="647.6" y2="2495.02" stroke="#000" stroke-width="1.1"/>
<line x1="647.6" y1="2491.52" x2="652.4" y2="2491.52" stroke="#000" stroke-width="1.1"/>
<line x1="647.6" y1="2488.02" x2="647.6" y2="2495.02" stroke="#000" stroke-width="1.1"/>
<line x1="652.4" y1="2488.02" x2="652.4" y2="2495.02" stroke="#000" stroke-width="1.1"/>
<line x1="651.2" y1="2488.02" x2="651.2" y2="2495.02" stroke="#000" stroke-width="1.1"/>
<text font-size="23" transform="translate(534.4 2228.7) scale(1.0210 1)" text-anchor="end" font-weight="bold">Untreated</text>
<text font-size="23" transform="translate(534.4 2262.69) scale(1.0210 1)" text-anchor="end" font-weight="bold">ABE8e Δ158-167+147-152-NL</text>
<text font-size="23" transform="translate(534.4 2296.68) scale(1.0210 1)" text-anchor="end" font-weight="bold">ABE8e Δ2-8+158-167-NL</text>
<text font-size="23" transform="translate(534.4 2330.67) scale(1.0210 1)" text-anchor="end" font-weight="bold">ABE8e Δ2-8+147-152-NL</text>
<text font-size="23" transform="translate(534.4 2364.66) scale(1.0210 1)" text-anchor="end" font-weight="bold">ABE8e Δ158-167-NL</text>
<text font-size="23" transform="translate(534.4 2398.65) scale(1.0210 1)" text-anchor="end" font-weight="bold">ABE8e Δ147-152-NL</text>
<text font-size="23" transform="translate(534.4 2432.64) scale(1.0210 1)" text-anchor="end" font-weight="bold">ABE8e Δ2-8-NL</text>
<text font-size="23" transform="translate(534.4 2466.63) scale(1.0210 1)" text-anchor="end" font-weight="bold">ABE9</text>
<text font-size="23" transform="translate(534.4 2500.62) scale(1.0210 1)" text-anchor="end" font-weight="bold">ABE8e</text>
<rect x="751.4" y="2242.95" width="20.28" height="22.5" fill="#bfe3b0"/>
<rect x="751.4" y="2276.75" width="76.39" height="22.5" fill="#bfe3b0"/>
<rect x="751.4" y="2310.55" width="113.61" height="22.5" fill="#bfe3b0"/>
<rect x="751.4" y="2344.35" width="87.78" height="22.5" fill="#bfe3b0"/>
<rect x="751.4" y="2378.15" width="125" height="22.5" fill="#bfe3b0"/>
<rect x="751.4" y="2411.95" width="91.11" height="22.5" fill="#bfe3b0"/>
<rect x="751.4" y="2445.75" width="85.83" height="22.5" fill="#bfe3b0"/>
<rect x="751.4" y="2479.55" width="153.61" height="22.5" fill="#bfe3b0"/>
<line x1="746.9" y1="2220.4" x2="751.4" y2="2220.4" stroke="#000" stroke-width="1.3"/>
<line x1="746.9" y1="2254.2" x2="751.4" y2="2254.2" stroke="#000" stroke-width="1.3"/>
<line x1="746.9" y1="2288" x2="751.4" y2="2288" stroke="#000" stroke-width="1.3"/>
<line x1="746.9" y1="2321.8" x2="751.4" y2="2321.8" stroke="#000" stroke-width="1.3"/>
<line x1="746.9" y1="2355.6" x2="751.4" y2="2355.6" stroke="#000" stroke-width="1.3"/>
<line x1="746.9" y1="2389.4" x2="751.4" y2="2389.4" stroke="#000" stroke-width="1.3"/>
<line x1="746.9" y1="2423.2" x2="751.4" y2="2423.2" stroke="#000" stroke-width="1.3"/>
<line x1="746.9" y1="2457" x2="751.4" y2="2457" stroke="#000" stroke-width="1.3"/>
<line x1="746.9" y1="2490.8" x2="751.4" y2="2490.8" stroke="#000" stroke-width="1.3"/>
<line x1="751.4" y1="2512.8" x2="751.4" y2="2516.4" stroke="#000" stroke-width="1.3"/>
<line x1="787" y1="2512.8" x2="787" y2="2516.4" stroke="#000" stroke-width="1.3"/>
<line x1="822.6" y1="2512.8" x2="822.6" y2="2516.4" stroke="#000" stroke-width="1.3"/>
<line x1="858.2" y1="2512.8" x2="858.2" y2="2516.4" stroke="#000" stroke-width="1.3"/>
<line x1="893.8" y1="2512.8" x2="893.8" y2="2516.4" stroke="#000" stroke-width="1.3"/>
<line x1="929.4" y1="2512.8" x2="929.4" y2="2516.4" stroke="#000" stroke-width="1.3"/>
<path d="M751.4 2196.8 V2512.8 H930" fill="none" stroke="#000" stroke-width="1.7"/>
<text font-size="16.5" transform="translate(751.4 2535.6) scale(1.0500 1)" text-anchor="middle" font-weight="bold">0</text>
<text font-size="16.5" transform="translate(787 2535.6) scale(1.0500 1)" text-anchor="middle" font-weight="bold">20</text>
<text font-size="16.5" transform="translate(822.6 2535.6) scale(1.0500 1)" text-anchor="middle" font-weight="bold">40</text>
<text font-size="16.5" transform="translate(858.2 2535.6) scale(1.0500 1)" text-anchor="middle" font-weight="bold">60</text>
<text font-size="16.5" transform="translate(893.8 2535.6) scale(1.0500 1)" text-anchor="middle" font-weight="bold">80</text>
<text font-size="16.5" transform="translate(929.4 2535.6) scale(1.0500 1)" text-anchor="middle" font-weight="bold">100</text>
<circle cx="751.7" cy="2217" r="1.3" fill="#000" stroke="#111" stroke-width="0.8"/>
<circle cx="751.7" cy="2220.4" r="1.3" fill="#000" stroke="#111" stroke-width="0.8"/>
<circle cx="751.7" cy="2223.8" r="1.3" fill="#000" stroke="#111" stroke-width="0.8"/>
<line x1="769.73" y1="2254.2" x2="773.07" y2="2254.2" stroke="#000" stroke-width="1.1"/>
<line x1="769.73" y1="2250.95" x2="769.73" y2="2257.45" stroke="#000" stroke-width="1.1"/>
<line x1="773.07" y1="2250.95" x2="773.07" y2="2257.45" stroke="#000" stroke-width="1.1"/>
<circle cx="770.4" cy="2251.6" r="1.3" fill="none" stroke="#111" stroke-width="0.95"/>
<circle cx="772.4" cy="2254.2" r="1.3" fill="none" stroke="#111" stroke-width="0.95"/>
<circle cx="771.4" cy="2256.8" r="1.3" fill="none" stroke="#111" stroke-width="0.95"/>
<line x1="823.07" y1="2288" x2="832.79" y2="2288" stroke="#000" stroke-width="1.1"/>
<line x1="823.07" y1="2284.75" x2="823.07" y2="2291.25" stroke="#000" stroke-width="1.1"/>
<line x1="832.79" y1="2284.75" x2="832.79" y2="2291.25" stroke="#000" stroke-width="1.1"/>
<circle cx="826.93" cy="2285.4" r="1.3" fill="none" stroke="#111" stroke-width="0.95"/>
<circle cx="828.93" cy="2288" r="1.3" fill="none" stroke="#111" stroke-width="0.95"/>
<circle cx="827.93" cy="2290.6" r="1.3" fill="none" stroke="#111" stroke-width="0.95"/>
<line x1="860.57" y1="2321.8" x2="870.29" y2="2321.8" stroke="#000" stroke-width="1.1"/>
<line x1="860.57" y1="2318.55" x2="860.57" y2="2325.05" stroke="#000" stroke-width="1.1"/>
<line x1="870.29" y1="2318.55" x2="870.29" y2="2325.05" stroke="#000" stroke-width="1.1"/>
<circle cx="864.43" cy="2319.2" r="1.3" fill="none" stroke="#111" stroke-width="0.95"/>
<circle cx="866.43" cy="2321.8" r="1.3" fill="none" stroke="#111" stroke-width="0.95"/>
<circle cx="865.43" cy="2324.4" r="1.3" fill="none" stroke="#111" stroke-width="0.95"/>
<line x1="836.4" y1="2355.6" x2="842.51" y2="2355.6" stroke="#000" stroke-width="1.1"/>
<line x1="836.4" y1="2352.35" x2="836.4" y2="2358.85" stroke="#000" stroke-width="1.1"/>
<line x1="842.51" y1="2352.35" x2="842.51" y2="2358.85" stroke="#000" stroke-width="1.1"/>
<circle cx="838.46" cy="2353" r="1.3" fill="none" stroke="#111" stroke-width="0.95"/>
<circle cx="840.46" cy="2355.6" r="1.3" fill="none" stroke="#111" stroke-width="0.95"/>
<circle cx="839.46" cy="2358.2" r="1.3" fill="none" stroke="#111" stroke-width="0.95"/>
<line x1="860.57" y1="2389.4" x2="892.51" y2="2389.4" stroke="#000" stroke-width="1.3"/>
<line x1="860.57" y1="2386.15" x2="860.57" y2="2392.65" stroke="#000" stroke-width="1.3"/>
<line x1="892.51" y1="2386.15" x2="892.51" y2="2392.65" stroke="#000" stroke-width="1.3"/>
<circle cx="857.57" cy="2389.4" r="1.3" fill="none" stroke="#111" stroke-width="0.95"/>
<circle cx="885.46" cy="2387.4" r="1.3" fill="none" stroke="#111" stroke-width="0.95"/>
<circle cx="886.46" cy="2391.4" r="1.3" fill="none" stroke="#111" stroke-width="0.95"/>
<line x1="817.79" y1="2423.2" x2="868.07" y2="2423.2" stroke="#000" stroke-width="1.3"/>
<line x1="817.79" y1="2419.95" x2="817.79" y2="2426.45" stroke="#000" stroke-width="1.3"/>
<line x1="868.07" y1="2419.95" x2="868.07" y2="2426.45" stroke="#000" stroke-width="1.3"/>
<circle cx="814.79" cy="2423.2" r="1.3" fill="none" stroke="#111" stroke-width="0.95"/>
<circle cx="856.29" cy="2421.2" r="1.3" fill="none" stroke="#111" stroke-width="0.95"/>
<circle cx="857.29" cy="2425.2" r="1.3" fill="none" stroke="#111" stroke-width="0.95"/>
<line x1="835.84" y1="2457" x2="838.9" y2="2457" stroke="#000" stroke-width="1.1"/>
<line x1="835.84" y1="2453.75" x2="835.84" y2="2460.25" stroke="#000" stroke-width="1.1"/>
<line x1="838.9" y1="2453.75" x2="838.9" y2="2460.25" stroke="#000" stroke-width="1.1"/>
<circle cx="836.37" cy="2454.4" r="1.3" fill="none" stroke="#111" stroke-width="0.95"/>
<circle cx="838.37" cy="2457" r="1.3" fill="none" stroke="#111" stroke-width="0.95"/>
<circle cx="837.37" cy="2459.6" r="1.3" fill="none" stroke="#111" stroke-width="0.95"/>
<line x1="902.23" y1="2490.8" x2="907.79" y2="2490.8" stroke="#000" stroke-width="1.1"/>
<line x1="902.23" y1="2487.55" x2="902.23" y2="2494.05" stroke="#000" stroke-width="1.1"/>
<line x1="907.79" y1="2487.55" x2="907.79" y2="2494.05" stroke="#000" stroke-width="1.1"/>
<circle cx="904.01" cy="2488.2" r="1.3" fill="none" stroke="#111" stroke-width="0.95"/>
<circle cx="906.01" cy="2490.8" r="1.3" fill="none" stroke="#111" stroke-width="0.95"/>
<circle cx="905.01" cy="2493.4" r="1.3" fill="none" stroke="#111" stroke-width="0.95"/>
<rect x="970.8" y="2242.95" width="7.78" height="22.5" fill="#bfe3b0"/>
<rect x="970.8" y="2276.75" width="10" height="22.5" fill="#bfe3b0"/>
<rect x="970.8" y="2310.55" width="13.61" height="22.5" fill="#bfe3b0"/>
<rect x="970.8" y="2344.35" width="14.17" height="22.5" fill="#bfe3b0"/>
<rect x="970.8" y="2378.15" width="11.94" height="22.5" fill="#bfe3b0"/>
<rect x="970.8" y="2411.95" width="80.83" height="22.5" fill="#bfe3b0"/>
<rect x="970.8" y="2445.75" width="6.94" height="22.5" fill="#bfe3b0"/>
<rect x="970.8" y="2479.55" width="151.67" height="22.5" fill="#bfe3b0"/>
<line x1="966.3" y1="2220.4" x2="970.8" y2="2220.4" stroke="#000" stroke-width="1.3"/>
<line x1="966.3" y1="2254.2" x2="970.8" y2="2254.2" stroke="#000" stroke-width="1.3"/>
<line x1="966.3" y1="2288" x2="970.8" y2="2288" stroke="#000" stroke-width="1.3"/>
<line x1="966.3" y1="2321.8" x2="970.8" y2="2321.8" stroke="#000" stroke-width="1.3"/>
<line x1="966.3" y1="2355.6" x2="970.8" y2="2355.6" stroke="#000" stroke-width="1.3"/>
<line x1="966.3" y1="2389.4" x2="970.8" y2="2389.4" stroke="#000" stroke-width="1.3"/>
<line x1="966.3" y1="2423.2" x2="970.8" y2="2423.2" stroke="#000" stroke-width="1.3"/>
<line x1="966.3" y1="2457" x2="970.8" y2="2457" stroke="#000" stroke-width="1.3"/>
<line x1="966.3" y1="2490.8" x2="970.8" y2="2490.8" stroke="#000" stroke-width="1.3"/>
<line x1="970.8" y1="2512.8" x2="970.8" y2="2516.4" stroke="#000" stroke-width="1.3"/>
<line x1="1006.4" y1="2512.8" x2="1006.4" y2="2516.4" stroke="#000" stroke-width="1.3"/>
<line x1="1042" y1="2512.8" x2="1042" y2="2516.4" stroke="#000" stroke-width="1.3"/>
<line x1="1077.6" y1="2512.8" x2="1077.6" y2="2516.4" stroke="#000" stroke-width="1.3"/>
<line x1="1113.2" y1="2512.8" x2="1113.2" y2="2516.4" stroke="#000" stroke-width="1.3"/>
<line x1="1148.8" y1="2512.8" x2="1148.8" y2="2516.4" stroke="#000" stroke-width="1.3"/>
<path d="M970.8 2196.8 V2512.8 H1149.4" fill="none" stroke="#000" stroke-width="1.7"/>
<text font-size="16.5" transform="translate(970.8 2535.6) scale(1.0500 1)" text-anchor="middle" font-weight="bold">0</text>
<text font-size="16.5" transform="translate(1006.4 2535.6) scale(1.0500 1)" text-anchor="middle" font-weight="bold">20</text>
<text font-size="16.5" transform="translate(1042 2535.6) scale(1.0500 1)" text-anchor="middle" font-weight="bold">40</text>
<text font-size="16.5" transform="translate(1077.6 2535.6) scale(1.0500 1)" text-anchor="middle" font-weight="bold">60</text>
<text font-size="16.5" transform="translate(1113.2 2535.6) scale(1.0500 1)" text-anchor="middle" font-weight="bold">80</text>
<text font-size="16.5" transform="translate(1148.8 2535.6) scale(1.0500 1)" text-anchor="middle" font-weight="bold">100</text>
<circle cx="971.1" cy="2217" r="1.3" fill="#000" stroke="#111" stroke-width="0.8"/>
<circle cx="971.1" cy="2220.4" r="1.3" fill="#000" stroke="#111" stroke-width="0.8"/>
<circle cx="971.1" cy="2223.8" r="1.3" fill="#000" stroke="#111" stroke-width="0.8"/>
<line x1="976.91" y1="2254.2" x2="980.8" y2="2254.2" stroke="#000" stroke-width="1.1"/>
<line x1="976.91" y1="2250.95" x2="976.91" y2="2257.45" stroke="#000" stroke-width="1.1"/>
<line x1="980.8" y1="2250.95" x2="980.8" y2="2257.45" stroke="#000" stroke-width="1.1"/>
<circle cx="977.86" cy="2251.6" r="1.3" fill="none" stroke="#111" stroke-width="0.95"/>
<circle cx="979.86" cy="2254.2" r="1.3" fill="none" stroke="#111" stroke-width="0.95"/>
<circle cx="978.86" cy="2256.8" r="1.3" fill="none" stroke="#111" stroke-width="0.95"/>
<line x1="979.41" y1="2288" x2="982.19" y2="2288" stroke="#000" stroke-width="1.1"/>
<line x1="979.41" y1="2284.75" x2="979.41" y2="2291.25" stroke="#000" stroke-width="1.1"/>
<line x1="982.19" y1="2284.75" x2="982.19" y2="2291.25" stroke="#000" stroke-width="1.1"/>
<circle cx="979.8" cy="2285.4" r="1.3" fill="none" stroke="#111" stroke-width="0.95"/>
<circle cx="981.8" cy="2288" r="1.3" fill="none" stroke="#111" stroke-width="0.95"/>
<circle cx="980.8" cy="2290.6" r="1.3" fill="none" stroke="#111" stroke-width="0.95"/>
<line x1="982.19" y1="2321.8" x2="986.63" y2="2321.8" stroke="#000" stroke-width="1.1"/>
<line x1="982.19" y1="2318.55" x2="982.19" y2="2325.05" stroke="#000" stroke-width="1.1"/>
<line x1="986.63" y1="2318.55" x2="986.63" y2="2325.05" stroke="#000" stroke-width="1.1"/>
<circle cx="983.41" cy="2319.2" r="1.3" fill="none" stroke="#111" stroke-width="0.95"/>
<circle cx="985.41" cy="2321.8" r="1.3" fill="none" stroke="#111" stroke-width="0.95"/>
<circle cx="984.41" cy="2324.4" r="1.3" fill="none" stroke="#111" stroke-width="0.95"/>
<line x1="979.97" y1="2355.6" x2="988.86" y2="2355.6" stroke="#000" stroke-width="1.1"/>
<line x1="979.97" y1="2352.35" x2="979.97" y2="2358.85" stroke="#000" stroke-width="1.1"/>
<line x1="988.86" y1="2352.35" x2="988.86" y2="2358.85" stroke="#000" stroke-width="1.1"/>
<circle cx="983.41" cy="2353" r="1.3" fill="none" stroke="#111" stroke-width="0.95"/>
<circle cx="985.41" cy="2355.6" r="1.3" fill="none" stroke="#111" stroke-width="0.95"/>
<circle cx="984.41" cy="2358.2" r="1.3" fill="none" stroke="#111" stroke-width="0.95"/>
<line x1="981.36" y1="2389.4" x2="983.86" y2="2389.4" stroke="#000" stroke-width="1.1"/>
<line x1="981.36" y1="2386.15" x2="981.36" y2="2392.65" stroke="#000" stroke-width="1.1"/>
<line x1="983.86" y1="2386.15" x2="983.86" y2="2392.65" stroke="#000" stroke-width="1.1"/>
<circle cx="981.61" cy="2386.8" r="1.3" fill="none" stroke="#111" stroke-width="0.95"/>
<circle cx="983.61" cy="2389.4" r="1.3" fill="none" stroke="#111" stroke-width="0.95"/>
<circle cx="982.61" cy="2392" r="1.3" fill="none" stroke="#111" stroke-width="0.95"/>
<line x1="1026.63" y1="2423.2" x2="1077.19" y2="2423.2" stroke="#000" stroke-width="1.3"/>
<line x1="1026.63" y1="2419.95" x2="1026.63" y2="2426.45" stroke="#000" stroke-width="1.3"/>
<line x1="1077.19" y1="2419.95" x2="1077.19" y2="2426.45" stroke="#000" stroke-width="1.3"/>
<circle cx="1023.63" cy="2423.2" r="1.3" fill="none" stroke="#111" stroke-width="0.95"/>
<circle cx="1065.41" cy="2421.2" r="1.3" fill="none" stroke="#111" stroke-width="0.95"/>
<circle cx="1066.41" cy="2425.2" r="1.3" fill="none" stroke="#111" stroke-width="0.95"/>
<line x1="975.8" y1="2457" x2="979.69" y2="2457" stroke="#000" stroke-width="1.1"/>
<line x1="975.8" y1="2453.75" x2="975.8" y2="2460.25" stroke="#000" stroke-width="1.1"/>
<line x1="979.69" y1="2453.75" x2="979.69" y2="2460.25" stroke="#000" stroke-width="1.1"/>
<circle cx="976.74" cy="2454.4" r="1.3" fill="none" stroke="#111" stroke-width="0.95"/>
<circle cx="978.74" cy="2457" r="1.3" fill="none" stroke="#111" stroke-width="0.95"/>
<circle cx="977.74" cy="2459.6" r="1.3" fill="none" stroke="#111" stroke-width="0.95"/>
<line x1="1119.41" y1="2490.8" x2="1125.8" y2="2490.8" stroke="#000" stroke-width="1.1"/>
<line x1="1119.41" y1="2487.55" x2="1119.41" y2="2494.05" stroke="#000" stroke-width="1.1"/>
<line x1="1125.8" y1="2487.55" x2="1125.8" y2="2494.05" stroke="#000" stroke-width="1.1"/>
<circle cx="1121.61" cy="2488.2" r="1.3" fill="none" stroke="#111" stroke-width="0.95"/>
<circle cx="1123.61" cy="2490.8" r="1.3" fill="none" stroke="#111" stroke-width="0.95"/>
<circle cx="1122.61" cy="2493.4" r="1.3" fill="none" stroke="#111" stroke-width="0.95"/>
<rect x="1182.2" y="2242.95" width="6.11" height="22.5" fill="#bfe3b0"/>
<rect x="1182.2" y="2276.75" width="7.78" height="22.5" fill="#bfe3b0"/>
<rect x="1182.2" y="2310.55" width="5.28" height="22.5" fill="#bfe3b0"/>
<rect x="1182.2" y="2344.35" width="8.06" height="22.5" fill="#bfe3b0"/>
<rect x="1182.2" y="2378.15" width="3.89" height="22.5" fill="#bfe3b0"/>
<rect x="1182.2" y="2411.95" width="17.78" height="22.5" fill="#bfe3b0"/>
<rect x="1182.2" y="2445.75" width="3.89" height="22.5" fill="#bfe3b0"/>
<rect x="1182.2" y="2479.55" width="90.56" height="22.5" fill="#bfe3b0"/>
<line x1="1177.7" y1="2220.4" x2="1182.2" y2="2220.4" stroke="#000" stroke-width="1.3"/>
<line x1="1177.7" y1="2254.2" x2="1182.2" y2="2254.2" stroke="#000" stroke-width="1.3"/>
<line x1="1177.7" y1="2288" x2="1182.2" y2="2288" stroke="#000" stroke-width="1.3"/>
<line x1="1177.7" y1="2321.8" x2="1182.2" y2="2321.8" stroke="#000" stroke-width="1.3"/>
<line x1="1177.7" y1="2355.6" x2="1182.2" y2="2355.6" stroke="#000" stroke-width="1.3"/>
<line x1="1177.7" y1="2389.4" x2="1182.2" y2="2389.4" stroke="#000" stroke-width="1.3"/>
<line x1="1177.7" y1="2423.2" x2="1182.2" y2="2423.2" stroke="#000" stroke-width="1.3"/>
<line x1="1177.7" y1="2457" x2="1182.2" y2="2457" stroke="#000" stroke-width="1.3"/>
<line x1="1177.7" y1="2490.8" x2="1182.2" y2="2490.8" stroke="#000" stroke-width="1.3"/>
<line x1="1182.2" y1="2512.8" x2="1182.2" y2="2516.4" stroke="#000" stroke-width="1.3"/>
<line x1="1217.95" y1="2512.8" x2="1217.95" y2="2516.4" stroke="#000" stroke-width="1.3"/>
<line x1="1253.7" y1="2512.8" x2="1253.7" y2="2516.4" stroke="#000" stroke-width="1.3"/>
<line x1="1289.45" y1="2512.8" x2="1289.45" y2="2516.4" stroke="#000" stroke-width="1.3"/>
<line x1="1325.2" y1="2512.8" x2="1325.2" y2="2516.4" stroke="#000" stroke-width="1.3"/>
<line x1="1360.95" y1="2512.8" x2="1360.95" y2="2516.4" stroke="#000" stroke-width="1.3"/>
<path d="M1182.2 2196.8 V2512.8 H1361.55" fill="none" stroke="#000" stroke-width="1.7"/>
<text font-size="16.5" transform="translate(1182.2 2535.6) scale(1.0500 1)" text-anchor="middle" font-weight="bold">0</text>
<text font-size="16.5" transform="translate(1217.95 2535.6) scale(1.0500 1)" text-anchor="middle" font-weight="bold">2</text>
<text font-size="16.5" transform="translate(1253.7 2535.6) scale(1.0500 1)" text-anchor="middle" font-weight="bold">4</text>
<text font-size="16.5" transform="translate(1289.45 2535.6) scale(1.0500 1)" text-anchor="middle" font-weight="bold">6</text>
<text font-size="16.5" transform="translate(1325.2 2535.6) scale(1.0500 1)" text-anchor="middle" font-weight="bold">8</text>
<text font-size="16.5" transform="translate(1360.95 2535.6) scale(1.0500 1)" text-anchor="middle" font-weight="bold">10</text>
<circle cx="1182.5" cy="2217" r="1.3" fill="#000" stroke="#111" stroke-width="0.8"/>
<circle cx="1182.5" cy="2220.4" r="1.3" fill="#000" stroke="#111" stroke-width="0.8"/>
<circle cx="1182.5" cy="2223.8" r="1.3" fill="#000" stroke="#111" stroke-width="0.8"/>
<line x1="1186.64" y1="2254.2" x2="1189.98" y2="2254.2" stroke="#000" stroke-width="1.1"/>
<line x1="1186.64" y1="2250.95" x2="1186.64" y2="2257.45" stroke="#000" stroke-width="1.1"/>
<line x1="1189.98" y1="2250.95" x2="1189.98" y2="2257.45" stroke="#000" stroke-width="1.1"/>
<circle cx="1187.31" cy="2251.6" r="1.3" fill="none" stroke="#111" stroke-width="0.95"/>
<circle cx="1189.31" cy="2254.2" r="1.3" fill="none" stroke="#111" stroke-width="0.95"/>
<circle cx="1188.31" cy="2256.8" r="1.3" fill="none" stroke="#111" stroke-width="0.95"/>
<line x1="1188.59" y1="2288" x2="1191.37" y2="2288" stroke="#000" stroke-width="1.1"/>
<line x1="1188.59" y1="2284.75" x2="1188.59" y2="2291.25" stroke="#000" stroke-width="1.1"/>
<line x1="1191.37" y1="2284.75" x2="1191.37" y2="2291.25" stroke="#000" stroke-width="1.1"/>
<circle cx="1188.98" cy="2285.4" r="1.3" fill="none" stroke="#111" stroke-width="0.95"/>
<circle cx="1190.98" cy="2288" r="1.3" fill="none" stroke="#111" stroke-width="0.95"/>
<circle cx="1189.98" cy="2290.6" r="1.3" fill="none" stroke="#111" stroke-width="0.95"/>
<line x1="1184.98" y1="2321.8" x2="1189.7" y2="2321.8" stroke="#000" stroke-width="1.1"/>
<line x1="1184.98" y1="2318.55" x2="1184.98" y2="2325.05" stroke="#000" stroke-width="1.1"/>
<line x1="1189.7" y1="2318.55" x2="1189.7" y2="2325.05" stroke="#000" stroke-width="1.1"/>
<circle cx="1186.34" cy="2319.2" r="1.3" fill="none" stroke="#111" stroke-width="0.95"/>
<circle cx="1188.34" cy="2321.8" r="1.3" fill="none" stroke="#111" stroke-width="0.95"/>
<circle cx="1187.34" cy="2324.4" r="1.3" fill="none" stroke="#111" stroke-width="0.95"/>
<line x1="1188.87" y1="2355.6" x2="1191.64" y2="2355.6" stroke="#000" stroke-width="1.1"/>
<line x1="1188.87" y1="2352.35" x2="1188.87" y2="2358.85" stroke="#000" stroke-width="1.1"/>
<line x1="1191.64" y1="2352.35" x2="1191.64" y2="2358.85" stroke="#000" stroke-width="1.1"/>
<circle cx="1189.26" cy="2353" r="1.3" fill="none" stroke="#111" stroke-width="0.95"/>
<circle cx="1191.26" cy="2355.6" r="1.3" fill="none" stroke="#111" stroke-width="0.95"/>
<circle cx="1190.26" cy="2358.2" r="1.3" fill="none" stroke="#111" stroke-width="0.95"/>
<line x1="1184.7" y1="2389.4" x2="1187.76" y2="2389.4" stroke="#000" stroke-width="1.1"/>
<line x1="1184.7" y1="2386.15" x2="1184.7" y2="2392.65" stroke="#000" stroke-width="1.1"/>
<line x1="1187.76" y1="2386.15" x2="1187.76" y2="2392.65" stroke="#000" stroke-width="1.1"/>
<circle cx="1185.23" cy="2386.8" r="1.3" fill="none" stroke="#111" stroke-width="0.95"/>
<circle cx="1187.23" cy="2389.4" r="1.3" fill="none" stroke="#111" stroke-width="0.95"/>
<circle cx="1186.23" cy="2392" r="1.3" fill="none" stroke="#111" stroke-width="0.95"/>
<line x1="1193.31" y1="2423.2" x2="1206.37" y2="2423.2" stroke="#000" stroke-width="1.3"/>
<line x1="1193.31" y1="2419.95" x2="1193.31" y2="2426.45" stroke="#000" stroke-width="1.3"/>
<line x1="1206.37" y1="2419.95" x2="1206.37" y2="2426.45" stroke="#000" stroke-width="1.3"/>
<circle cx="1190.31" cy="2423.2" r="1.3" fill="none" stroke="#111" stroke-width="0.95"/>
<circle cx="1204.17" cy="2421.2" r="1.3" fill="none" stroke="#111" stroke-width="0.95"/>
<circle cx="1205.17" cy="2425.2" r="1.3" fill="none" stroke="#111" stroke-width="0.95"/>
<line x1="1184.7" y1="2457" x2="1187.76" y2="2457" stroke="#000" stroke-width="1.1"/>
<line x1="1184.7" y1="2453.75" x2="1184.7" y2="2460.25" stroke="#000" stroke-width="1.1"/>
<line x1="1187.76" y1="2453.75" x2="1187.76" y2="2460.25" stroke="#000" stroke-width="1.1"/>
<circle cx="1185.23" cy="2454.4" r="1.3" fill="none" stroke="#111" stroke-width="0.95"/>
<circle cx="1187.23" cy="2457" r="1.3" fill="none" stroke="#111" stroke-width="0.95"/>
<circle cx="1186.23" cy="2459.6" r="1.3" fill="none" stroke="#111" stroke-width="0.95"/>
<line x1="1253.31" y1="2490.8" x2="1291.37" y2="2490.8" stroke="#000" stroke-width="1.3"/>
<line x1="1253.31" y1="2487.55" x2="1253.31" y2="2494.05" stroke="#000" stroke-width="1.3"/>
<line x1="1291.37" y1="2487.55" x2="1291.37" y2="2494.05" stroke="#000" stroke-width="1.3"/>
<circle cx="1260.5" cy="2489.4" r="1.3" fill="none" stroke="#111" stroke-width="0.95"/>
<circle cx="1262.5" cy="2492.4" r="1.3" fill="none" stroke="#111" stroke-width="0.95"/>
<circle cx="1294.4" cy="2490.8" r="1.3" fill="none" stroke="#111" stroke-width="0.95"/>
<rect x="1391.7" y="2242.95" width="4.44" height="22.5" fill="#bfe3b0"/>
<rect x="1391.7" y="2276.75" width="8.33" height="22.5" fill="#bfe3b0"/>
<rect x="1391.7" y="2310.55" width="4.44" height="22.5" fill="#bfe3b0"/>
<rect x="1391.7" y="2344.35" width="13.33" height="22.5" fill="#bfe3b0"/>
<rect x="1391.7" y="2378.15" width="2.78" height="22.5" fill="#bfe3b0"/>
<rect x="1391.7" y="2411.95" width="9.17" height="22.5" fill="#bfe3b0"/>
<rect x="1391.7" y="2445.75" width="2.22" height="22.5" fill="#bfe3b0"/>
<rect x="1391.7" y="2479.55" width="42.5" height="22.5" fill="#bfe3b0"/>
<line x1="1387.2" y1="2220.4" x2="1391.7" y2="2220.4" stroke="#000" stroke-width="1.3"/>
<line x1="1387.2" y1="2254.2" x2="1391.7" y2="2254.2" stroke="#000" stroke-width="1.3"/>
<line x1="1387.2" y1="2288" x2="1391.7" y2="2288" stroke="#000" stroke-width="1.3"/>
<line x1="1387.2" y1="2321.8" x2="1391.7" y2="2321.8" stroke="#000" stroke-width="1.3"/>
<line x1="1387.2" y1="2355.6" x2="1391.7" y2="2355.6" stroke="#000" stroke-width="1.3"/>
<line x1="1387.2" y1="2389.4" x2="1391.7" y2="2389.4" stroke="#000" stroke-width="1.3"/>
<line x1="1387.2" y1="2423.2" x2="1391.7" y2="2423.2" stroke="#000" stroke-width="1.3"/>
<line x1="1387.2" y1="2457" x2="1391.7" y2="2457" stroke="#000" stroke-width="1.3"/>
<line x1="1387.2" y1="2490.8" x2="1391.7" y2="2490.8" stroke="#000" stroke-width="1.3"/>
<line x1="1391.7" y1="2512.8" x2="1391.7" y2="2516.4" stroke="#000" stroke-width="1.3"/>
<line x1="1427.5" y1="2512.8" x2="1427.5" y2="2516.4" stroke="#000" stroke-width="1.3"/>
<line x1="1463.3" y1="2512.8" x2="1463.3" y2="2516.4" stroke="#000" stroke-width="1.3"/>
<line x1="1499.1" y1="2512.8" x2="1499.1" y2="2516.4" stroke="#000" stroke-width="1.3"/>
<line x1="1534.9" y1="2512.8" x2="1534.9" y2="2516.4" stroke="#000" stroke-width="1.3"/>
<line x1="1570.7" y1="2512.8" x2="1570.7" y2="2516.4" stroke="#000" stroke-width="1.3"/>
<path d="M1391.7 2196.8 V2512.8 H1571.3" fill="none" stroke="#000" stroke-width="1.7"/>
<text font-size="16.5" transform="translate(1391.7 2535.6) scale(1.0500 1)" text-anchor="middle" font-weight="bold">0</text>
<text font-size="16.5" transform="translate(1427.5 2535.6) scale(1.0500 1)" text-anchor="middle" font-weight="bold">1</text>
<text font-size="16.5" transform="translate(1463.3 2535.6) scale(1.0500 1)" text-anchor="middle" font-weight="bold">2</text>
<text font-size="16.5" transform="translate(1499.1 2535.6) scale(1.0500 1)" text-anchor="middle" font-weight="bold">3</text>
<text font-size="16.5" transform="translate(1534.9 2535.6) scale(1.0500 1)" text-anchor="middle" font-weight="bold">4</text>
<text font-size="16.5" transform="translate(1570.7 2535.6) scale(1.0500 1)" text-anchor="middle" font-weight="bold">5</text>
<circle cx="1392" cy="2217" r="1.3" fill="#000" stroke="#111" stroke-width="0.8"/>
<circle cx="1392" cy="2220.4" r="1.3" fill="#000" stroke="#111" stroke-width="0.8"/>
<circle cx="1392" cy="2223.8" r="1.3" fill="#000" stroke="#111" stroke-width="0.8"/>
<line x1="1393.92" y1="2254.2" x2="1398.64" y2="2254.2" stroke="#000" stroke-width="1.1"/>
<line x1="1393.92" y1="2250.95" x2="1393.92" y2="2257.45" stroke="#000" stroke-width="1.1"/>
<line x1="1398.64" y1="2250.95" x2="1398.64" y2="2257.45" stroke="#000" stroke-width="1.1"/>
<circle cx="1395.28" cy="2251.6" r="1.3" fill="none" stroke="#111" stroke-width="0.95"/>
<circle cx="1397.28" cy="2254.2" r="1.3" fill="none" stroke="#111" stroke-width="0.95"/>
<circle cx="1396.28" cy="2256.8" r="1.3" fill="none" stroke="#111" stroke-width="0.95"/>
<line x1="1394.48" y1="2288" x2="1405.59" y2="2288" stroke="#000" stroke-width="1.1"/>
<line x1="1394.48" y1="2284.75" x2="1394.48" y2="2291.25" stroke="#000" stroke-width="1.1"/>
<line x1="1405.59" y1="2284.75" x2="1405.59" y2="2291.25" stroke="#000" stroke-width="1.1"/>
<circle cx="1399.03" cy="2285.4" r="1.3" fill="none" stroke="#111" stroke-width="0.95"/>
<circle cx="1401.03" cy="2288" r="1.3" fill="none" stroke="#111" stroke-width="0.95"/>
<circle cx="1400.03" cy="2290.6" r="1.3" fill="none" stroke="#111" stroke-width="0.95"/>
<line x1="1393.92" y1="2321.8" x2="1398.64" y2="2321.8" stroke="#000" stroke-width="1.1"/>
<line x1="1393.92" y1="2318.55" x2="1393.92" y2="2325.05" stroke="#000" stroke-width="1.1"/>
<line x1="1398.64" y1="2318.55" x2="1398.64" y2="2325.05" stroke="#000" stroke-width="1.1"/>
<circle cx="1395.28" cy="2319.2" r="1.3" fill="none" stroke="#111" stroke-width="0.95"/>
<circle cx="1397.28" cy="2321.8" r="1.3" fill="none" stroke="#111" stroke-width="0.95"/>
<circle cx="1396.28" cy="2324.4" r="1.3" fill="none" stroke="#111" stroke-width="0.95"/>
<line x1="1402.26" y1="2355.6" x2="1406.42" y2="2355.6" stroke="#000" stroke-width="1.1"/>
<line x1="1402.26" y1="2352.35" x2="1402.26" y2="2358.85" stroke="#000" stroke-width="1.1"/>
<line x1="1406.42" y1="2352.35" x2="1406.42" y2="2358.85" stroke="#000" stroke-width="1.1"/>
<circle cx="1403.34" cy="2353" r="1.3" fill="none" stroke="#111" stroke-width="0.95"/>
<circle cx="1405.34" cy="2355.6" r="1.3" fill="none" stroke="#111" stroke-width="0.95"/>
<circle cx="1404.34" cy="2358.2" r="1.3" fill="none" stroke="#111" stroke-width="0.95"/>
<circle cx="1395.68" cy="2384.4" r="1.3" fill="none" stroke="#111" stroke-width="0.95"/>
<circle cx="1395.68" cy="2389.4" r="1.3" fill="none" stroke="#111" stroke-width="0.95"/>
<circle cx="1395.68" cy="2394.4" r="1.3" fill="none" stroke="#111" stroke-width="0.95"/>
<line x1="1395.31" y1="2423.2" x2="1406.42" y2="2423.2" stroke="#000" stroke-width="1.1"/>
<line x1="1395.31" y1="2419.95" x2="1395.31" y2="2426.45" stroke="#000" stroke-width="1.1"/>
<line x1="1406.42" y1="2419.95" x2="1406.42" y2="2426.45" stroke="#000" stroke-width="1.1"/>
<circle cx="1399.87" cy="2420.6" r="1.3" fill="none" stroke="#111" stroke-width="0.95"/>
<circle cx="1401.87" cy="2423.2" r="1.3" fill="none" stroke="#111" stroke-width="0.95"/>
<circle cx="1400.87" cy="2425.8" r="1.3" fill="none" stroke="#111" stroke-width="0.95"/>
<line x1="1391.14" y1="2457" x2="1395.59" y2="2457" stroke="#000" stroke-width="1.1"/>
<line x1="1391.14" y1="2453.75" x2="1391.14" y2="2460.25" stroke="#000" stroke-width="1.1"/>
<line x1="1395.59" y1="2453.75" x2="1395.59" y2="2460.25" stroke="#000" stroke-width="1.1"/>
<circle cx="1392.37" cy="2454.4" r="1.3" fill="none" stroke="#111" stroke-width="0.95"/>
<circle cx="1394.37" cy="2457" r="1.3" fill="none" stroke="#111" stroke-width="0.95"/>
<circle cx="1393.37" cy="2459.6" r="1.3" fill="none" stroke="#111" stroke-width="0.95"/>
<line x1="1415.31" y1="2490.8" x2="1452.81" y2="2490.8" stroke="#000" stroke-width="1.3"/>
<line x1="1415.31" y1="2487.55" x2="1415.31" y2="2494.05" stroke="#000" stroke-width="1.3"/>
<line x1="1452.81" y1="2487.55" x2="1452.81" y2="2494.05" stroke="#000" stroke-width="1.3"/>
<circle cx="1423.4" cy="2489.2" r="1.3" fill="none" stroke="#111" stroke-width="0.95"/>
<circle cx="1423.4" cy="2492.4" r="1.3" fill="none" stroke="#111" stroke-width="0.95"/>
<circle cx="1455.6" cy="2490.8" r="1.3" fill="none" stroke="#111" stroke-width="0.95"/>
</svg>
</body>
</html>
